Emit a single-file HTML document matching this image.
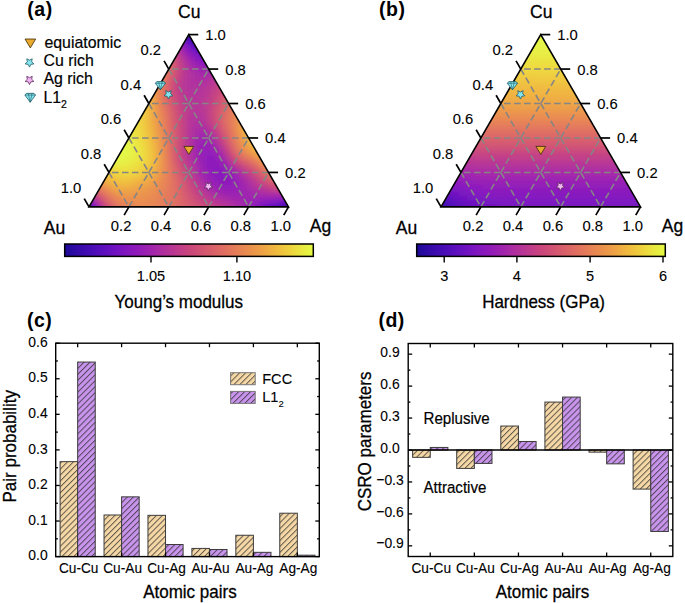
<!DOCTYPE html><html><head><meta charset="utf-8"><style>html,body{margin:0;padding:0;background:#fff;}svg{display:block;}text{font-family:"Liberation Sans", sans-serif;fill:#000;stroke:#000;}</style></head><body>
<svg width="685" height="603" viewBox="0 0 685 603">
<rect width="685" height="603" fill="#fff"/>
<defs><filter id="blur" x="-5%" y="-5%" width="110%" height="110%"><feGaussianBlur stdDeviation="1.8"/></filter>
<pattern id="hf" patternUnits="userSpaceOnUse" width="4.2" height="4.2" patternTransform="rotate(45)"><line x1="0.5" y1="0" x2="0.5" y2="4.2" stroke="#222" stroke-opacity="0.7" stroke-width="1.0"/></pattern>
<pattern id="hl" patternUnits="userSpaceOnUse" width="4.2" height="4.2" patternTransform="rotate(45)"><line x1="0.5" y1="0" x2="0.5" y2="4.2" stroke="#222" stroke-opacity="0.7" stroke-width="1.0"/></pattern>
</defs>
<text transform="translate(27.30,16.00)" font-size="19.5" text-anchor="start" font-weight="bold" stroke-width="0" letter-spacing="0.5">(a)</text>
<text transform="translate(379.00,16.00)" font-size="19.5" text-anchor="start" font-weight="bold" stroke-width="0" letter-spacing="0.5">(b)</text>
<text transform="translate(26.90,327.00)" font-size="19.5" text-anchor="start" font-weight="bold" stroke-width="0" letter-spacing="0.5">(c)</text>
<text transform="translate(378.40,327.00)" font-size="19.5" text-anchor="start" font-weight="bold" stroke-width="0" letter-spacing="0.5">(d)</text>
<clipPath id="ca"><polygon points="89,206.9 288.5,206.9 188.75,34.6"/></clipPath>
<g clip-path="url(#ca)"><g filter="url(#blur)">
<rect x="183" y="28.6" width="4.3" height="4.3" fill="#3b0bac"/>
<rect x="187" y="28.6" width="4.3" height="4.3" fill="#310aa4"/>
<rect x="191" y="28.6" width="4.3" height="4.3" fill="#350ba8"/>
<rect x="179" y="32.6" width="4.3" height="4.3" fill="#6b10c0"/>
<rect x="183" y="32.6" width="4.3" height="4.3" fill="#4a0db7"/>
<rect x="187" y="32.6" width="4.3" height="4.3" fill="#300aa4"/>
<rect x="191" y="32.6" width="4.3" height="4.3" fill="#3c0bad"/>
<rect x="195" y="32.6" width="4.3" height="4.3" fill="#440cb3"/>
<rect x="179" y="36.6" width="4.3" height="4.3" fill="#7f16c0"/>
<rect x="183" y="36.6" width="4.3" height="4.3" fill="#600fbe"/>
<rect x="187" y="36.6" width="4.3" height="4.3" fill="#450cb4"/>
<rect x="191" y="36.6" width="4.3" height="4.3" fill="#410cb1"/>
<rect x="195" y="36.6" width="4.3" height="4.3" fill="#4a0db7"/>
<rect x="175" y="40.6" width="4.3" height="4.3" fill="#a225ab"/>
<rect x="179" y="40.6" width="4.3" height="4.3" fill="#8e19ba"/>
<rect x="183" y="40.6" width="4.3" height="4.3" fill="#7512c0"/>
<rect x="187" y="40.6" width="4.3" height="4.3" fill="#5e0ebd"/>
<rect x="191" y="40.6" width="4.3" height="4.3" fill="#490db6"/>
<rect x="195" y="40.6" width="4.3" height="4.3" fill="#500dba"/>
<rect x="199" y="40.6" width="4.3" height="4.3" fill="#5b0ebc"/>
<rect x="171" y="44.6" width="4.3" height="4.3" fill="#bc3a8e"/>
<rect x="175" y="44.6" width="4.3" height="4.3" fill="#ad2e9f"/>
<rect x="179" y="44.6" width="4.3" height="4.3" fill="#9b21b1"/>
<rect x="183" y="44.6" width="4.3" height="4.3" fill="#8917bc"/>
<rect x="187" y="44.6" width="4.3" height="4.3" fill="#7513c0"/>
<rect x="191" y="44.6" width="4.3" height="4.3" fill="#610fbe"/>
<rect x="195" y="44.6" width="4.3" height="4.3" fill="#570ebc"/>
<rect x="199" y="44.6" width="4.3" height="4.3" fill="#630fbe"/>
<rect x="171" y="48.6" width="4.3" height="4.3" fill="#c44183"/>
<rect x="175" y="48.6" width="4.3" height="4.3" fill="#b83693"/>
<rect x="179" y="48.6" width="4.3" height="4.3" fill="#a92aa4"/>
<rect x="183" y="48.6" width="4.3" height="4.3" fill="#981fb4"/>
<rect x="187" y="48.6" width="4.3" height="4.3" fill="#8817bd"/>
<rect x="191" y="48.6" width="4.3" height="4.3" fill="#7713c0"/>
<rect x="195" y="48.6" width="4.3" height="4.3" fill="#660fbf"/>
<rect x="199" y="48.6" width="4.3" height="4.3" fill="#6a10bf"/>
<rect x="203" y="48.6" width="4.3" height="4.3" fill="#7312c0"/>
<rect x="167" y="52.6" width="4.3" height="4.3" fill="#d25572"/>
<rect x="171" y="52.6" width="4.3" height="4.3" fill="#cb4a7a"/>
<rect x="175" y="52.6" width="4.3" height="4.3" fill="#c13f87"/>
<rect x="179" y="52.6" width="4.3" height="4.3" fill="#b33299"/>
<rect x="183" y="52.6" width="4.3" height="4.3" fill="#a326aa"/>
<rect x="187" y="52.6" width="4.3" height="4.3" fill="#951db5"/>
<rect x="191" y="52.6" width="4.3" height="4.3" fill="#8817bd"/>
<rect x="195" y="52.6" width="4.3" height="4.3" fill="#7a14c0"/>
<rect x="199" y="52.6" width="4.3" height="4.3" fill="#7011c0"/>
<rect x="203" y="52.6" width="4.3" height="4.3" fill="#7c14c0"/>
<rect x="207" y="52.6" width="4.3" height="4.3" fill="#8516be"/>
<rect x="167" y="56.6" width="4.3" height="4.3" fill="#d75d6c"/>
<rect x="171" y="56.6" width="4.3" height="4.3" fill="#d15373"/>
<rect x="175" y="56.6" width="4.3" height="4.3" fill="#c8457e"/>
<rect x="179" y="56.6" width="4.3" height="4.3" fill="#ba3890"/>
<rect x="183" y="56.6" width="4.3" height="4.3" fill="#ac2da0"/>
<rect x="187" y="56.6" width="4.3" height="4.3" fill="#a024ad"/>
<rect x="191" y="56.6" width="4.3" height="4.3" fill="#931cb7"/>
<rect x="195" y="56.6" width="4.3" height="4.3" fill="#8917bd"/>
<rect x="199" y="56.6" width="4.3" height="4.3" fill="#8016c0"/>
<rect x="203" y="56.6" width="4.3" height="4.3" fill="#8316bf"/>
<rect x="207" y="56.6" width="4.3" height="4.3" fill="#8c18bb"/>
<rect x="163" y="60.6" width="4.3" height="4.3" fill="#de6b63"/>
<rect x="167" y="60.6" width="4.3" height="4.3" fill="#db6468"/>
<rect x="171" y="60.6" width="4.3" height="4.3" fill="#d65b6e"/>
<rect x="175" y="60.6" width="4.3" height="4.3" fill="#cb497a"/>
<rect x="179" y="60.6" width="4.3" height="4.3" fill="#bf3c8a"/>
<rect x="183" y="60.6" width="4.3" height="4.3" fill="#b33299"/>
<rect x="187" y="60.6" width="4.3" height="4.3" fill="#a82aa5"/>
<rect x="191" y="60.6" width="4.3" height="4.3" fill="#9c21b0"/>
<rect x="195" y="60.6" width="4.3" height="4.3" fill="#941db6"/>
<rect x="199" y="60.6" width="4.3" height="4.3" fill="#8e19ba"/>
<rect x="203" y="60.6" width="4.3" height="4.3" fill="#8a18bc"/>
<rect x="207" y="60.6" width="4.3" height="4.3" fill="#921bb8"/>
<rect x="211" y="60.6" width="4.3" height="4.3" fill="#991fb3"/>
<rect x="159" y="64.6" width="4.3" height="4.3" fill="#e1735e"/>
<rect x="163" y="64.6" width="4.3" height="4.3" fill="#e07060"/>
<rect x="167" y="64.6" width="4.3" height="4.3" fill="#dd6a64"/>
<rect x="171" y="64.6" width="4.3" height="4.3" fill="#d65c6d"/>
<rect x="175" y="64.6" width="4.3" height="4.3" fill="#cc4b79"/>
<rect x="179" y="64.6" width="4.3" height="4.3" fill="#c13f86"/>
<rect x="183" y="64.6" width="4.3" height="4.3" fill="#b73594"/>
<rect x="187" y="64.6" width="4.3" height="4.3" fill="#ac2da0"/>
<rect x="191" y="64.6" width="4.3" height="4.3" fill="#a427a9"/>
<rect x="195" y="64.6" width="4.3" height="4.3" fill="#9e22af"/>
<rect x="199" y="64.6" width="4.3" height="4.3" fill="#9920b3"/>
<rect x="203" y="64.6" width="4.3" height="4.3" fill="#951db5"/>
<rect x="207" y="64.6" width="4.3" height="4.3" fill="#981fb4"/>
<rect x="211" y="64.6" width="4.3" height="4.3" fill="#9f23ae"/>
<rect x="159" y="68.6" width="4.3" height="4.3" fill="#e3775b"/>
<rect x="163" y="68.6" width="4.3" height="4.3" fill="#e1735e"/>
<rect x="167" y="68.6" width="4.3" height="4.3" fill="#de6b63"/>
<rect x="171" y="68.6" width="4.3" height="4.3" fill="#d65b6e"/>
<rect x="175" y="68.6" width="4.3" height="4.3" fill="#cc4b79"/>
<rect x="179" y="68.6" width="4.3" height="4.3" fill="#c23f85"/>
<rect x="183" y="68.6" width="4.3" height="4.3" fill="#b83693"/>
<rect x="187" y="68.6" width="4.3" height="4.3" fill="#b02f9d"/>
<rect x="191" y="68.6" width="4.3" height="4.3" fill="#a92aa4"/>
<rect x="195" y="68.6" width="4.3" height="4.3" fill="#a326aa"/>
<rect x="199" y="68.6" width="4.3" height="4.3" fill="#a024ad"/>
<rect x="203" y="68.6" width="4.3" height="4.3" fill="#9f23ae"/>
<rect x="207" y="68.6" width="4.3" height="4.3" fill="#9f23ae"/>
<rect x="211" y="68.6" width="4.3" height="4.3" fill="#a427a9"/>
<rect x="215" y="68.6" width="4.3" height="4.3" fill="#ab2ca2"/>
<rect x="155" y="72.6" width="4.3" height="4.3" fill="#e57d58"/>
<rect x="159" y="72.6" width="4.3" height="4.3" fill="#e47a5a"/>
<rect x="163" y="72.6" width="4.3" height="4.3" fill="#e3775b"/>
<rect x="167" y="72.6" width="4.3" height="4.3" fill="#dc6865"/>
<rect x="171" y="72.6" width="4.3" height="4.3" fill="#d35671"/>
<rect x="175" y="72.6" width="4.3" height="4.3" fill="#ca487b"/>
<rect x="179" y="72.6" width="4.3" height="4.3" fill="#c13e88"/>
<rect x="183" y="72.6" width="4.3" height="4.3" fill="#b83693"/>
<rect x="187" y="72.6" width="4.3" height="4.3" fill="#b2319b"/>
<rect x="191" y="72.6" width="4.3" height="4.3" fill="#ac2da1"/>
<rect x="195" y="72.6" width="4.3" height="4.3" fill="#a82aa5"/>
<rect x="199" y="72.6" width="4.3" height="4.3" fill="#a628a8"/>
<rect x="203" y="72.6" width="4.3" height="4.3" fill="#a628a8"/>
<rect x="207" y="72.6" width="4.3" height="4.3" fill="#a729a6"/>
<rect x="211" y="72.6" width="4.3" height="4.3" fill="#ab2ca2"/>
<rect x="215" y="72.6" width="4.3" height="4.3" fill="#b2319b"/>
<rect x="219" y="72.6" width="4.3" height="4.3" fill="#b83693"/>
<rect x="155" y="76.6" width="4.3" height="4.3" fill="#e68056"/>
<rect x="159" y="76.6" width="4.3" height="4.3" fill="#e57d58"/>
<rect x="163" y="76.6" width="4.3" height="4.3" fill="#e1735e"/>
<rect x="167" y="76.6" width="4.3" height="4.3" fill="#d96269"/>
<rect x="171" y="76.6" width="4.3" height="4.3" fill="#d05274"/>
<rect x="175" y="76.6" width="4.3" height="4.3" fill="#c7447f"/>
<rect x="179" y="76.6" width="4.3" height="4.3" fill="#be3b8b"/>
<rect x="183" y="76.6" width="4.3" height="4.3" fill="#b73594"/>
<rect x="187" y="76.6" width="4.3" height="4.3" fill="#b2319b"/>
<rect x="191" y="76.6" width="4.3" height="4.3" fill="#af2f9e"/>
<rect x="195" y="76.6" width="4.3" height="4.3" fill="#ab2ca2"/>
<rect x="199" y="76.6" width="4.3" height="4.3" fill="#aa2ba3"/>
<rect x="203" y="76.6" width="4.3" height="4.3" fill="#ab2ca2"/>
<rect x="207" y="76.6" width="4.3" height="4.3" fill="#af2f9e"/>
<rect x="211" y="76.6" width="4.3" height="4.3" fill="#b2319a"/>
<rect x="215" y="76.6" width="4.3" height="4.3" fill="#b83693"/>
<rect x="219" y="76.6" width="4.3" height="4.3" fill="#bd3a8d"/>
<rect x="151" y="80.6" width="4.3" height="4.3" fill="#e98a50"/>
<rect x="155" y="80.6" width="4.3" height="4.3" fill="#e78553"/>
<rect x="159" y="80.6" width="4.3" height="4.3" fill="#e68056"/>
<rect x="163" y="80.6" width="4.3" height="4.3" fill="#e06f61"/>
<rect x="167" y="80.6" width="4.3" height="4.3" fill="#d75d6c"/>
<rect x="171" y="80.6" width="4.3" height="4.3" fill="#ce4d77"/>
<rect x="175" y="80.6" width="4.3" height="4.3" fill="#c44183"/>
<rect x="179" y="80.6" width="4.3" height="4.3" fill="#bc3a8e"/>
<rect x="183" y="80.6" width="4.3" height="4.3" fill="#b53497"/>
<rect x="187" y="80.6" width="4.3" height="4.3" fill="#b1309c"/>
<rect x="191" y="80.6" width="4.3" height="4.3" fill="#af2f9e"/>
<rect x="195" y="80.6" width="4.3" height="4.3" fill="#ad2e9f"/>
<rect x="199" y="80.6" width="4.3" height="4.3" fill="#ad2e9f"/>
<rect x="203" y="80.6" width="4.3" height="4.3" fill="#b02f9d"/>
<rect x="207" y="80.6" width="4.3" height="4.3" fill="#b43398"/>
<rect x="211" y="80.6" width="4.3" height="4.3" fill="#b83693"/>
<rect x="215" y="80.6" width="4.3" height="4.3" fill="#bd3a8d"/>
<rect x="219" y="80.6" width="4.3" height="4.3" fill="#c13e86"/>
<rect x="223" y="80.6" width="4.3" height="4.3" fill="#c64380"/>
<rect x="151" y="84.6" width="4.3" height="4.3" fill="#ea904d"/>
<rect x="155" y="84.6" width="4.3" height="4.3" fill="#e98a50"/>
<rect x="159" y="84.6" width="4.3" height="4.3" fill="#e57d58"/>
<rect x="163" y="84.6" width="4.3" height="4.3" fill="#de6b63"/>
<rect x="167" y="84.6" width="4.3" height="4.3" fill="#d65b6e"/>
<rect x="171" y="84.6" width="4.3" height="4.3" fill="#cc4b79"/>
<rect x="175" y="84.6" width="4.3" height="4.3" fill="#c34084"/>
<rect x="179" y="84.6" width="4.3" height="4.3" fill="#bb398f"/>
<rect x="183" y="84.6" width="4.3" height="4.3" fill="#b53497"/>
<rect x="187" y="84.6" width="4.3" height="4.3" fill="#b1309c"/>
<rect x="191" y="84.6" width="4.3" height="4.3" fill="#b0309d"/>
<rect x="195" y="84.6" width="4.3" height="4.3" fill="#b0309d"/>
<rect x="199" y="84.6" width="4.3" height="4.3" fill="#b1309c"/>
<rect x="203" y="84.6" width="4.3" height="4.3" fill="#b33299"/>
<rect x="207" y="84.6" width="4.3" height="4.3" fill="#b73594"/>
<rect x="211" y="84.6" width="4.3" height="4.3" fill="#bc398e"/>
<rect x="215" y="84.6" width="4.3" height="4.3" fill="#c13f86"/>
<rect x="219" y="84.6" width="4.3" height="4.3" fill="#c7447f"/>
<rect x="223" y="84.6" width="4.3" height="4.3" fill="#ca487b"/>
<rect x="147" y="88.6" width="4.3" height="4.3" fill="#ed9e47"/>
<rect x="151" y="88.6" width="4.3" height="4.3" fill="#ec9849"/>
<rect x="155" y="88.6" width="4.3" height="4.3" fill="#e98e4e"/>
<rect x="159" y="88.6" width="4.3" height="4.3" fill="#e57c58"/>
<rect x="163" y="88.6" width="4.3" height="4.3" fill="#de6b63"/>
<rect x="167" y="88.6" width="4.3" height="4.3" fill="#d65b6e"/>
<rect x="171" y="88.6" width="4.3" height="4.3" fill="#cc4b79"/>
<rect x="175" y="88.6" width="4.3" height="4.3" fill="#c34084"/>
<rect x="179" y="88.6" width="4.3" height="4.3" fill="#bb398f"/>
<rect x="183" y="88.6" width="4.3" height="4.3" fill="#b53497"/>
<rect x="187" y="88.6" width="4.3" height="4.3" fill="#b2319a"/>
<rect x="191" y="88.6" width="4.3" height="4.3" fill="#b1309c"/>
<rect x="195" y="88.6" width="4.3" height="4.3" fill="#b1309c"/>
<rect x="199" y="88.6" width="4.3" height="4.3" fill="#b33299"/>
<rect x="203" y="88.6" width="4.3" height="4.3" fill="#b63596"/>
<rect x="207" y="88.6" width="4.3" height="4.3" fill="#ba3890"/>
<rect x="211" y="88.6" width="4.3" height="4.3" fill="#bf3c8a"/>
<rect x="215" y="88.6" width="4.3" height="4.3" fill="#c54282"/>
<rect x="219" y="88.6" width="4.3" height="4.3" fill="#cb497a"/>
<rect x="223" y="88.6" width="4.3" height="4.3" fill="#ce4d77"/>
<rect x="227" y="88.6" width="4.3" height="4.3" fill="#d15373"/>
<rect x="143" y="92.6" width="4.3" height="4.3" fill="#efae41"/>
<rect x="147" y="92.6" width="4.3" height="4.3" fill="#eea644"/>
<rect x="151" y="92.6" width="4.3" height="4.3" fill="#eda046"/>
<rect x="155" y="92.6" width="4.3" height="4.3" fill="#e98e4e"/>
<rect x="159" y="92.6" width="4.3" height="4.3" fill="#e57c58"/>
<rect x="163" y="92.6" width="4.3" height="4.3" fill="#de6c62"/>
<rect x="167" y="92.6" width="4.3" height="4.3" fill="#d65c6d"/>
<rect x="171" y="92.6" width="4.3" height="4.3" fill="#ce4d77"/>
<rect x="175" y="92.6" width="4.3" height="4.3" fill="#c54282"/>
<rect x="179" y="92.6" width="4.3" height="4.3" fill="#bd3a8d"/>
<rect x="183" y="92.6" width="4.3" height="4.3" fill="#b73594"/>
<rect x="187" y="92.6" width="4.3" height="4.3" fill="#b43398"/>
<rect x="191" y="92.6" width="4.3" height="4.3" fill="#b33299"/>
<rect x="195" y="92.6" width="4.3" height="4.3" fill="#b2319a"/>
<rect x="199" y="92.6" width="4.3" height="4.3" fill="#b43398"/>
<rect x="203" y="92.6" width="4.3" height="4.3" fill="#b73594"/>
<rect x="207" y="92.6" width="4.3" height="4.3" fill="#bc398e"/>
<rect x="211" y="92.6" width="4.3" height="4.3" fill="#c13f86"/>
<rect x="215" y="92.6" width="4.3" height="4.3" fill="#c8447e"/>
<rect x="219" y="92.6" width="4.3" height="4.3" fill="#cd4c78"/>
<rect x="223" y="92.6" width="4.3" height="4.3" fill="#d25472"/>
<rect x="227" y="92.6" width="4.3" height="4.3" fill="#d4596f"/>
<rect x="143" y="96.6" width="4.3" height="4.3" fill="#f0b63f"/>
<rect x="147" y="96.6" width="4.3" height="4.3" fill="#f0af41"/>
<rect x="151" y="96.6" width="4.3" height="4.3" fill="#eea445"/>
<rect x="155" y="96.6" width="4.3" height="4.3" fill="#ea904d"/>
<rect x="159" y="96.6" width="4.3" height="4.3" fill="#e57d58"/>
<rect x="163" y="96.6" width="4.3" height="4.3" fill="#df6d61"/>
<rect x="167" y="96.6" width="4.3" height="4.3" fill="#d85e6b"/>
<rect x="171" y="96.6" width="4.3" height="4.3" fill="#cf4f76"/>
<rect x="175" y="96.6" width="4.3" height="4.3" fill="#c8457e"/>
<rect x="179" y="96.6" width="4.3" height="4.3" fill="#c03d89"/>
<rect x="183" y="96.6" width="4.3" height="4.3" fill="#b93792"/>
<rect x="187" y="96.6" width="4.3" height="4.3" fill="#b63596"/>
<rect x="191" y="96.6" width="4.3" height="4.3" fill="#b43398"/>
<rect x="195" y="96.6" width="4.3" height="4.3" fill="#b33299"/>
<rect x="199" y="96.6" width="4.3" height="4.3" fill="#b53497"/>
<rect x="203" y="96.6" width="4.3" height="4.3" fill="#b93792"/>
<rect x="207" y="96.6" width="4.3" height="4.3" fill="#be3b8b"/>
<rect x="211" y="96.6" width="4.3" height="4.3" fill="#c34084"/>
<rect x="215" y="96.6" width="4.3" height="4.3" fill="#ca487b"/>
<rect x="219" y="96.6" width="4.3" height="4.3" fill="#d05175"/>
<rect x="223" y="96.6" width="4.3" height="4.3" fill="#d55a6e"/>
<rect x="227" y="96.6" width="4.3" height="4.3" fill="#d85f6b"/>
<rect x="231" y="96.6" width="4.3" height="4.3" fill="#db6567"/>
<rect x="139" y="100.6" width="4.3" height="4.3" fill="#f0c13d"/>
<rect x="143" y="100.6" width="4.3" height="4.3" fill="#f0bc3e"/>
<rect x="147" y="100.6" width="4.3" height="4.3" fill="#f0b73f"/>
<rect x="151" y="100.6" width="4.3" height="4.3" fill="#eea445"/>
<rect x="155" y="100.6" width="4.3" height="4.3" fill="#ea914c"/>
<rect x="159" y="100.6" width="4.3" height="4.3" fill="#e68056"/>
<rect x="163" y="100.6" width="4.3" height="4.3" fill="#e07060"/>
<rect x="167" y="100.6" width="4.3" height="4.3" fill="#d9616a"/>
<rect x="171" y="100.6" width="4.3" height="4.3" fill="#d15373"/>
<rect x="175" y="100.6" width="4.3" height="4.3" fill="#ca487b"/>
<rect x="179" y="100.6" width="4.3" height="4.3" fill="#c23f85"/>
<rect x="183" y="100.6" width="4.3" height="4.3" fill="#bc3a8e"/>
<rect x="187" y="100.6" width="4.3" height="4.3" fill="#b73594"/>
<rect x="191" y="100.6" width="4.3" height="4.3" fill="#b53497"/>
<rect x="195" y="100.6" width="4.3" height="4.3" fill="#b43398"/>
<rect x="199" y="100.6" width="4.3" height="4.3" fill="#b63495"/>
<rect x="203" y="100.6" width="4.3" height="4.3" fill="#ba3891"/>
<rect x="207" y="100.6" width="4.3" height="4.3" fill="#bf3c8a"/>
<rect x="211" y="100.6" width="4.3" height="4.3" fill="#c54281"/>
<rect x="215" y="100.6" width="4.3" height="4.3" fill="#cb4a7a"/>
<rect x="219" y="100.6" width="4.3" height="4.3" fill="#d25472"/>
<rect x="223" y="100.6" width="4.3" height="4.3" fill="#d75d6c"/>
<rect x="227" y="100.6" width="4.3" height="4.3" fill="#dc6666"/>
<rect x="231" y="100.6" width="4.3" height="4.3" fill="#de6c62"/>
<rect x="235" y="100.6" width="4.3" height="4.3" fill="#e0715f"/>
<rect x="139" y="104.6" width="4.3" height="4.3" fill="#f0c63c"/>
<rect x="143" y="104.6" width="4.3" height="4.3" fill="#f0c33d"/>
<rect x="147" y="104.6" width="4.3" height="4.3" fill="#f0b83f"/>
<rect x="151" y="104.6" width="4.3" height="4.3" fill="#eea644"/>
<rect x="155" y="104.6" width="4.3" height="4.3" fill="#ea924b"/>
<rect x="159" y="104.6" width="4.3" height="4.3" fill="#e68155"/>
<rect x="163" y="104.6" width="4.3" height="4.3" fill="#e1725e"/>
<rect x="167" y="104.6" width="4.3" height="4.3" fill="#da6368"/>
<rect x="171" y="104.6" width="4.3" height="4.3" fill="#d25572"/>
<rect x="175" y="104.6" width="4.3" height="4.3" fill="#cc4a79"/>
<rect x="179" y="104.6" width="4.3" height="4.3" fill="#c44183"/>
<rect x="183" y="104.6" width="4.3" height="4.3" fill="#bd3a8d"/>
<rect x="187" y="104.6" width="4.3" height="4.3" fill="#b83693"/>
<rect x="191" y="104.6" width="4.3" height="4.3" fill="#b53497"/>
<rect x="195" y="104.6" width="4.3" height="4.3" fill="#b53497"/>
<rect x="199" y="104.6" width="4.3" height="4.3" fill="#b73594"/>
<rect x="203" y="104.6" width="4.3" height="4.3" fill="#ba3890"/>
<rect x="207" y="104.6" width="4.3" height="4.3" fill="#c13e88"/>
<rect x="211" y="104.6" width="4.3" height="4.3" fill="#c8457e"/>
<rect x="215" y="104.6" width="4.3" height="4.3" fill="#ce4d77"/>
<rect x="219" y="104.6" width="4.3" height="4.3" fill="#d45770"/>
<rect x="223" y="104.6" width="4.3" height="4.3" fill="#d96269"/>
<rect x="227" y="104.6" width="4.3" height="4.3" fill="#de6c62"/>
<rect x="231" y="104.6" width="4.3" height="4.3" fill="#e1735e"/>
<rect x="235" y="104.6" width="4.3" height="4.3" fill="#e3785b"/>
<rect x="135" y="108.6" width="4.3" height="4.3" fill="#efcf3c"/>
<rect x="139" y="108.6" width="4.3" height="4.3" fill="#efcb3c"/>
<rect x="143" y="108.6" width="4.3" height="4.3" fill="#f0c83c"/>
<rect x="147" y="108.6" width="4.3" height="4.3" fill="#f0b73f"/>
<rect x="151" y="108.6" width="4.3" height="4.3" fill="#eea644"/>
<rect x="155" y="108.6" width="4.3" height="4.3" fill="#eb944b"/>
<rect x="159" y="108.6" width="4.3" height="4.3" fill="#e78454"/>
<rect x="163" y="108.6" width="4.3" height="4.3" fill="#e2755d"/>
<rect x="167" y="108.6" width="4.3" height="4.3" fill="#dc6666"/>
<rect x="171" y="108.6" width="4.3" height="4.3" fill="#d4596f"/>
<rect x="175" y="108.6" width="4.3" height="4.3" fill="#cd4c78"/>
<rect x="179" y="108.6" width="4.3" height="4.3" fill="#c54281"/>
<rect x="183" y="108.6" width="4.3" height="4.3" fill="#bf3c8a"/>
<rect x="187" y="108.6" width="4.3" height="4.3" fill="#b93792"/>
<rect x="191" y="108.6" width="4.3" height="4.3" fill="#b53497"/>
<rect x="195" y="108.6" width="4.3" height="4.3" fill="#b43398"/>
<rect x="199" y="108.6" width="4.3" height="4.3" fill="#b63495"/>
<rect x="203" y="108.6" width="4.3" height="4.3" fill="#ba3891"/>
<rect x="207" y="108.6" width="4.3" height="4.3" fill="#c13e88"/>
<rect x="211" y="108.6" width="4.3" height="4.3" fill="#c9477c"/>
<rect x="215" y="108.6" width="4.3" height="4.3" fill="#d05175"/>
<rect x="219" y="108.6" width="4.3" height="4.3" fill="#d65c6d"/>
<rect x="223" y="108.6" width="4.3" height="4.3" fill="#dc6666"/>
<rect x="227" y="108.6" width="4.3" height="4.3" fill="#e1715f"/>
<rect x="231" y="108.6" width="4.3" height="4.3" fill="#e47b59"/>
<rect x="235" y="108.6" width="4.3" height="4.3" fill="#e68155"/>
<rect x="239" y="108.6" width="4.3" height="4.3" fill="#e78553"/>
<rect x="135" y="112.6" width="4.3" height="4.3" fill="#eed23c"/>
<rect x="139" y="112.6" width="4.3" height="4.3" fill="#efd13c"/>
<rect x="143" y="112.6" width="4.3" height="4.3" fill="#f0c63c"/>
<rect x="147" y="112.6" width="4.3" height="4.3" fill="#f0b73f"/>
<rect x="151" y="112.6" width="4.3" height="4.3" fill="#efa844"/>
<rect x="155" y="112.6" width="4.3" height="4.3" fill="#eb974a"/>
<rect x="159" y="112.6" width="4.3" height="4.3" fill="#e88652"/>
<rect x="163" y="112.6" width="4.3" height="4.3" fill="#e3775b"/>
<rect x="167" y="112.6" width="4.3" height="4.3" fill="#dd6964"/>
<rect x="171" y="112.6" width="4.3" height="4.3" fill="#d65b6e"/>
<rect x="175" y="112.6" width="4.3" height="4.3" fill="#ce4d77"/>
<rect x="179" y="112.6" width="4.3" height="4.3" fill="#c7447f"/>
<rect x="183" y="112.6" width="4.3" height="4.3" fill="#bf3c8a"/>
<rect x="187" y="112.6" width="4.3" height="4.3" fill="#b93792"/>
<rect x="191" y="112.6" width="4.3" height="4.3" fill="#b43398"/>
<rect x="195" y="112.6" width="4.3" height="4.3" fill="#b33299"/>
<rect x="199" y="112.6" width="4.3" height="4.3" fill="#b43398"/>
<rect x="203" y="112.6" width="4.3" height="4.3" fill="#b93792"/>
<rect x="207" y="112.6" width="4.3" height="4.3" fill="#c13e88"/>
<rect x="211" y="112.6" width="4.3" height="4.3" fill="#c9477c"/>
<rect x="215" y="112.6" width="4.3" height="4.3" fill="#d15373"/>
<rect x="219" y="112.6" width="4.3" height="4.3" fill="#d85e6b"/>
<rect x="223" y="112.6" width="4.3" height="4.3" fill="#dd6965"/>
<rect x="227" y="112.6" width="4.3" height="4.3" fill="#e1735e"/>
<rect x="231" y="112.6" width="4.3" height="4.3" fill="#e68056"/>
<rect x="235" y="112.6" width="4.3" height="4.3" fill="#e88851"/>
<rect x="239" y="112.6" width="4.3" height="4.3" fill="#e98d4e"/>
<rect x="131" y="116.6" width="4.3" height="4.3" fill="#edd93d"/>
<rect x="135" y="116.6" width="4.3" height="4.3" fill="#eed63c"/>
<rect x="139" y="116.6" width="4.3" height="4.3" fill="#eed23c"/>
<rect x="143" y="116.6" width="4.3" height="4.3" fill="#f0c53c"/>
<rect x="147" y="116.6" width="4.3" height="4.3" fill="#f0b73f"/>
<rect x="151" y="116.6" width="4.3" height="4.3" fill="#efa844"/>
<rect x="155" y="116.6" width="4.3" height="4.3" fill="#ec9849"/>
<rect x="159" y="116.6" width="4.3" height="4.3" fill="#e88951"/>
<rect x="163" y="116.6" width="4.3" height="4.3" fill="#e47a5a"/>
<rect x="167" y="116.6" width="4.3" height="4.3" fill="#dd6a64"/>
<rect x="171" y="116.6" width="4.3" height="4.3" fill="#d65c6d"/>
<rect x="175" y="116.6" width="4.3" height="4.3" fill="#cf4f76"/>
<rect x="179" y="116.6" width="4.3" height="4.3" fill="#c8457e"/>
<rect x="183" y="116.6" width="4.3" height="4.3" fill="#bf3c8a"/>
<rect x="187" y="116.6" width="4.3" height="4.3" fill="#b83693"/>
<rect x="191" y="116.6" width="4.3" height="4.3" fill="#b33299"/>
<rect x="195" y="116.6" width="4.3" height="4.3" fill="#b1309c"/>
<rect x="199" y="116.6" width="4.3" height="4.3" fill="#b2319a"/>
<rect x="203" y="116.6" width="4.3" height="4.3" fill="#b73594"/>
<rect x="207" y="116.6" width="4.3" height="4.3" fill="#c03d89"/>
<rect x="211" y="116.6" width="4.3" height="4.3" fill="#c8457d"/>
<rect x="215" y="116.6" width="4.3" height="4.3" fill="#d05274"/>
<rect x="219" y="116.6" width="4.3" height="4.3" fill="#d85e6b"/>
<rect x="223" y="116.6" width="4.3" height="4.3" fill="#dd6a64"/>
<rect x="227" y="116.6" width="4.3" height="4.3" fill="#e2765c"/>
<rect x="231" y="116.6" width="4.3" height="4.3" fill="#e68155"/>
<rect x="235" y="116.6" width="4.3" height="4.3" fill="#e98e4e"/>
<rect x="239" y="116.6" width="4.3" height="4.3" fill="#eb944b"/>
<rect x="243" y="116.6" width="4.3" height="4.3" fill="#ec9849"/>
<rect x="127" y="120.6" width="4.3" height="4.3" fill="#ecdf3e"/>
<rect x="131" y="120.6" width="4.3" height="4.3" fill="#ecdd3d"/>
<rect x="135" y="120.6" width="4.3" height="4.3" fill="#eddb3d"/>
<rect x="139" y="120.6" width="4.3" height="4.3" fill="#efd13c"/>
<rect x="143" y="120.6" width="4.3" height="4.3" fill="#f0c53c"/>
<rect x="147" y="120.6" width="4.3" height="4.3" fill="#f0b73f"/>
<rect x="151" y="120.6" width="4.3" height="4.3" fill="#efa943"/>
<rect x="155" y="120.6" width="4.3" height="4.3" fill="#ec9a49"/>
<rect x="159" y="120.6" width="4.3" height="4.3" fill="#e98a50"/>
<rect x="163" y="120.6" width="4.3" height="4.3" fill="#e47b59"/>
<rect x="167" y="120.6" width="4.3" height="4.3" fill="#df6c62"/>
<rect x="171" y="120.6" width="4.3" height="4.3" fill="#d75d6c"/>
<rect x="175" y="120.6" width="4.3" height="4.3" fill="#d05175"/>
<rect x="179" y="120.6" width="4.3" height="4.3" fill="#c8447e"/>
<rect x="183" y="120.6" width="4.3" height="4.3" fill="#bf3c8a"/>
<rect x="187" y="120.6" width="4.3" height="4.3" fill="#b73594"/>
<rect x="191" y="120.6" width="4.3" height="4.3" fill="#b2319b"/>
<rect x="195" y="120.6" width="4.3" height="4.3" fill="#af2f9e"/>
<rect x="199" y="120.6" width="4.3" height="4.3" fill="#af2e9e"/>
<rect x="203" y="120.6" width="4.3" height="4.3" fill="#b53497"/>
<rect x="207" y="120.6" width="4.3" height="4.3" fill="#bd3a8d"/>
<rect x="211" y="120.6" width="4.3" height="4.3" fill="#c64380"/>
<rect x="215" y="120.6" width="4.3" height="4.3" fill="#ce4e76"/>
<rect x="219" y="120.6" width="4.3" height="4.3" fill="#d65c6d"/>
<rect x="223" y="120.6" width="4.3" height="4.3" fill="#dd6965"/>
<rect x="227" y="120.6" width="4.3" height="4.3" fill="#e2755d"/>
<rect x="231" y="120.6" width="4.3" height="4.3" fill="#e68155"/>
<rect x="235" y="120.6" width="4.3" height="4.3" fill="#ea904d"/>
<rect x="239" y="120.6" width="4.3" height="4.3" fill="#ec9b48"/>
<rect x="243" y="120.6" width="4.3" height="4.3" fill="#ed9e47"/>
<rect x="127" y="124.6" width="4.3" height="4.3" fill="#ebe23f"/>
<rect x="131" y="124.6" width="4.3" height="4.3" fill="#ebe03e"/>
<rect x="135" y="124.6" width="4.3" height="4.3" fill="#ecdd3d"/>
<rect x="139" y="124.6" width="4.3" height="4.3" fill="#eed23c"/>
<rect x="143" y="124.6" width="4.3" height="4.3" fill="#f0c63c"/>
<rect x="147" y="124.6" width="4.3" height="4.3" fill="#f0b93f"/>
<rect x="151" y="124.6" width="4.3" height="4.3" fill="#efab43"/>
<rect x="155" y="124.6" width="4.3" height="4.3" fill="#ec9b48"/>
<rect x="159" y="124.6" width="4.3" height="4.3" fill="#e98c4f"/>
<rect x="163" y="124.6" width="4.3" height="4.3" fill="#e57c58"/>
<rect x="167" y="124.6" width="4.3" height="4.3" fill="#df6d61"/>
<rect x="171" y="124.6" width="4.3" height="4.3" fill="#d85e6b"/>
<rect x="175" y="124.6" width="4.3" height="4.3" fill="#d05274"/>
<rect x="179" y="124.6" width="4.3" height="4.3" fill="#c9457d"/>
<rect x="183" y="124.6" width="4.3" height="4.3" fill="#c03d89"/>
<rect x="187" y="124.6" width="4.3" height="4.3" fill="#b73594"/>
<rect x="191" y="124.6" width="4.3" height="4.3" fill="#b02f9d"/>
<rect x="195" y="124.6" width="4.3" height="4.3" fill="#ac2da1"/>
<rect x="199" y="124.6" width="4.3" height="4.3" fill="#ab2ca2"/>
<rect x="203" y="124.6" width="4.3" height="4.3" fill="#af2f9e"/>
<rect x="207" y="124.6" width="4.3" height="4.3" fill="#b73594"/>
<rect x="211" y="124.6" width="4.3" height="4.3" fill="#c13e88"/>
<rect x="215" y="124.6" width="4.3" height="4.3" fill="#cb497a"/>
<rect x="219" y="124.6" width="4.3" height="4.3" fill="#d45770"/>
<rect x="223" y="124.6" width="4.3" height="4.3" fill="#db6567"/>
<rect x="227" y="124.6" width="4.3" height="4.3" fill="#e1725e"/>
<rect x="231" y="124.6" width="4.3" height="4.3" fill="#e68056"/>
<rect x="235" y="124.6" width="4.3" height="4.3" fill="#e98e4e"/>
<rect x="239" y="124.6" width="4.3" height="4.3" fill="#ed9e47"/>
<rect x="243" y="124.6" width="4.3" height="4.3" fill="#eea644"/>
<rect x="247" y="124.6" width="4.3" height="4.3" fill="#efa943"/>
<rect x="123" y="128.6" width="4.3" height="4.3" fill="#e9e841"/>
<rect x="127" y="128.6" width="4.3" height="4.3" fill="#eae640"/>
<rect x="131" y="128.6" width="4.3" height="4.3" fill="#eae440"/>
<rect x="135" y="128.6" width="4.3" height="4.3" fill="#ecdd3d"/>
<rect x="139" y="128.6" width="4.3" height="4.3" fill="#eed43c"/>
<rect x="143" y="128.6" width="4.3" height="4.3" fill="#f0c83c"/>
<rect x="147" y="128.6" width="4.3" height="4.3" fill="#f0bc3e"/>
<rect x="151" y="128.6" width="4.3" height="4.3" fill="#efae42"/>
<rect x="155" y="128.6" width="4.3" height="4.3" fill="#ed9e47"/>
<rect x="159" y="128.6" width="4.3" height="4.3" fill="#e98e4d"/>
<rect x="163" y="128.6" width="4.3" height="4.3" fill="#e57d58"/>
<rect x="167" y="128.6" width="4.3" height="4.3" fill="#e06f61"/>
<rect x="171" y="128.6" width="4.3" height="4.3" fill="#d85f6b"/>
<rect x="175" y="128.6" width="4.3" height="4.3" fill="#d05274"/>
<rect x="179" y="128.6" width="4.3" height="4.3" fill="#c9457d"/>
<rect x="183" y="128.6" width="4.3" height="4.3" fill="#bf3c8a"/>
<rect x="187" y="128.6" width="4.3" height="4.3" fill="#b63495"/>
<rect x="191" y="128.6" width="4.3" height="4.3" fill="#af2f9e"/>
<rect x="195" y="128.6" width="4.3" height="4.3" fill="#a92aa4"/>
<rect x="199" y="128.6" width="4.3" height="4.3" fill="#a729a7"/>
<rect x="203" y="128.6" width="4.3" height="4.3" fill="#a829a5"/>
<rect x="207" y="128.6" width="4.3" height="4.3" fill="#b02f9d"/>
<rect x="211" y="128.6" width="4.3" height="4.3" fill="#ba3891"/>
<rect x="215" y="128.6" width="4.3" height="4.3" fill="#c44183"/>
<rect x="219" y="128.6" width="4.3" height="4.3" fill="#d05175"/>
<rect x="223" y="128.6" width="4.3" height="4.3" fill="#d85f6b"/>
<rect x="227" y="128.6" width="4.3" height="4.3" fill="#df6d62"/>
<rect x="231" y="128.6" width="4.3" height="4.3" fill="#e57d57"/>
<rect x="235" y="128.6" width="4.3" height="4.3" fill="#e98d4e"/>
<rect x="239" y="128.6" width="4.3" height="4.3" fill="#ed9d47"/>
<rect x="243" y="128.6" width="4.3" height="4.3" fill="#efab43"/>
<rect x="247" y="128.6" width="4.3" height="4.3" fill="#efae42"/>
<rect x="251" y="128.6" width="4.3" height="4.3" fill="#f0af41"/>
<rect x="123" y="132.6" width="4.3" height="4.3" fill="#e8ed42"/>
<rect x="127" y="132.6" width="4.3" height="4.3" fill="#e8eb42"/>
<rect x="131" y="132.6" width="4.3" height="4.3" fill="#eae640"/>
<rect x="135" y="132.6" width="4.3" height="4.3" fill="#ecdf3e"/>
<rect x="139" y="132.6" width="4.3" height="4.3" fill="#eed63c"/>
<rect x="143" y="132.6" width="4.3" height="4.3" fill="#efcb3c"/>
<rect x="147" y="132.6" width="4.3" height="4.3" fill="#f0be3d"/>
<rect x="151" y="132.6" width="4.3" height="4.3" fill="#f0b141"/>
<rect x="155" y="132.6" width="4.3" height="4.3" fill="#eda046"/>
<rect x="159" y="132.6" width="4.3" height="4.3" fill="#ea904d"/>
<rect x="163" y="132.6" width="4.3" height="4.3" fill="#e57f57"/>
<rect x="167" y="132.6" width="4.3" height="4.3" fill="#e07060"/>
<rect x="171" y="132.6" width="4.3" height="4.3" fill="#d9616a"/>
<rect x="175" y="132.6" width="4.3" height="4.3" fill="#d05274"/>
<rect x="179" y="132.6" width="4.3" height="4.3" fill="#c9457d"/>
<rect x="183" y="132.6" width="4.3" height="4.3" fill="#bf3c8a"/>
<rect x="187" y="132.6" width="4.3" height="4.3" fill="#b53497"/>
<rect x="191" y="132.6" width="4.3" height="4.3" fill="#ae2e9f"/>
<rect x="195" y="132.6" width="4.3" height="4.3" fill="#a729a7"/>
<rect x="199" y="132.6" width="4.3" height="4.3" fill="#a225ab"/>
<rect x="203" y="132.6" width="4.3" height="4.3" fill="#a225ab"/>
<rect x="207" y="132.6" width="4.3" height="4.3" fill="#a82aa5"/>
<rect x="211" y="132.6" width="4.3" height="4.3" fill="#b2319b"/>
<rect x="215" y="132.6" width="4.3" height="4.3" fill="#be3b8c"/>
<rect x="219" y="132.6" width="4.3" height="4.3" fill="#ca487b"/>
<rect x="223" y="132.6" width="4.3" height="4.3" fill="#d4596f"/>
<rect x="227" y="132.6" width="4.3" height="4.3" fill="#dd6965"/>
<rect x="231" y="132.6" width="4.3" height="4.3" fill="#e3785b"/>
<rect x="235" y="132.6" width="4.3" height="4.3" fill="#e88951"/>
<rect x="239" y="132.6" width="4.3" height="4.3" fill="#ec9a48"/>
<rect x="243" y="132.6" width="4.3" height="4.3" fill="#efab43"/>
<rect x="247" y="132.6" width="4.3" height="4.3" fill="#f0b340"/>
<rect x="251" y="132.6" width="4.3" height="4.3" fill="#f0b440"/>
<rect x="119" y="136.6" width="4.3" height="4.3" fill="#e6f245"/>
<rect x="123" y="136.6" width="4.3" height="4.3" fill="#e7f044"/>
<rect x="127" y="136.6" width="4.3" height="4.3" fill="#e7ef43"/>
<rect x="131" y="136.6" width="4.3" height="4.3" fill="#e9e841"/>
<rect x="135" y="136.6" width="4.3" height="4.3" fill="#ebe03e"/>
<rect x="139" y="136.6" width="4.3" height="4.3" fill="#edd93d"/>
<rect x="143" y="136.6" width="4.3" height="4.3" fill="#efcf3c"/>
<rect x="147" y="136.6" width="4.3" height="4.3" fill="#f0c13d"/>
<rect x="151" y="136.6" width="4.3" height="4.3" fill="#f0b340"/>
<rect x="155" y="136.6" width="4.3" height="4.3" fill="#eea345"/>
<rect x="159" y="136.6" width="4.3" height="4.3" fill="#ea914c"/>
<rect x="163" y="136.6" width="4.3" height="4.3" fill="#e68155"/>
<rect x="167" y="136.6" width="4.3" height="4.3" fill="#e07060"/>
<rect x="171" y="136.6" width="4.3" height="4.3" fill="#d9616a"/>
<rect x="175" y="136.6" width="4.3" height="4.3" fill="#d05274"/>
<rect x="179" y="136.6" width="4.3" height="4.3" fill="#c8447e"/>
<rect x="183" y="136.6" width="4.3" height="4.3" fill="#be3b8b"/>
<rect x="187" y="136.6" width="4.3" height="4.3" fill="#b43398"/>
<rect x="191" y="136.6" width="4.3" height="4.3" fill="#aa2ba3"/>
<rect x="195" y="136.6" width="4.3" height="4.3" fill="#a225ab"/>
<rect x="199" y="136.6" width="4.3" height="4.3" fill="#9e22af"/>
<rect x="203" y="136.6" width="4.3" height="4.3" fill="#9c22b0"/>
<rect x="207" y="136.6" width="4.3" height="4.3" fill="#a125ac"/>
<rect x="211" y="136.6" width="4.3" height="4.3" fill="#aa2ba3"/>
<rect x="215" y="136.6" width="4.3" height="4.3" fill="#b73594"/>
<rect x="219" y="136.6" width="4.3" height="4.3" fill="#c44183"/>
<rect x="223" y="136.6" width="4.3" height="4.3" fill="#d05175"/>
<rect x="227" y="136.6" width="4.3" height="4.3" fill="#d96269"/>
<rect x="231" y="136.6" width="4.3" height="4.3" fill="#e2745e"/>
<rect x="235" y="136.6" width="4.3" height="4.3" fill="#e78454"/>
<rect x="239" y="136.6" width="4.3" height="4.3" fill="#eb944b"/>
<rect x="243" y="136.6" width="4.3" height="4.3" fill="#eea445"/>
<rect x="247" y="136.6" width="4.3" height="4.3" fill="#f0b63f"/>
<rect x="251" y="136.6" width="4.3" height="4.3" fill="#f0b63f"/>
<rect x="255" y="136.6" width="4.3" height="4.3" fill="#f0b73f"/>
<rect x="115" y="140.6" width="4.3" height="4.3" fill="#e4f844"/>
<rect x="119" y="140.6" width="4.3" height="4.3" fill="#e4f745"/>
<rect x="123" y="140.6" width="4.3" height="4.3" fill="#e5f545"/>
<rect x="127" y="140.6" width="4.3" height="4.3" fill="#e7f044"/>
<rect x="131" y="140.6" width="4.3" height="4.3" fill="#e8eb42"/>
<rect x="135" y="140.6" width="4.3" height="4.3" fill="#eae440"/>
<rect x="139" y="140.6" width="4.3" height="4.3" fill="#eddb3d"/>
<rect x="143" y="140.6" width="4.3" height="4.3" fill="#eed23c"/>
<rect x="147" y="140.6" width="4.3" height="4.3" fill="#f0c53c"/>
<rect x="151" y="140.6" width="4.3" height="4.3" fill="#f0b63f"/>
<rect x="155" y="140.6" width="4.3" height="4.3" fill="#eea644"/>
<rect x="159" y="140.6" width="4.3" height="4.3" fill="#eb944b"/>
<rect x="163" y="140.6" width="4.3" height="4.3" fill="#e78354"/>
<rect x="167" y="140.6" width="4.3" height="4.3" fill="#e1715f"/>
<rect x="171" y="140.6" width="4.3" height="4.3" fill="#d9616a"/>
<rect x="175" y="140.6" width="4.3" height="4.3" fill="#d05274"/>
<rect x="179" y="140.6" width="4.3" height="4.3" fill="#c7447f"/>
<rect x="183" y="140.6" width="4.3" height="4.3" fill="#bd3a8d"/>
<rect x="187" y="140.6" width="4.3" height="4.3" fill="#b33299"/>
<rect x="191" y="140.6" width="4.3" height="4.3" fill="#a92aa4"/>
<rect x="195" y="140.6" width="4.3" height="4.3" fill="#a024ad"/>
<rect x="199" y="140.6" width="4.3" height="4.3" fill="#9a20b2"/>
<rect x="203" y="140.6" width="4.3" height="4.3" fill="#981fb4"/>
<rect x="207" y="140.6" width="4.3" height="4.3" fill="#9b21b1"/>
<rect x="211" y="140.6" width="4.3" height="4.3" fill="#a225ab"/>
<rect x="215" y="140.6" width="4.3" height="4.3" fill="#af2e9e"/>
<rect x="219" y="140.6" width="4.3" height="4.3" fill="#be3b8c"/>
<rect x="223" y="140.6" width="4.3" height="4.3" fill="#cb497a"/>
<rect x="227" y="140.6" width="4.3" height="4.3" fill="#d65b6e"/>
<rect x="231" y="140.6" width="4.3" height="4.3" fill="#df6d61"/>
<rect x="235" y="140.6" width="4.3" height="4.3" fill="#e57d58"/>
<rect x="239" y="140.6" width="4.3" height="4.3" fill="#e98e4d"/>
<rect x="243" y="140.6" width="4.3" height="4.3" fill="#ed9e47"/>
<rect x="247" y="140.6" width="4.3" height="4.3" fill="#efae42"/>
<rect x="251" y="140.6" width="4.3" height="4.3" fill="#f0b73f"/>
<rect x="255" y="140.6" width="4.3" height="4.3" fill="#f0b63f"/>
<rect x="115" y="144.6" width="4.3" height="4.3" fill="#e4fa42"/>
<rect x="119" y="144.6" width="4.3" height="4.3" fill="#e4fa42"/>
<rect x="123" y="144.6" width="4.3" height="4.3" fill="#e4f844"/>
<rect x="127" y="144.6" width="4.3" height="4.3" fill="#e5f345"/>
<rect x="131" y="144.6" width="4.3" height="4.3" fill="#e8ed43"/>
<rect x="135" y="144.6" width="4.3" height="4.3" fill="#e9e741"/>
<rect x="139" y="144.6" width="4.3" height="4.3" fill="#ecdf3e"/>
<rect x="143" y="144.6" width="4.3" height="4.3" fill="#eed43c"/>
<rect x="147" y="144.6" width="4.3" height="4.3" fill="#f0c83c"/>
<rect x="151" y="144.6" width="4.3" height="4.3" fill="#f0b93f"/>
<rect x="155" y="144.6" width="4.3" height="4.3" fill="#efa943"/>
<rect x="159" y="144.6" width="4.3" height="4.3" fill="#eb974a"/>
<rect x="163" y="144.6" width="4.3" height="4.3" fill="#e78553"/>
<rect x="167" y="144.6" width="4.3" height="4.3" fill="#e1725e"/>
<rect x="171" y="144.6" width="4.3" height="4.3" fill="#d9616a"/>
<rect x="175" y="144.6" width="4.3" height="4.3" fill="#d05175"/>
<rect x="179" y="144.6" width="4.3" height="4.3" fill="#c64380"/>
<rect x="183" y="144.6" width="4.3" height="4.3" fill="#bc3a8e"/>
<rect x="187" y="144.6" width="4.3" height="4.3" fill="#b2319a"/>
<rect x="191" y="144.6" width="4.3" height="4.3" fill="#a829a5"/>
<rect x="195" y="144.6" width="4.3" height="4.3" fill="#9f23ae"/>
<rect x="199" y="144.6" width="4.3" height="4.3" fill="#981fb4"/>
<rect x="203" y="144.6" width="4.3" height="4.3" fill="#951db5"/>
<rect x="207" y="144.6" width="4.3" height="4.3" fill="#971eb5"/>
<rect x="211" y="144.6" width="4.3" height="4.3" fill="#9b21b1"/>
<rect x="215" y="144.6" width="4.3" height="4.3" fill="#a729a7"/>
<rect x="219" y="144.6" width="4.3" height="4.3" fill="#b53497"/>
<rect x="223" y="144.6" width="4.3" height="4.3" fill="#c34084"/>
<rect x="227" y="144.6" width="4.3" height="4.3" fill="#d05274"/>
<rect x="231" y="144.6" width="4.3" height="4.3" fill="#dc6666"/>
<rect x="235" y="144.6" width="4.3" height="4.3" fill="#e3785b"/>
<rect x="239" y="144.6" width="4.3" height="4.3" fill="#e88851"/>
<rect x="243" y="144.6" width="4.3" height="4.3" fill="#eb974a"/>
<rect x="247" y="144.6" width="4.3" height="4.3" fill="#eea445"/>
<rect x="251" y="144.6" width="4.3" height="4.3" fill="#f0b340"/>
<rect x="255" y="144.6" width="4.3" height="4.3" fill="#f0b440"/>
<rect x="259" y="144.6" width="4.3" height="4.3" fill="#f0b340"/>
<rect x="111" y="148.6" width="4.3" height="4.3" fill="#e4fa42"/>
<rect x="115" y="148.6" width="4.3" height="4.3" fill="#e4fa42"/>
<rect x="119" y="148.6" width="4.3" height="4.3" fill="#e4fa42"/>
<rect x="123" y="148.6" width="4.3" height="4.3" fill="#e4f844"/>
<rect x="127" y="148.6" width="4.3" height="4.3" fill="#e5f345"/>
<rect x="131" y="148.6" width="4.3" height="4.3" fill="#e7ef43"/>
<rect x="135" y="148.6" width="4.3" height="4.3" fill="#e9e941"/>
<rect x="139" y="148.6" width="4.3" height="4.3" fill="#ebe03e"/>
<rect x="143" y="148.6" width="4.3" height="4.3" fill="#eed63c"/>
<rect x="147" y="148.6" width="4.3" height="4.3" fill="#efca3c"/>
<rect x="151" y="148.6" width="4.3" height="4.3" fill="#f0bc3e"/>
<rect x="155" y="148.6" width="4.3" height="4.3" fill="#efac42"/>
<rect x="159" y="148.6" width="4.3" height="4.3" fill="#ec9849"/>
<rect x="163" y="148.6" width="4.3" height="4.3" fill="#e88652"/>
<rect x="167" y="148.6" width="4.3" height="4.3" fill="#e1725e"/>
<rect x="171" y="148.6" width="4.3" height="4.3" fill="#d9616a"/>
<rect x="175" y="148.6" width="4.3" height="4.3" fill="#d05175"/>
<rect x="179" y="148.6" width="4.3" height="4.3" fill="#c64380"/>
<rect x="183" y="148.6" width="4.3" height="4.3" fill="#bb398f"/>
<rect x="187" y="148.6" width="4.3" height="4.3" fill="#b1309c"/>
<rect x="191" y="148.6" width="4.3" height="4.3" fill="#a82aa5"/>
<rect x="195" y="148.6" width="4.3" height="4.3" fill="#9f23ae"/>
<rect x="199" y="148.6" width="4.3" height="4.3" fill="#971eb5"/>
<rect x="203" y="148.6" width="4.3" height="4.3" fill="#931cb7"/>
<rect x="207" y="148.6" width="4.3" height="4.3" fill="#931cb7"/>
<rect x="211" y="148.6" width="4.3" height="4.3" fill="#971eb5"/>
<rect x="215" y="148.6" width="4.3" height="4.3" fill="#9f23ae"/>
<rect x="219" y="148.6" width="4.3" height="4.3" fill="#ac2da1"/>
<rect x="223" y="148.6" width="4.3" height="4.3" fill="#bb398f"/>
<rect x="227" y="148.6" width="4.3" height="4.3" fill="#cb497a"/>
<rect x="231" y="148.6" width="4.3" height="4.3" fill="#d75d6c"/>
<rect x="235" y="148.6" width="4.3" height="4.3" fill="#df6f61"/>
<rect x="239" y="148.6" width="4.3" height="4.3" fill="#e57f57"/>
<rect x="243" y="148.6" width="4.3" height="4.3" fill="#e98d4e"/>
<rect x="247" y="148.6" width="4.3" height="4.3" fill="#ec9849"/>
<rect x="251" y="148.6" width="4.3" height="4.3" fill="#eea445"/>
<rect x="255" y="148.6" width="4.3" height="4.3" fill="#f0af41"/>
<rect x="259" y="148.6" width="4.3" height="4.3" fill="#efac42"/>
<rect x="263" y="148.6" width="4.3" height="4.3" fill="#efab43"/>
<rect x="111" y="152.6" width="4.3" height="4.3" fill="#e4fa42"/>
<rect x="115" y="152.6" width="4.3" height="4.3" fill="#e4fa42"/>
<rect x="119" y="152.6" width="4.3" height="4.3" fill="#e4fa42"/>
<rect x="123" y="152.6" width="4.3" height="4.3" fill="#e4f745"/>
<rect x="127" y="152.6" width="4.3" height="4.3" fill="#e5f345"/>
<rect x="131" y="152.6" width="4.3" height="4.3" fill="#e7ef43"/>
<rect x="135" y="152.6" width="4.3" height="4.3" fill="#e9e941"/>
<rect x="139" y="152.6" width="4.3" height="4.3" fill="#ebe03e"/>
<rect x="143" y="152.6" width="4.3" height="4.3" fill="#edd83c"/>
<rect x="147" y="152.6" width="4.3" height="4.3" fill="#efcb3c"/>
<rect x="151" y="152.6" width="4.3" height="4.3" fill="#f0be3d"/>
<rect x="155" y="152.6" width="4.3" height="4.3" fill="#efac42"/>
<rect x="159" y="152.6" width="4.3" height="4.3" fill="#ec9a49"/>
<rect x="163" y="152.6" width="4.3" height="4.3" fill="#e88652"/>
<rect x="167" y="152.6" width="4.3" height="4.3" fill="#e1735e"/>
<rect x="171" y="152.6" width="4.3" height="4.3" fill="#d96269"/>
<rect x="175" y="152.6" width="4.3" height="4.3" fill="#d05175"/>
<rect x="179" y="152.6" width="4.3" height="4.3" fill="#c64380"/>
<rect x="183" y="152.6" width="4.3" height="4.3" fill="#bc3a8e"/>
<rect x="187" y="152.6" width="4.3" height="4.3" fill="#b2319b"/>
<rect x="191" y="152.6" width="4.3" height="4.3" fill="#a82aa5"/>
<rect x="195" y="152.6" width="4.3" height="4.3" fill="#9f23ae"/>
<rect x="199" y="152.6" width="4.3" height="4.3" fill="#971eb5"/>
<rect x="203" y="152.6" width="4.3" height="4.3" fill="#921bb8"/>
<rect x="207" y="152.6" width="4.3" height="4.3" fill="#8f1ab9"/>
<rect x="211" y="152.6" width="4.3" height="4.3" fill="#921bb8"/>
<rect x="215" y="152.6" width="4.3" height="4.3" fill="#981fb4"/>
<rect x="219" y="152.6" width="4.3" height="4.3" fill="#a326aa"/>
<rect x="223" y="152.6" width="4.3" height="4.3" fill="#b33299"/>
<rect x="227" y="152.6" width="4.3" height="4.3" fill="#c34084"/>
<rect x="231" y="152.6" width="4.3" height="4.3" fill="#d05274"/>
<rect x="235" y="152.6" width="4.3" height="4.3" fill="#da6368"/>
<rect x="239" y="152.6" width="4.3" height="4.3" fill="#e1725e"/>
<rect x="243" y="152.6" width="4.3" height="4.3" fill="#e57f57"/>
<rect x="247" y="152.6" width="4.3" height="4.3" fill="#e98a50"/>
<rect x="251" y="152.6" width="4.3" height="4.3" fill="#eb954a"/>
<rect x="255" y="152.6" width="4.3" height="4.3" fill="#eea345"/>
<rect x="259" y="152.6" width="4.3" height="4.3" fill="#eea445"/>
<rect x="263" y="152.6" width="4.3" height="4.3" fill="#eea146"/>
<rect x="107" y="156.6" width="4.3" height="4.3" fill="#e5f345"/>
<rect x="111" y="156.6" width="4.3" height="4.3" fill="#e5f545"/>
<rect x="115" y="156.6" width="4.3" height="4.3" fill="#e4f745"/>
<rect x="119" y="156.6" width="4.3" height="4.3" fill="#e5f545"/>
<rect x="123" y="156.6" width="4.3" height="4.3" fill="#e5f345"/>
<rect x="127" y="156.6" width="4.3" height="4.3" fill="#e6f044"/>
<rect x="131" y="156.6" width="4.3" height="4.3" fill="#e8ed42"/>
<rect x="135" y="156.6" width="4.3" height="4.3" fill="#e9e740"/>
<rect x="139" y="156.6" width="4.3" height="4.3" fill="#ecdf3e"/>
<rect x="143" y="156.6" width="4.3" height="4.3" fill="#eed63c"/>
<rect x="147" y="156.6" width="4.3" height="4.3" fill="#efca3c"/>
<rect x="151" y="156.6" width="4.3" height="4.3" fill="#f0bc3e"/>
<rect x="155" y="156.6" width="4.3" height="4.3" fill="#efac42"/>
<rect x="159" y="156.6" width="4.3" height="4.3" fill="#ec9b48"/>
<rect x="163" y="156.6" width="4.3" height="4.3" fill="#e88851"/>
<rect x="167" y="156.6" width="4.3" height="4.3" fill="#e2755d"/>
<rect x="171" y="156.6" width="4.3" height="4.3" fill="#da6368"/>
<rect x="175" y="156.6" width="4.3" height="4.3" fill="#d15373"/>
<rect x="179" y="156.6" width="4.3" height="4.3" fill="#c8447e"/>
<rect x="183" y="156.6" width="4.3" height="4.3" fill="#be3b8b"/>
<rect x="187" y="156.6" width="4.3" height="4.3" fill="#b33299"/>
<rect x="191" y="156.6" width="4.3" height="4.3" fill="#a92aa4"/>
<rect x="195" y="156.6" width="4.3" height="4.3" fill="#a024ad"/>
<rect x="199" y="156.6" width="4.3" height="4.3" fill="#981fb4"/>
<rect x="203" y="156.6" width="4.3" height="4.3" fill="#911ab8"/>
<rect x="207" y="156.6" width="4.3" height="4.3" fill="#8d18bb"/>
<rect x="211" y="156.6" width="4.3" height="4.3" fill="#8d18bb"/>
<rect x="215" y="156.6" width="4.3" height="4.3" fill="#931cb7"/>
<rect x="219" y="156.6" width="4.3" height="4.3" fill="#9b21b1"/>
<rect x="223" y="156.6" width="4.3" height="4.3" fill="#a92aa4"/>
<rect x="227" y="156.6" width="4.3" height="4.3" fill="#b93792"/>
<rect x="231" y="156.6" width="4.3" height="4.3" fill="#c8447e"/>
<rect x="235" y="156.6" width="4.3" height="4.3" fill="#d35572"/>
<rect x="239" y="156.6" width="4.3" height="4.3" fill="#da6368"/>
<rect x="243" y="156.6" width="4.3" height="4.3" fill="#e06f61"/>
<rect x="247" y="156.6" width="4.3" height="4.3" fill="#e3785b"/>
<rect x="251" y="156.6" width="4.3" height="4.3" fill="#e78354"/>
<rect x="255" y="156.6" width="4.3" height="4.3" fill="#e98e4e"/>
<rect x="259" y="156.6" width="4.3" height="4.3" fill="#ec9b48"/>
<rect x="263" y="156.6" width="4.3" height="4.3" fill="#ec9a48"/>
<rect x="267" y="156.6" width="4.3" height="4.3" fill="#eb974a"/>
<rect x="107" y="160.6" width="4.3" height="4.3" fill="#e8eb42"/>
<rect x="111" y="160.6" width="4.3" height="4.3" fill="#e7ef43"/>
<rect x="115" y="160.6" width="4.3" height="4.3" fill="#e6f044"/>
<rect x="119" y="160.6" width="4.3" height="4.3" fill="#e6f044"/>
<rect x="123" y="160.6" width="4.3" height="4.3" fill="#e7ef43"/>
<rect x="127" y="160.6" width="4.3" height="4.3" fill="#e8eb42"/>
<rect x="131" y="160.6" width="4.3" height="4.3" fill="#e9e741"/>
<rect x="135" y="160.6" width="4.3" height="4.3" fill="#ebe23f"/>
<rect x="139" y="160.6" width="4.3" height="4.3" fill="#eddb3d"/>
<rect x="143" y="160.6" width="4.3" height="4.3" fill="#eed23c"/>
<rect x="147" y="160.6" width="4.3" height="4.3" fill="#f0c83c"/>
<rect x="151" y="160.6" width="4.3" height="4.3" fill="#f0bb3e"/>
<rect x="155" y="160.6" width="4.3" height="4.3" fill="#efab43"/>
<rect x="159" y="160.6" width="4.3" height="4.3" fill="#ec9a49"/>
<rect x="163" y="160.6" width="4.3" height="4.3" fill="#e88951"/>
<rect x="167" y="160.6" width="4.3" height="4.3" fill="#e3775b"/>
<rect x="171" y="160.6" width="4.3" height="4.3" fill="#db6567"/>
<rect x="175" y="160.6" width="4.3" height="4.3" fill="#d35671"/>
<rect x="179" y="160.6" width="4.3" height="4.3" fill="#cb497a"/>
<rect x="183" y="160.6" width="4.3" height="4.3" fill="#c13e88"/>
<rect x="187" y="160.6" width="4.3" height="4.3" fill="#b73594"/>
<rect x="191" y="160.6" width="4.3" height="4.3" fill="#ae2ea0"/>
<rect x="195" y="160.6" width="4.3" height="4.3" fill="#a326aa"/>
<rect x="199" y="160.6" width="4.3" height="4.3" fill="#9a20b2"/>
<rect x="203" y="160.6" width="4.3" height="4.3" fill="#921bb8"/>
<rect x="207" y="160.6" width="4.3" height="4.3" fill="#8d19bb"/>
<rect x="211" y="160.6" width="4.3" height="4.3" fill="#8c18bb"/>
<rect x="215" y="160.6" width="4.3" height="4.3" fill="#8e19ba"/>
<rect x="219" y="160.6" width="4.3" height="4.3" fill="#941db6"/>
<rect x="223" y="160.6" width="4.3" height="4.3" fill="#9e22af"/>
<rect x="227" y="160.6" width="4.3" height="4.3" fill="#ac2da0"/>
<rect x="231" y="160.6" width="4.3" height="4.3" fill="#bc3a8e"/>
<rect x="235" y="160.6" width="4.3" height="4.3" fill="#c8457e"/>
<rect x="239" y="160.6" width="4.3" height="4.3" fill="#d05175"/>
<rect x="243" y="160.6" width="4.3" height="4.3" fill="#d65c6d"/>
<rect x="247" y="160.6" width="4.3" height="4.3" fill="#db6567"/>
<rect x="251" y="160.6" width="4.3" height="4.3" fill="#e07060"/>
<rect x="255" y="160.6" width="4.3" height="4.3" fill="#e57c58"/>
<rect x="259" y="160.6" width="4.3" height="4.3" fill="#e98c4f"/>
<rect x="263" y="160.6" width="4.3" height="4.3" fill="#ea914c"/>
<rect x="267" y="160.6" width="4.3" height="4.3" fill="#e98e4e"/>
<rect x="103" y="164.6" width="4.3" height="4.3" fill="#ecdf3e"/>
<rect x="107" y="164.6" width="4.3" height="4.3" fill="#ebe23f"/>
<rect x="111" y="164.6" width="4.3" height="4.3" fill="#eae43f"/>
<rect x="115" y="164.6" width="4.3" height="4.3" fill="#eae640"/>
<rect x="119" y="164.6" width="4.3" height="4.3" fill="#e9e741"/>
<rect x="123" y="164.6" width="4.3" height="4.3" fill="#e9e741"/>
<rect x="127" y="164.6" width="4.3" height="4.3" fill="#eae440"/>
<rect x="131" y="164.6" width="4.3" height="4.3" fill="#ebe03f"/>
<rect x="135" y="164.6" width="4.3" height="4.3" fill="#ecdd3d"/>
<rect x="139" y="164.6" width="4.3" height="4.3" fill="#eed63c"/>
<rect x="143" y="164.6" width="4.3" height="4.3" fill="#efcd3c"/>
<rect x="147" y="164.6" width="4.3" height="4.3" fill="#f0c33c"/>
<rect x="151" y="164.6" width="4.3" height="4.3" fill="#f0b63f"/>
<rect x="155" y="164.6" width="4.3" height="4.3" fill="#efa844"/>
<rect x="159" y="164.6" width="4.3" height="4.3" fill="#ec9849"/>
<rect x="163" y="164.6" width="4.3" height="4.3" fill="#e88951"/>
<rect x="167" y="164.6" width="4.3" height="4.3" fill="#e3785b"/>
<rect x="171" y="164.6" width="4.3" height="4.3" fill="#dd6965"/>
<rect x="175" y="164.6" width="4.3" height="4.3" fill="#d65b6e"/>
<rect x="179" y="164.6" width="4.3" height="4.3" fill="#ce4d77"/>
<rect x="183" y="164.6" width="4.3" height="4.3" fill="#c44183"/>
<rect x="187" y="164.6" width="4.3" height="4.3" fill="#bb398f"/>
<rect x="191" y="164.6" width="4.3" height="4.3" fill="#b1309c"/>
<rect x="195" y="164.6" width="4.3" height="4.3" fill="#a729a7"/>
<rect x="199" y="164.6" width="4.3" height="4.3" fill="#9c22b0"/>
<rect x="203" y="164.6" width="4.3" height="4.3" fill="#941db6"/>
<rect x="207" y="164.6" width="4.3" height="4.3" fill="#8e19ba"/>
<rect x="211" y="164.6" width="4.3" height="4.3" fill="#8c18bb"/>
<rect x="215" y="164.6" width="4.3" height="4.3" fill="#8c18bb"/>
<rect x="219" y="164.6" width="4.3" height="4.3" fill="#8f1ab9"/>
<rect x="223" y="164.6" width="4.3" height="4.3" fill="#951db6"/>
<rect x="227" y="164.6" width="4.3" height="4.3" fill="#a125ac"/>
<rect x="231" y="164.6" width="4.3" height="4.3" fill="#ad2e9f"/>
<rect x="235" y="164.6" width="4.3" height="4.3" fill="#b93792"/>
<rect x="239" y="164.6" width="4.3" height="4.3" fill="#c34084"/>
<rect x="243" y="164.6" width="4.3" height="4.3" fill="#cb4a7a"/>
<rect x="247" y="164.6" width="4.3" height="4.3" fill="#d25472"/>
<rect x="251" y="164.6" width="4.3" height="4.3" fill="#d85e6b"/>
<rect x="255" y="164.6" width="4.3" height="4.3" fill="#df6c62"/>
<rect x="259" y="164.6" width="4.3" height="4.3" fill="#e47a5a"/>
<rect x="263" y="164.6" width="4.3" height="4.3" fill="#e88851"/>
<rect x="267" y="164.6" width="4.3" height="4.3" fill="#e88652"/>
<rect x="271" y="164.6" width="4.3" height="4.3" fill="#e78553"/>
<rect x="99" y="168.6" width="4.3" height="4.3" fill="#efcf3c"/>
<rect x="103" y="168.6" width="4.3" height="4.3" fill="#eed23c"/>
<rect x="107" y="168.6" width="4.3" height="4.3" fill="#eed43c"/>
<rect x="111" y="168.6" width="4.3" height="4.3" fill="#edd83d"/>
<rect x="115" y="168.6" width="4.3" height="4.3" fill="#eddb3d"/>
<rect x="119" y="168.6" width="4.3" height="4.3" fill="#ecdd3e"/>
<rect x="123" y="168.6" width="4.3" height="4.3" fill="#ecdf3e"/>
<rect x="127" y="168.6" width="4.3" height="4.3" fill="#ecdd3d"/>
<rect x="131" y="168.6" width="4.3" height="4.3" fill="#edd93d"/>
<rect x="135" y="168.6" width="4.3" height="4.3" fill="#eed43c"/>
<rect x="139" y="168.6" width="4.3" height="4.3" fill="#efcd3c"/>
<rect x="143" y="168.6" width="4.3" height="4.3" fill="#f0c63c"/>
<rect x="147" y="168.6" width="4.3" height="4.3" fill="#f0bc3e"/>
<rect x="151" y="168.6" width="4.3" height="4.3" fill="#f0b141"/>
<rect x="155" y="168.6" width="4.3" height="4.3" fill="#eea445"/>
<rect x="159" y="168.6" width="4.3" height="4.3" fill="#eb954a"/>
<rect x="163" y="168.6" width="4.3" height="4.3" fill="#e88851"/>
<rect x="167" y="168.6" width="4.3" height="4.3" fill="#e47a5a"/>
<rect x="171" y="168.6" width="4.3" height="4.3" fill="#df6c62"/>
<rect x="175" y="168.6" width="4.3" height="4.3" fill="#d85e6b"/>
<rect x="179" y="168.6" width="4.3" height="4.3" fill="#d05274"/>
<rect x="183" y="168.6" width="4.3" height="4.3" fill="#c8457d"/>
<rect x="187" y="168.6" width="4.3" height="4.3" fill="#bf3c8a"/>
<rect x="191" y="168.6" width="4.3" height="4.3" fill="#b53497"/>
<rect x="195" y="168.6" width="4.3" height="4.3" fill="#aa2ba3"/>
<rect x="199" y="168.6" width="4.3" height="4.3" fill="#a024ad"/>
<rect x="203" y="168.6" width="4.3" height="4.3" fill="#981fb4"/>
<rect x="207" y="168.6" width="4.3" height="4.3" fill="#911bb9"/>
<rect x="211" y="168.6" width="4.3" height="4.3" fill="#8c18bb"/>
<rect x="215" y="168.6" width="4.3" height="4.3" fill="#8a18bc"/>
<rect x="219" y="168.6" width="4.3" height="4.3" fill="#8a17bc"/>
<rect x="223" y="168.6" width="4.3" height="4.3" fill="#8f1ab9"/>
<rect x="227" y="168.6" width="4.3" height="4.3" fill="#971eb5"/>
<rect x="231" y="168.6" width="4.3" height="4.3" fill="#a024ad"/>
<rect x="235" y="168.6" width="4.3" height="4.3" fill="#aa2ba3"/>
<rect x="239" y="168.6" width="4.3" height="4.3" fill="#b53497"/>
<rect x="243" y="168.6" width="4.3" height="4.3" fill="#bf3c8a"/>
<rect x="247" y="168.6" width="4.3" height="4.3" fill="#c8457e"/>
<rect x="251" y="168.6" width="4.3" height="4.3" fill="#cf4f76"/>
<rect x="255" y="168.6" width="4.3" height="4.3" fill="#d65c6d"/>
<rect x="259" y="168.6" width="4.3" height="4.3" fill="#dd6965"/>
<rect x="263" y="168.6" width="4.3" height="4.3" fill="#e2765c"/>
<rect x="267" y="168.6" width="4.3" height="4.3" fill="#e67f57"/>
<rect x="271" y="168.6" width="4.3" height="4.3" fill="#e57c58"/>
<rect x="99" y="172.6" width="4.3" height="4.3" fill="#f0c13d"/>
<rect x="103" y="172.6" width="4.3" height="4.3" fill="#f0c53c"/>
<rect x="107" y="172.6" width="4.3" height="4.3" fill="#f0c83c"/>
<rect x="111" y="172.6" width="4.3" height="4.3" fill="#efcd3c"/>
<rect x="115" y="172.6" width="4.3" height="4.3" fill="#efd13c"/>
<rect x="119" y="172.6" width="4.3" height="4.3" fill="#eed23c"/>
<rect x="123" y="172.6" width="4.3" height="4.3" fill="#eed43c"/>
<rect x="127" y="172.6" width="4.3" height="4.3" fill="#eed23c"/>
<rect x="131" y="172.6" width="4.3" height="4.3" fill="#efcf3c"/>
<rect x="135" y="172.6" width="4.3" height="4.3" fill="#efca3c"/>
<rect x="139" y="172.6" width="4.3" height="4.3" fill="#f0c53c"/>
<rect x="143" y="172.6" width="4.3" height="4.3" fill="#f0bc3e"/>
<rect x="147" y="172.6" width="4.3" height="4.3" fill="#f0b440"/>
<rect x="151" y="172.6" width="4.3" height="4.3" fill="#efab43"/>
<rect x="155" y="172.6" width="4.3" height="4.3" fill="#ed9e47"/>
<rect x="159" y="172.6" width="4.3" height="4.3" fill="#ea924b"/>
<rect x="163" y="172.6" width="4.3" height="4.3" fill="#e88652"/>
<rect x="167" y="172.6" width="4.3" height="4.3" fill="#e47a5a"/>
<rect x="171" y="172.6" width="4.3" height="4.3" fill="#df6d61"/>
<rect x="175" y="172.6" width="4.3" height="4.3" fill="#d9616a"/>
<rect x="179" y="172.6" width="4.3" height="4.3" fill="#d25572"/>
<rect x="183" y="172.6" width="4.3" height="4.3" fill="#cc4a79"/>
<rect x="187" y="172.6" width="4.3" height="4.3" fill="#c23f85"/>
<rect x="191" y="172.6" width="4.3" height="4.3" fill="#b93792"/>
<rect x="195" y="172.6" width="4.3" height="4.3" fill="#af2f9e"/>
<rect x="199" y="172.6" width="4.3" height="4.3" fill="#a427a9"/>
<rect x="203" y="172.6" width="4.3" height="4.3" fill="#9b21b1"/>
<rect x="207" y="172.6" width="4.3" height="4.3" fill="#941db6"/>
<rect x="211" y="172.6" width="4.3" height="4.3" fill="#8e19ba"/>
<rect x="215" y="172.6" width="4.3" height="4.3" fill="#8917bc"/>
<rect x="219" y="172.6" width="4.3" height="4.3" fill="#8917bd"/>
<rect x="223" y="172.6" width="4.3" height="4.3" fill="#8a17bc"/>
<rect x="227" y="172.6" width="4.3" height="4.3" fill="#8f1ab9"/>
<rect x="231" y="172.6" width="4.3" height="4.3" fill="#981fb4"/>
<rect x="235" y="172.6" width="4.3" height="4.3" fill="#a024ad"/>
<rect x="239" y="172.6" width="4.3" height="4.3" fill="#aa2ba3"/>
<rect x="243" y="172.6" width="4.3" height="4.3" fill="#b43398"/>
<rect x="247" y="172.6" width="4.3" height="4.3" fill="#bd3a8d"/>
<rect x="251" y="172.6" width="4.3" height="4.3" fill="#c64380"/>
<rect x="255" y="172.6" width="4.3" height="4.3" fill="#ce4d77"/>
<rect x="259" y="172.6" width="4.3" height="4.3" fill="#d55a6f"/>
<rect x="263" y="172.6" width="4.3" height="4.3" fill="#dc6666"/>
<rect x="267" y="172.6" width="4.3" height="4.3" fill="#e1725e"/>
<rect x="271" y="172.6" width="4.3" height="4.3" fill="#e1735e"/>
<rect x="275" y="172.6" width="4.3" height="4.3" fill="#e1725e"/>
<rect x="95" y="176.6" width="4.3" height="4.3" fill="#f0af41"/>
<rect x="99" y="176.6" width="4.3" height="4.3" fill="#f0b340"/>
<rect x="103" y="176.6" width="4.3" height="4.3" fill="#f0b440"/>
<rect x="107" y="176.6" width="4.3" height="4.3" fill="#f0bb3e"/>
<rect x="111" y="176.6" width="4.3" height="4.3" fill="#f0c03d"/>
<rect x="115" y="176.6" width="4.3" height="4.3" fill="#f0c53c"/>
<rect x="119" y="176.6" width="4.3" height="4.3" fill="#f0c83c"/>
<rect x="123" y="176.6" width="4.3" height="4.3" fill="#f0c83c"/>
<rect x="127" y="176.6" width="4.3" height="4.3" fill="#f0c63c"/>
<rect x="131" y="176.6" width="4.3" height="4.3" fill="#f0c13d"/>
<rect x="135" y="176.6" width="4.3" height="4.3" fill="#f0be3d"/>
<rect x="139" y="176.6" width="4.3" height="4.3" fill="#f0b93e"/>
<rect x="143" y="176.6" width="4.3" height="4.3" fill="#f0b340"/>
<rect x="147" y="176.6" width="4.3" height="4.3" fill="#efab43"/>
<rect x="151" y="176.6" width="4.3" height="4.3" fill="#eea345"/>
<rect x="155" y="176.6" width="4.3" height="4.3" fill="#ec9a48"/>
<rect x="159" y="176.6" width="4.3" height="4.3" fill="#e98e4e"/>
<rect x="163" y="176.6" width="4.3" height="4.3" fill="#e78454"/>
<rect x="167" y="176.6" width="4.3" height="4.3" fill="#e47a5a"/>
<rect x="171" y="176.6" width="4.3" height="4.3" fill="#df6f61"/>
<rect x="175" y="176.6" width="4.3" height="4.3" fill="#db6468"/>
<rect x="179" y="176.6" width="4.3" height="4.3" fill="#d4596f"/>
<rect x="183" y="176.6" width="4.3" height="4.3" fill="#ce4d77"/>
<rect x="187" y="176.6" width="4.3" height="4.3" fill="#c64380"/>
<rect x="191" y="176.6" width="4.3" height="4.3" fill="#bd3a8d"/>
<rect x="195" y="176.6" width="4.3" height="4.3" fill="#b33299"/>
<rect x="199" y="176.6" width="4.3" height="4.3" fill="#a92aa4"/>
<rect x="203" y="176.6" width="4.3" height="4.3" fill="#a024ad"/>
<rect x="207" y="176.6" width="4.3" height="4.3" fill="#981fb4"/>
<rect x="211" y="176.6" width="4.3" height="4.3" fill="#921bb8"/>
<rect x="215" y="176.6" width="4.3" height="4.3" fill="#8d19bb"/>
<rect x="219" y="176.6" width="4.3" height="4.3" fill="#8917bc"/>
<rect x="223" y="176.6" width="4.3" height="4.3" fill="#8a18bc"/>
<rect x="227" y="176.6" width="4.3" height="4.3" fill="#8d19bb"/>
<rect x="231" y="176.6" width="4.3" height="4.3" fill="#931cb7"/>
<rect x="235" y="176.6" width="4.3" height="4.3" fill="#9a20b2"/>
<rect x="239" y="176.6" width="4.3" height="4.3" fill="#a225ab"/>
<rect x="243" y="176.6" width="4.3" height="4.3" fill="#aa2ba3"/>
<rect x="247" y="176.6" width="4.3" height="4.3" fill="#b43398"/>
<rect x="251" y="176.6" width="4.3" height="4.3" fill="#bd3a8d"/>
<rect x="255" y="176.6" width="4.3" height="4.3" fill="#c54281"/>
<rect x="259" y="176.6" width="4.3" height="4.3" fill="#ce4d77"/>
<rect x="263" y="176.6" width="4.3" height="4.3" fill="#d45770"/>
<rect x="267" y="176.6" width="4.3" height="4.3" fill="#d96269"/>
<rect x="271" y="176.6" width="4.3" height="4.3" fill="#dd6a64"/>
<rect x="275" y="176.6" width="4.3" height="4.3" fill="#dc6865"/>
<rect x="279" y="176.6" width="4.3" height="4.3" fill="#dc6666"/>
<rect x="95" y="180.6" width="4.3" height="4.3" fill="#ed9d47"/>
<rect x="99" y="180.6" width="4.3" height="4.3" fill="#ed9e47"/>
<rect x="103" y="180.6" width="4.3" height="4.3" fill="#eea445"/>
<rect x="107" y="180.6" width="4.3" height="4.3" fill="#efae42"/>
<rect x="111" y="180.6" width="4.3" height="4.3" fill="#f0b440"/>
<rect x="115" y="180.6" width="4.3" height="4.3" fill="#f0b93e"/>
<rect x="119" y="180.6" width="4.3" height="4.3" fill="#f0bc3e"/>
<rect x="123" y="180.6" width="4.3" height="4.3" fill="#f0be3d"/>
<rect x="127" y="180.6" width="4.3" height="4.3" fill="#f0bb3e"/>
<rect x="131" y="180.6" width="4.3" height="4.3" fill="#f0b63f"/>
<rect x="135" y="180.6" width="4.3" height="4.3" fill="#f0b141"/>
<rect x="139" y="180.6" width="4.3" height="4.3" fill="#efac42"/>
<rect x="143" y="180.6" width="4.3" height="4.3" fill="#efa844"/>
<rect x="147" y="180.6" width="4.3" height="4.3" fill="#eea146"/>
<rect x="151" y="180.6" width="4.3" height="4.3" fill="#ec9b48"/>
<rect x="155" y="180.6" width="4.3" height="4.3" fill="#ea924b"/>
<rect x="159" y="180.6" width="4.3" height="4.3" fill="#e98a50"/>
<rect x="163" y="180.6" width="4.3" height="4.3" fill="#e78354"/>
<rect x="167" y="180.6" width="4.3" height="4.3" fill="#e47a5a"/>
<rect x="171" y="180.6" width="4.3" height="4.3" fill="#e07060"/>
<rect x="175" y="180.6" width="4.3" height="4.3" fill="#dc6666"/>
<rect x="179" y="180.6" width="4.3" height="4.3" fill="#d65c6d"/>
<rect x="183" y="180.6" width="4.3" height="4.3" fill="#d05274"/>
<rect x="187" y="180.6" width="4.3" height="4.3" fill="#c9477c"/>
<rect x="191" y="180.6" width="4.3" height="4.3" fill="#c13e88"/>
<rect x="195" y="180.6" width="4.3" height="4.3" fill="#b83693"/>
<rect x="199" y="180.6" width="4.3" height="4.3" fill="#af2f9e"/>
<rect x="203" y="180.6" width="4.3" height="4.3" fill="#a628a8"/>
<rect x="207" y="180.6" width="4.3" height="4.3" fill="#9e22af"/>
<rect x="211" y="180.6" width="4.3" height="4.3" fill="#971eb5"/>
<rect x="215" y="180.6" width="4.3" height="4.3" fill="#921bb8"/>
<rect x="219" y="180.6" width="4.3" height="4.3" fill="#8e19ba"/>
<rect x="223" y="180.6" width="4.3" height="4.3" fill="#8d19bb"/>
<rect x="227" y="180.6" width="4.3" height="4.3" fill="#8e19ba"/>
<rect x="231" y="180.6" width="4.3" height="4.3" fill="#921bb8"/>
<rect x="235" y="180.6" width="4.3" height="4.3" fill="#971eb5"/>
<rect x="239" y="180.6" width="4.3" height="4.3" fill="#9e22af"/>
<rect x="243" y="180.6" width="4.3" height="4.3" fill="#a527a9"/>
<rect x="247" y="180.6" width="4.3" height="4.3" fill="#ac2da1"/>
<rect x="251" y="180.6" width="4.3" height="4.3" fill="#b53497"/>
<rect x="255" y="180.6" width="4.3" height="4.3" fill="#bd3a8d"/>
<rect x="259" y="180.6" width="4.3" height="4.3" fill="#c54282"/>
<rect x="263" y="180.6" width="4.3" height="4.3" fill="#cb497a"/>
<rect x="267" y="180.6" width="4.3" height="4.3" fill="#d05274"/>
<rect x="271" y="180.6" width="4.3" height="4.3" fill="#d65b6e"/>
<rect x="275" y="180.6" width="4.3" height="4.3" fill="#d65c6d"/>
<rect x="279" y="180.6" width="4.3" height="4.3" fill="#d65b6e"/>
<rect x="91" y="184.6" width="4.3" height="4.3" fill="#e78454"/>
<rect x="95" y="184.6" width="4.3" height="4.3" fill="#e88652"/>
<rect x="99" y="184.6" width="4.3" height="4.3" fill="#e88951"/>
<rect x="103" y="184.6" width="4.3" height="4.3" fill="#eb944b"/>
<rect x="107" y="184.6" width="4.3" height="4.3" fill="#ed9e47"/>
<rect x="111" y="184.6" width="4.3" height="4.3" fill="#efa843"/>
<rect x="115" y="184.6" width="4.3" height="4.3" fill="#efac42"/>
<rect x="119" y="184.6" width="4.3" height="4.3" fill="#f0b141"/>
<rect x="123" y="184.6" width="4.3" height="4.3" fill="#f0b141"/>
<rect x="127" y="184.6" width="4.3" height="4.3" fill="#f0af41"/>
<rect x="131" y="184.6" width="4.3" height="4.3" fill="#efab43"/>
<rect x="135" y="184.6" width="4.3" height="4.3" fill="#eea644"/>
<rect x="139" y="184.6" width="4.3" height="4.3" fill="#eea345"/>
<rect x="143" y="184.6" width="4.3" height="4.3" fill="#ed9e47"/>
<rect x="147" y="184.6" width="4.3" height="4.3" fill="#ec9849"/>
<rect x="151" y="184.6" width="4.3" height="4.3" fill="#eb944b"/>
<rect x="155" y="184.6" width="4.3" height="4.3" fill="#e98d4e"/>
<rect x="159" y="184.6" width="4.3" height="4.3" fill="#e88652"/>
<rect x="163" y="184.6" width="4.3" height="4.3" fill="#e68056"/>
<rect x="167" y="184.6" width="4.3" height="4.3" fill="#e3785b"/>
<rect x="171" y="184.6" width="4.3" height="4.3" fill="#e07060"/>
<rect x="175" y="184.6" width="4.3" height="4.3" fill="#dc6865"/>
<rect x="179" y="184.6" width="4.3" height="4.3" fill="#d85e6b"/>
<rect x="183" y="184.6" width="4.3" height="4.3" fill="#d25472"/>
<rect x="187" y="184.6" width="4.3" height="4.3" fill="#cc4b79"/>
<rect x="191" y="184.6" width="4.3" height="4.3" fill="#c44183"/>
<rect x="195" y="184.6" width="4.3" height="4.3" fill="#bd3b8d"/>
<rect x="199" y="184.6" width="4.3" height="4.3" fill="#b43398"/>
<rect x="203" y="184.6" width="4.3" height="4.3" fill="#ac2da1"/>
<rect x="207" y="184.6" width="4.3" height="4.3" fill="#a427a9"/>
<rect x="211" y="184.6" width="4.3" height="4.3" fill="#9e22af"/>
<rect x="215" y="184.6" width="4.3" height="4.3" fill="#981fb4"/>
<rect x="219" y="184.6" width="4.3" height="4.3" fill="#931cb7"/>
<rect x="223" y="184.6" width="4.3" height="4.3" fill="#921bb8"/>
<rect x="227" y="184.6" width="4.3" height="4.3" fill="#921bb8"/>
<rect x="231" y="184.6" width="4.3" height="4.3" fill="#931cb7"/>
<rect x="235" y="184.6" width="4.3" height="4.3" fill="#971eb5"/>
<rect x="239" y="184.6" width="4.3" height="4.3" fill="#9a20b2"/>
<rect x="243" y="184.6" width="4.3" height="4.3" fill="#a024ad"/>
<rect x="247" y="184.6" width="4.3" height="4.3" fill="#a729a7"/>
<rect x="251" y="184.6" width="4.3" height="4.3" fill="#ae2e9f"/>
<rect x="255" y="184.6" width="4.3" height="4.3" fill="#b43398"/>
<rect x="259" y="184.6" width="4.3" height="4.3" fill="#bb398f"/>
<rect x="263" y="184.6" width="4.3" height="4.3" fill="#c13e88"/>
<rect x="267" y="184.6" width="4.3" height="4.3" fill="#c64380"/>
<rect x="271" y="184.6" width="4.3" height="4.3" fill="#cb497a"/>
<rect x="275" y="184.6" width="4.3" height="4.3" fill="#ce4d77"/>
<rect x="279" y="184.6" width="4.3" height="4.3" fill="#cd4c78"/>
<rect x="283" y="184.6" width="4.3" height="4.3" fill="#cb4a7a"/>
<rect x="91" y="188.6" width="4.3" height="4.3" fill="#dd6a64"/>
<rect x="95" y="188.6" width="4.3" height="4.3" fill="#de6c62"/>
<rect x="99" y="188.6" width="4.3" height="4.3" fill="#e2765c"/>
<rect x="103" y="188.6" width="4.3" height="4.3" fill="#e78354"/>
<rect x="107" y="188.6" width="4.3" height="4.3" fill="#e98e4d"/>
<rect x="111" y="188.6" width="4.3" height="4.3" fill="#ec9849"/>
<rect x="115" y="188.6" width="4.3" height="4.3" fill="#eda046"/>
<rect x="119" y="188.6" width="4.3" height="4.3" fill="#eea445"/>
<rect x="123" y="188.6" width="4.3" height="4.3" fill="#eea445"/>
<rect x="127" y="188.6" width="4.3" height="4.3" fill="#eea345"/>
<rect x="131" y="188.6" width="4.3" height="4.3" fill="#eda046"/>
<rect x="135" y="188.6" width="4.3" height="4.3" fill="#ed9d47"/>
<rect x="139" y="188.6" width="4.3" height="4.3" fill="#ec9a48"/>
<rect x="143" y="188.6" width="4.3" height="4.3" fill="#eb954a"/>
<rect x="147" y="188.6" width="4.3" height="4.3" fill="#ea924b"/>
<rect x="151" y="188.6" width="4.3" height="4.3" fill="#e98e4d"/>
<rect x="155" y="188.6" width="4.3" height="4.3" fill="#e88951"/>
<rect x="159" y="188.6" width="4.3" height="4.3" fill="#e78454"/>
<rect x="163" y="188.6" width="4.3" height="4.3" fill="#e57d58"/>
<rect x="167" y="188.6" width="4.3" height="4.3" fill="#e3775b"/>
<rect x="171" y="188.6" width="4.3" height="4.3" fill="#e07060"/>
<rect x="175" y="188.6" width="4.3" height="4.3" fill="#dd6965"/>
<rect x="179" y="188.6" width="4.3" height="4.3" fill="#d9616a"/>
<rect x="183" y="188.6" width="4.3" height="4.3" fill="#d45770"/>
<rect x="187" y="188.6" width="4.3" height="4.3" fill="#ce4e76"/>
<rect x="191" y="188.6" width="4.3" height="4.3" fill="#c8447e"/>
<rect x="195" y="188.6" width="4.3" height="4.3" fill="#c13e88"/>
<rect x="199" y="188.6" width="4.3" height="4.3" fill="#ba3891"/>
<rect x="203" y="188.6" width="4.3" height="4.3" fill="#b2319a"/>
<rect x="207" y="188.6" width="4.3" height="4.3" fill="#ab2ca2"/>
<rect x="211" y="188.6" width="4.3" height="4.3" fill="#a427a9"/>
<rect x="215" y="188.6" width="4.3" height="4.3" fill="#9f23ae"/>
<rect x="219" y="188.6" width="4.3" height="4.3" fill="#9a20b2"/>
<rect x="223" y="188.6" width="4.3" height="4.3" fill="#981fb4"/>
<rect x="227" y="188.6" width="4.3" height="4.3" fill="#971eb5"/>
<rect x="231" y="188.6" width="4.3" height="4.3" fill="#971eb5"/>
<rect x="235" y="188.6" width="4.3" height="4.3" fill="#981fb4"/>
<rect x="239" y="188.6" width="4.3" height="4.3" fill="#9a20b2"/>
<rect x="243" y="188.6" width="4.3" height="4.3" fill="#9e22af"/>
<rect x="247" y="188.6" width="4.3" height="4.3" fill="#a225ab"/>
<rect x="251" y="188.6" width="4.3" height="4.3" fill="#a729a7"/>
<rect x="255" y="188.6" width="4.3" height="4.3" fill="#ab2ca2"/>
<rect x="259" y="188.6" width="4.3" height="4.3" fill="#b02f9d"/>
<rect x="263" y="188.6" width="4.3" height="4.3" fill="#b43398"/>
<rect x="267" y="188.6" width="4.3" height="4.3" fill="#b83693"/>
<rect x="271" y="188.6" width="4.3" height="4.3" fill="#bc3a8e"/>
<rect x="275" y="188.6" width="4.3" height="4.3" fill="#bf3c8a"/>
<rect x="279" y="188.6" width="4.3" height="4.3" fill="#bf3c8a"/>
<rect x="283" y="188.6" width="4.3" height="4.3" fill="#be3b8c"/>
<rect x="87" y="192.6" width="4.3" height="4.3" fill="#cb4a7a"/>
<rect x="91" y="192.6" width="4.3" height="4.3" fill="#cd4c78"/>
<rect x="95" y="192.6" width="4.3" height="4.3" fill="#d05274"/>
<rect x="99" y="192.6" width="4.3" height="4.3" fill="#da6368"/>
<rect x="103" y="192.6" width="4.3" height="4.3" fill="#e0715f"/>
<rect x="107" y="192.6" width="4.3" height="4.3" fill="#e57d58"/>
<rect x="111" y="192.6" width="4.3" height="4.3" fill="#e88951"/>
<rect x="115" y="192.6" width="4.3" height="4.3" fill="#ea924b"/>
<rect x="119" y="192.6" width="4.3" height="4.3" fill="#eb974a"/>
<rect x="123" y="192.6" width="4.3" height="4.3" fill="#ec9a48"/>
<rect x="127" y="192.6" width="4.3" height="4.3" fill="#ec9a48"/>
<rect x="131" y="192.6" width="4.3" height="4.3" fill="#eb974a"/>
<rect x="135" y="192.6" width="4.3" height="4.3" fill="#eb954a"/>
<rect x="139" y="192.6" width="4.3" height="4.3" fill="#ea924b"/>
<rect x="143" y="192.6" width="4.3" height="4.3" fill="#ea914c"/>
<rect x="147" y="192.6" width="4.3" height="4.3" fill="#e98e4d"/>
<rect x="151" y="192.6" width="4.3" height="4.3" fill="#e98a50"/>
<rect x="155" y="192.6" width="4.3" height="4.3" fill="#e88652"/>
<rect x="159" y="192.6" width="4.3" height="4.3" fill="#e68155"/>
<rect x="163" y="192.6" width="4.3" height="4.3" fill="#e57c58"/>
<rect x="167" y="192.6" width="4.3" height="4.3" fill="#e2765c"/>
<rect x="171" y="192.6" width="4.3" height="4.3" fill="#e07060"/>
<rect x="175" y="192.6" width="4.3" height="4.3" fill="#dd6a64"/>
<rect x="179" y="192.6" width="4.3" height="4.3" fill="#d96269"/>
<rect x="183" y="192.6" width="4.3" height="4.3" fill="#d55a6f"/>
<rect x="187" y="192.6" width="4.3" height="4.3" fill="#d05274"/>
<rect x="191" y="192.6" width="4.3" height="4.3" fill="#cb497a"/>
<rect x="195" y="192.6" width="4.3" height="4.3" fill="#c54281"/>
<rect x="199" y="192.6" width="4.3" height="4.3" fill="#bf3c8a"/>
<rect x="203" y="192.6" width="4.3" height="4.3" fill="#b93792"/>
<rect x="207" y="192.6" width="4.3" height="4.3" fill="#b2319a"/>
<rect x="211" y="192.6" width="4.3" height="4.3" fill="#ac2da1"/>
<rect x="215" y="192.6" width="4.3" height="4.3" fill="#a729a6"/>
<rect x="219" y="192.6" width="4.3" height="4.3" fill="#a225ab"/>
<rect x="223" y="192.6" width="4.3" height="4.3" fill="#9f23ae"/>
<rect x="227" y="192.6" width="4.3" height="4.3" fill="#9c22b0"/>
<rect x="231" y="192.6" width="4.3" height="4.3" fill="#9b21b1"/>
<rect x="235" y="192.6" width="4.3" height="4.3" fill="#9b21b1"/>
<rect x="239" y="192.6" width="4.3" height="4.3" fill="#9b21b1"/>
<rect x="243" y="192.6" width="4.3" height="4.3" fill="#9c22b0"/>
<rect x="247" y="192.6" width="4.3" height="4.3" fill="#9f23ae"/>
<rect x="251" y="192.6" width="4.3" height="4.3" fill="#a125ac"/>
<rect x="255" y="192.6" width="4.3" height="4.3" fill="#a225ab"/>
<rect x="259" y="192.6" width="4.3" height="4.3" fill="#a527a9"/>
<rect x="263" y="192.6" width="4.3" height="4.3" fill="#a628a8"/>
<rect x="267" y="192.6" width="4.3" height="4.3" fill="#a82aa5"/>
<rect x="271" y="192.6" width="4.3" height="4.3" fill="#a92aa4"/>
<rect x="275" y="192.6" width="4.3" height="4.3" fill="#aa2ba3"/>
<rect x="279" y="192.6" width="4.3" height="4.3" fill="#aa2ba3"/>
<rect x="283" y="192.6" width="4.3" height="4.3" fill="#a92aa4"/>
<rect x="287" y="192.6" width="4.3" height="4.3" fill="#a729a6"/>
<rect x="83" y="196.6" width="4.3" height="4.3" fill="#ac2da0"/>
<rect x="87" y="196.6" width="4.3" height="4.3" fill="#af2f9e"/>
<rect x="91" y="196.6" width="4.3" height="4.3" fill="#b02f9d"/>
<rect x="95" y="196.6" width="4.3" height="4.3" fill="#c13e88"/>
<rect x="99" y="196.6" width="4.3" height="4.3" fill="#d05175"/>
<rect x="103" y="196.6" width="4.3" height="4.3" fill="#d9616a"/>
<rect x="107" y="196.6" width="4.3" height="4.3" fill="#df6f61"/>
<rect x="111" y="196.6" width="4.3" height="4.3" fill="#e47b59"/>
<rect x="115" y="196.6" width="4.3" height="4.3" fill="#e78553"/>
<rect x="119" y="196.6" width="4.3" height="4.3" fill="#e98c4f"/>
<rect x="123" y="196.6" width="4.3" height="4.3" fill="#ea904d"/>
<rect x="127" y="196.6" width="4.3" height="4.3" fill="#ea904d"/>
<rect x="131" y="196.6" width="4.3" height="4.3" fill="#ea904d"/>
<rect x="135" y="196.6" width="4.3" height="4.3" fill="#ea904d"/>
<rect x="139" y="196.6" width="4.3" height="4.3" fill="#e98e4e"/>
<rect x="143" y="196.6" width="4.3" height="4.3" fill="#e98d4e"/>
<rect x="147" y="196.6" width="4.3" height="4.3" fill="#e88a50"/>
<rect x="151" y="196.6" width="4.3" height="4.3" fill="#e88851"/>
<rect x="155" y="196.6" width="4.3" height="4.3" fill="#e78454"/>
<rect x="159" y="196.6" width="4.3" height="4.3" fill="#e57f57"/>
<rect x="163" y="196.6" width="4.3" height="4.3" fill="#e47b59"/>
<rect x="167" y="196.6" width="4.3" height="4.3" fill="#e2765c"/>
<rect x="171" y="196.6" width="4.3" height="4.3" fill="#e07060"/>
<rect x="175" y="196.6" width="4.3" height="4.3" fill="#dd6a64"/>
<rect x="179" y="196.6" width="4.3" height="4.3" fill="#da6368"/>
<rect x="183" y="196.6" width="4.3" height="4.3" fill="#d65c6d"/>
<rect x="187" y="196.6" width="4.3" height="4.3" fill="#d25572"/>
<rect x="191" y="196.6" width="4.3" height="4.3" fill="#ce4d77"/>
<rect x="195" y="196.6" width="4.3" height="4.3" fill="#c9477c"/>
<rect x="199" y="196.6" width="4.3" height="4.3" fill="#c44183"/>
<rect x="203" y="196.6" width="4.3" height="4.3" fill="#bf3c8a"/>
<rect x="207" y="196.6" width="4.3" height="4.3" fill="#b93792"/>
<rect x="211" y="196.6" width="4.3" height="4.3" fill="#b43398"/>
<rect x="215" y="196.6" width="4.3" height="4.3" fill="#b02f9d"/>
<rect x="219" y="196.6" width="4.3" height="4.3" fill="#ab2ca2"/>
<rect x="223" y="196.6" width="4.3" height="4.3" fill="#a82aa5"/>
<rect x="227" y="196.6" width="4.3" height="4.3" fill="#a527a9"/>
<rect x="231" y="196.6" width="4.3" height="4.3" fill="#a124ac"/>
<rect x="235" y="196.6" width="4.3" height="4.3" fill="#a024ad"/>
<rect x="239" y="196.6" width="4.3" height="4.3" fill="#9e22af"/>
<rect x="243" y="196.6" width="4.3" height="4.3" fill="#9c22b0"/>
<rect x="247" y="196.6" width="4.3" height="4.3" fill="#9b21b1"/>
<rect x="251" y="196.6" width="4.3" height="4.3" fill="#9b21b1"/>
<rect x="255" y="196.6" width="4.3" height="4.3" fill="#9a20b2"/>
<rect x="259" y="196.6" width="4.3" height="4.3" fill="#981fb4"/>
<rect x="263" y="196.6" width="4.3" height="4.3" fill="#971eb5"/>
<rect x="267" y="196.6" width="4.3" height="4.3" fill="#951db5"/>
<rect x="271" y="196.6" width="4.3" height="4.3" fill="#941db6"/>
<rect x="275" y="196.6" width="4.3" height="4.3" fill="#921bb8"/>
<rect x="279" y="196.6" width="4.3" height="4.3" fill="#8f1ab9"/>
<rect x="283" y="196.6" width="4.3" height="4.3" fill="#8d19bb"/>
<rect x="287" y="196.6" width="4.3" height="4.3" fill="#8c18bb"/>
<rect x="83" y="200.6" width="4.3" height="4.3" fill="#8416bf"/>
<rect x="87" y="200.6" width="4.3" height="4.3" fill="#8516be"/>
<rect x="91" y="200.6" width="4.3" height="4.3" fill="#911ab9"/>
<rect x="95" y="200.6" width="4.3" height="4.3" fill="#ac2da1"/>
<rect x="99" y="200.6" width="4.3" height="4.3" fill="#c13e86"/>
<rect x="103" y="200.6" width="4.3" height="4.3" fill="#d05274"/>
<rect x="107" y="200.6" width="4.3" height="4.3" fill="#d96269"/>
<rect x="111" y="200.6" width="4.3" height="4.3" fill="#df6f61"/>
<rect x="115" y="200.6" width="4.3" height="4.3" fill="#e47a5a"/>
<rect x="119" y="200.6" width="4.3" height="4.3" fill="#e68155"/>
<rect x="123" y="200.6" width="4.3" height="4.3" fill="#e88652"/>
<rect x="127" y="200.6" width="4.3" height="4.3" fill="#e88951"/>
<rect x="131" y="200.6" width="4.3" height="4.3" fill="#e88951"/>
<rect x="135" y="200.6" width="4.3" height="4.3" fill="#e98a50"/>
<rect x="139" y="200.6" width="4.3" height="4.3" fill="#e98c4f"/>
<rect x="143" y="200.6" width="4.3" height="4.3" fill="#e98a50"/>
<rect x="147" y="200.6" width="4.3" height="4.3" fill="#e88951"/>
<rect x="151" y="200.6" width="4.3" height="4.3" fill="#e88652"/>
<rect x="155" y="200.6" width="4.3" height="4.3" fill="#e78354"/>
<rect x="159" y="200.6" width="4.3" height="4.3" fill="#e67f57"/>
<rect x="163" y="200.6" width="4.3" height="4.3" fill="#e47a5a"/>
<rect x="167" y="200.6" width="4.3" height="4.3" fill="#e2755d"/>
<rect x="171" y="200.6" width="4.3" height="4.3" fill="#e07060"/>
<rect x="175" y="200.6" width="4.3" height="4.3" fill="#dd6a64"/>
<rect x="179" y="200.6" width="4.3" height="4.3" fill="#db6468"/>
<rect x="183" y="200.6" width="4.3" height="4.3" fill="#d85e6b"/>
<rect x="187" y="200.6" width="4.3" height="4.3" fill="#d4596f"/>
<rect x="191" y="200.6" width="4.3" height="4.3" fill="#d05274"/>
<rect x="195" y="200.6" width="4.3" height="4.3" fill="#cd4c78"/>
<rect x="199" y="200.6" width="4.3" height="4.3" fill="#c9477c"/>
<rect x="203" y="200.6" width="4.3" height="4.3" fill="#c54281"/>
<rect x="207" y="200.6" width="4.3" height="4.3" fill="#c13e88"/>
<rect x="211" y="200.6" width="4.3" height="4.3" fill="#bc398e"/>
<rect x="215" y="200.6" width="4.3" height="4.3" fill="#b83693"/>
<rect x="219" y="200.6" width="4.3" height="4.3" fill="#b43398"/>
<rect x="223" y="200.6" width="4.3" height="4.3" fill="#b02f9d"/>
<rect x="227" y="200.6" width="4.3" height="4.3" fill="#ac2da1"/>
<rect x="231" y="200.6" width="4.3" height="4.3" fill="#a92aa4"/>
<rect x="235" y="200.6" width="4.3" height="4.3" fill="#a427a9"/>
<rect x="239" y="200.6" width="4.3" height="4.3" fill="#a125ac"/>
<rect x="243" y="200.6" width="4.3" height="4.3" fill="#9c21b0"/>
<rect x="247" y="200.6" width="4.3" height="4.3" fill="#9a20b2"/>
<rect x="251" y="200.6" width="4.3" height="4.3" fill="#951db5"/>
<rect x="255" y="200.6" width="4.3" height="4.3" fill="#911bb9"/>
<rect x="259" y="200.6" width="4.3" height="4.3" fill="#8a17bc"/>
<rect x="263" y="200.6" width="4.3" height="4.3" fill="#8516be"/>
<rect x="267" y="200.6" width="4.3" height="4.3" fill="#8116bf"/>
<rect x="271" y="200.6" width="4.3" height="4.3" fill="#7c15c0"/>
<rect x="275" y="200.6" width="4.3" height="4.3" fill="#7513c0"/>
<rect x="279" y="200.6" width="4.3" height="4.3" fill="#6f11c0"/>
<rect x="283" y="200.6" width="4.3" height="4.3" fill="#6610bf"/>
<rect x="287" y="200.6" width="4.3" height="4.3" fill="#650fbf"/>
<rect x="291" y="200.6" width="4.3" height="4.3" fill="#630fbe"/>
<rect x="83" y="204.6" width="4.3" height="4.3" fill="#490cb6"/>
<rect x="87" y="204.6" width="4.3" height="4.3" fill="#490db6"/>
<rect x="91" y="204.6" width="4.3" height="4.3" fill="#7312c0"/>
<rect x="95" y="204.6" width="4.3" height="4.3" fill="#971eb5"/>
<rect x="99" y="204.6" width="4.3" height="4.3" fill="#b2319b"/>
<rect x="103" y="204.6" width="4.3" height="4.3" fill="#c54281"/>
<rect x="107" y="204.6" width="4.3" height="4.3" fill="#d25472"/>
<rect x="111" y="204.6" width="4.3" height="4.3" fill="#da6368"/>
<rect x="115" y="204.6" width="4.3" height="4.3" fill="#df6f61"/>
<rect x="119" y="204.6" width="4.3" height="4.3" fill="#e3775b"/>
<rect x="123" y="204.6" width="4.3" height="4.3" fill="#e57d58"/>
<rect x="127" y="204.6" width="4.3" height="4.3" fill="#e68155"/>
<rect x="131" y="204.6" width="4.3" height="4.3" fill="#e78454"/>
<rect x="135" y="204.6" width="4.3" height="4.3" fill="#e88652"/>
<rect x="139" y="204.6" width="4.3" height="4.3" fill="#e88851"/>
<rect x="143" y="204.6" width="4.3" height="4.3" fill="#e88951"/>
<rect x="147" y="204.6" width="4.3" height="4.3" fill="#e88851"/>
<rect x="151" y="204.6" width="4.3" height="4.3" fill="#e78553"/>
<rect x="155" y="204.6" width="4.3" height="4.3" fill="#e68155"/>
<rect x="159" y="204.6" width="4.3" height="4.3" fill="#e57d58"/>
<rect x="163" y="204.6" width="4.3" height="4.3" fill="#e3785b"/>
<rect x="167" y="204.6" width="4.3" height="4.3" fill="#e1735e"/>
<rect x="171" y="204.6" width="4.3" height="4.3" fill="#df6f61"/>
<rect x="175" y="204.6" width="4.3" height="4.3" fill="#dd6a64"/>
<rect x="179" y="204.6" width="4.3" height="4.3" fill="#db6567"/>
<rect x="183" y="204.6" width="4.3" height="4.3" fill="#d9616a"/>
<rect x="187" y="204.6" width="4.3" height="4.3" fill="#d65b6e"/>
<rect x="191" y="204.6" width="4.3" height="4.3" fill="#d35671"/>
<rect x="195" y="204.6" width="4.3" height="4.3" fill="#d05274"/>
<rect x="199" y="204.6" width="4.3" height="4.3" fill="#ce4d77"/>
<rect x="203" y="204.6" width="4.3" height="4.3" fill="#cb497a"/>
<rect x="207" y="204.6" width="4.3" height="4.3" fill="#c8457e"/>
<rect x="211" y="204.6" width="4.3" height="4.3" fill="#c34084"/>
<rect x="215" y="204.6" width="4.3" height="4.3" fill="#c03d89"/>
<rect x="219" y="204.6" width="4.3" height="4.3" fill="#bc398e"/>
<rect x="223" y="204.6" width="4.3" height="4.3" fill="#b83693"/>
<rect x="227" y="204.6" width="4.3" height="4.3" fill="#b43398"/>
<rect x="231" y="204.6" width="4.3" height="4.3" fill="#b02f9d"/>
<rect x="235" y="204.6" width="4.3" height="4.3" fill="#aa2ba3"/>
<rect x="239" y="204.6" width="4.3" height="4.3" fill="#a427a9"/>
<rect x="243" y="204.6" width="4.3" height="4.3" fill="#9e22af"/>
<rect x="247" y="204.6" width="4.3" height="4.3" fill="#981fb4"/>
<rect x="251" y="204.6" width="4.3" height="4.3" fill="#911bb9"/>
<rect x="255" y="204.6" width="4.3" height="4.3" fill="#8616bd"/>
<rect x="259" y="204.6" width="4.3" height="4.3" fill="#7d15c0"/>
<rect x="263" y="204.6" width="4.3" height="4.3" fill="#7011c0"/>
<rect x="267" y="204.6" width="4.3" height="4.3" fill="#6610bf"/>
<rect x="271" y="204.6" width="4.3" height="4.3" fill="#5c0ebd"/>
<rect x="275" y="204.6" width="4.3" height="4.3" fill="#520dba"/>
<rect x="279" y="204.6" width="4.3" height="4.3" fill="#490db6"/>
<rect x="283" y="204.6" width="4.3" height="4.3" fill="#410cb1"/>
<rect x="287" y="204.6" width="4.3" height="4.3" fill="#3b0bac"/>
<rect x="291" y="204.6" width="4.3" height="4.3" fill="#3b0bac"/>
<rect x="83" y="208.6" width="4.3" height="4.3" fill="#450cb4"/>
<rect x="87" y="208.6" width="4.3" height="4.3" fill="#5b0ebc"/>
<rect x="91" y="208.6" width="4.3" height="4.3" fill="#8516be"/>
<rect x="95" y="208.6" width="4.3" height="4.3" fill="#a225ab"/>
<rect x="99" y="208.6" width="4.3" height="4.3" fill="#bb398f"/>
<rect x="103" y="208.6" width="4.3" height="4.3" fill="#cc4a79"/>
<rect x="107" y="208.6" width="4.3" height="4.3" fill="#d55a6f"/>
<rect x="111" y="208.6" width="4.3" height="4.3" fill="#dc6865"/>
<rect x="115" y="208.6" width="4.3" height="4.3" fill="#e0715f"/>
<rect x="119" y="208.6" width="4.3" height="4.3" fill="#e47a5a"/>
<rect x="123" y="208.6" width="4.3" height="4.3" fill="#e57f57"/>
<rect x="127" y="208.6" width="4.3" height="4.3" fill="#e78354"/>
<rect x="131" y="208.6" width="4.3" height="4.3" fill="#e78553"/>
<rect x="135" y="208.6" width="4.3" height="4.3" fill="#e88652"/>
<rect x="139" y="208.6" width="4.3" height="4.3" fill="#e88851"/>
<rect x="143" y="208.6" width="4.3" height="4.3" fill="#e88851"/>
<rect x="147" y="208.6" width="4.3" height="4.3" fill="#e88652"/>
<rect x="151" y="208.6" width="4.3" height="4.3" fill="#e78454"/>
<rect x="155" y="208.6" width="4.3" height="4.3" fill="#e68155"/>
<rect x="159" y="208.6" width="4.3" height="4.3" fill="#e57c58"/>
<rect x="163" y="208.6" width="4.3" height="4.3" fill="#e3785b"/>
<rect x="167" y="208.6" width="4.3" height="4.3" fill="#e2735e"/>
<rect x="171" y="208.6" width="4.3" height="4.3" fill="#df6f61"/>
<rect x="175" y="208.6" width="4.3" height="4.3" fill="#dd6a64"/>
<rect x="179" y="208.6" width="4.3" height="4.3" fill="#db6567"/>
<rect x="183" y="208.6" width="4.3" height="4.3" fill="#d9616a"/>
<rect x="187" y="208.6" width="4.3" height="4.3" fill="#d65c6d"/>
<rect x="191" y="208.6" width="4.3" height="4.3" fill="#d35671"/>
<rect x="195" y="208.6" width="4.3" height="4.3" fill="#d05274"/>
<rect x="199" y="208.6" width="4.3" height="4.3" fill="#ce4e76"/>
<rect x="203" y="208.6" width="4.3" height="4.3" fill="#cb4a7a"/>
<rect x="207" y="208.6" width="4.3" height="4.3" fill="#c9457d"/>
<rect x="211" y="208.6" width="4.3" height="4.3" fill="#c44183"/>
<rect x="215" y="208.6" width="4.3" height="4.3" fill="#c03e88"/>
<rect x="219" y="208.6" width="4.3" height="4.3" fill="#bd3a8d"/>
<rect x="223" y="208.6" width="4.3" height="4.3" fill="#ba3891"/>
<rect x="227" y="208.6" width="4.3" height="4.3" fill="#b63596"/>
<rect x="231" y="208.6" width="4.3" height="4.3" fill="#b1309c"/>
<rect x="235" y="208.6" width="4.3" height="4.3" fill="#ab2ca2"/>
<rect x="239" y="208.6" width="4.3" height="4.3" fill="#a628a8"/>
<rect x="243" y="208.6" width="4.3" height="4.3" fill="#a024ad"/>
<rect x="247" y="208.6" width="4.3" height="4.3" fill="#9a20b2"/>
<rect x="251" y="208.6" width="4.3" height="4.3" fill="#931cb7"/>
<rect x="255" y="208.6" width="4.3" height="4.3" fill="#8a18bc"/>
<rect x="259" y="208.6" width="4.3" height="4.3" fill="#8016c0"/>
<rect x="263" y="208.6" width="4.3" height="4.3" fill="#7312c0"/>
<rect x="267" y="208.6" width="4.3" height="4.3" fill="#6810bf"/>
<rect x="271" y="208.6" width="4.3" height="4.3" fill="#600fbe"/>
<rect x="275" y="208.6" width="4.3" height="4.3" fill="#550ebb"/>
<rect x="279" y="208.6" width="4.3" height="4.3" fill="#4b0db8"/>
<rect x="283" y="208.6" width="4.3" height="4.3" fill="#440cb3"/>
<rect x="287" y="208.6" width="4.3" height="4.3" fill="#3b0bac"/>
<rect x="291" y="208.6" width="4.3" height="4.3" fill="#380baa"/>
<rect x="83" y="212.6" width="4.3" height="4.3" fill="#490db6"/>
<rect x="87" y="212.6" width="4.3" height="4.3" fill="#7312c0"/>
<rect x="91" y="212.6" width="4.3" height="4.3" fill="#951db5"/>
<rect x="95" y="212.6" width="4.3" height="4.3" fill="#b02f9d"/>
<rect x="99" y="212.6" width="4.3" height="4.3" fill="#c34084"/>
<rect x="103" y="212.6" width="4.3" height="4.3" fill="#d05274"/>
<rect x="107" y="212.6" width="4.3" height="4.3" fill="#d9616a"/>
<rect x="111" y="212.6" width="4.3" height="4.3" fill="#df6c62"/>
<rect x="115" y="212.6" width="4.3" height="4.3" fill="#e2755d"/>
<rect x="119" y="212.6" width="4.3" height="4.3" fill="#e47b59"/>
<rect x="123" y="212.6" width="4.3" height="4.3" fill="#e68056"/>
<rect x="127" y="212.6" width="4.3" height="4.3" fill="#e78354"/>
<rect x="131" y="212.6" width="4.3" height="4.3" fill="#e78553"/>
<rect x="135" y="212.6" width="4.3" height="4.3" fill="#e88851"/>
<rect x="139" y="212.6" width="4.3" height="4.3" fill="#e88851"/>
<rect x="143" y="212.6" width="4.3" height="4.3" fill="#e88851"/>
<rect x="147" y="212.6" width="4.3" height="4.3" fill="#e88652"/>
<rect x="151" y="212.6" width="4.3" height="4.3" fill="#e78454"/>
<rect x="155" y="212.6" width="4.3" height="4.3" fill="#e68056"/>
<rect x="159" y="212.6" width="4.3" height="4.3" fill="#e57c58"/>
<rect x="163" y="212.6" width="4.3" height="4.3" fill="#e3775b"/>
<rect x="167" y="212.6" width="4.3" height="4.3" fill="#e1725e"/>
<rect x="171" y="212.6" width="4.3" height="4.3" fill="#e06f61"/>
<rect x="175" y="212.6" width="4.3" height="4.3" fill="#dd6a64"/>
<rect x="179" y="212.6" width="4.3" height="4.3" fill="#db6567"/>
<rect x="183" y="212.6" width="4.3" height="4.3" fill="#d9616a"/>
<rect x="187" y="212.6" width="4.3" height="4.3" fill="#d65c6d"/>
<rect x="191" y="212.6" width="4.3" height="4.3" fill="#d35671"/>
<rect x="195" y="212.6" width="4.3" height="4.3" fill="#d15373"/>
<rect x="199" y="212.6" width="4.3" height="4.3" fill="#ce4e76"/>
<rect x="203" y="212.6" width="4.3" height="4.3" fill="#cb4a7a"/>
<rect x="207" y="212.6" width="4.3" height="4.3" fill="#c8457d"/>
<rect x="211" y="212.6" width="4.3" height="4.3" fill="#c54281"/>
<rect x="215" y="212.6" width="4.3" height="4.3" fill="#c13f86"/>
<rect x="219" y="212.6" width="4.3" height="4.3" fill="#be3b8b"/>
<rect x="223" y="212.6" width="4.3" height="4.3" fill="#ba3890"/>
<rect x="227" y="212.6" width="4.3" height="4.3" fill="#b63495"/>
<rect x="231" y="212.6" width="4.3" height="4.3" fill="#b2319a"/>
<rect x="235" y="212.6" width="4.3" height="4.3" fill="#ae2e9f"/>
<rect x="239" y="212.6" width="4.3" height="4.3" fill="#a82aa5"/>
<rect x="243" y="212.6" width="4.3" height="4.3" fill="#a225ab"/>
<rect x="247" y="212.6" width="4.3" height="4.3" fill="#9b21b1"/>
<rect x="251" y="212.6" width="4.3" height="4.3" fill="#951db5"/>
<rect x="255" y="212.6" width="4.3" height="4.3" fill="#8d18bb"/>
<rect x="259" y="212.6" width="4.3" height="4.3" fill="#8416bf"/>
<rect x="263" y="212.6" width="4.3" height="4.3" fill="#7814c0"/>
<rect x="267" y="212.6" width="4.3" height="4.3" fill="#6d11c0"/>
<rect x="271" y="212.6" width="4.3" height="4.3" fill="#630fbe"/>
<rect x="275" y="212.6" width="4.3" height="4.3" fill="#5b0ebc"/>
<rect x="279" y="212.6" width="4.3" height="4.3" fill="#500dba"/>
<rect x="283" y="212.6" width="4.3" height="4.3" fill="#480cb5"/>
<rect x="287" y="212.6" width="4.3" height="4.3" fill="#400cb0"/>
<rect x="291" y="212.6" width="4.3" height="4.3" fill="#380baa"/>
</g></g>
<line x1="268.55" y1="172.44" x2="108.95" y2="172.44" stroke="#858585" stroke-width="1.6" stroke-dasharray="6.6 3.4"/>
<line x1="128.9" y1="206.9" x2="208.7" y2="69.06" stroke="#858585" stroke-width="1.6" stroke-dasharray="6.6 3.4"/>
<line x1="168.8" y1="69.06" x2="248.6" y2="206.9" stroke="#858585" stroke-width="1.6" stroke-dasharray="6.6 3.4"/>
<line x1="248.6" y1="137.98" x2="128.9" y2="137.98" stroke="#858585" stroke-width="1.6" stroke-dasharray="6.6 3.4"/>
<line x1="168.8" y1="206.9" x2="228.65" y2="103.52" stroke="#858585" stroke-width="1.6" stroke-dasharray="6.6 3.4"/>
<line x1="148.85" y1="103.52" x2="208.7" y2="206.9" stroke="#858585" stroke-width="1.6" stroke-dasharray="6.6 3.4"/>
<line x1="228.65" y1="103.52" x2="148.85" y2="103.52" stroke="#858585" stroke-width="1.6" stroke-dasharray="6.6 3.4"/>
<line x1="208.7" y1="206.9" x2="248.6" y2="137.98" stroke="#858585" stroke-width="1.6" stroke-dasharray="6.6 3.4"/>
<line x1="128.9" y1="137.98" x2="168.8" y2="206.9" stroke="#858585" stroke-width="1.6" stroke-dasharray="6.6 3.4"/>
<line x1="208.7" y1="69.06" x2="168.8" y2="69.06" stroke="#858585" stroke-width="1.6" stroke-dasharray="6.6 3.4"/>
<line x1="248.6" y1="206.9" x2="268.55" y2="172.44" stroke="#858585" stroke-width="1.6" stroke-dasharray="6.6 3.4"/>
<line x1="108.95" y1="172.44" x2="128.9" y2="206.9" stroke="#858585" stroke-width="1.6" stroke-dasharray="6.6 3.4"/>
<polygon points="89,206.9 288.5,206.9 188.75,34.6" fill="none" stroke="#000" stroke-width="1.6" stroke-linejoin="miter"/>
<line x1="268.55" y1="172.44" x2="278.05" y2="172.44" stroke="#000" stroke-width="1.7"/>
<text transform="translate(285.05,177.94) scale(1,1.05)" font-size="14.8" text-anchor="start" font-weight="normal" stroke-width="0.1">0.2</text>
<line x1="168.8" y1="69.06" x2="164.05" y2="60.83" stroke="#000" stroke-width="1.7"/>
<text transform="translate(150.80,55.36) scale(1,1.05)" font-size="14.8" text-anchor="middle" font-weight="normal" stroke-width="0.1">0.2</text>
<line x1="128.9" y1="206.9" x2="124.15" y2="215.13" stroke="#000" stroke-width="1.7"/>
<text transform="translate(121.10,231.20) scale(1,1.05)" font-size="14.8" text-anchor="middle" font-weight="normal" stroke-width="0.1">0.2</text>
<line x1="248.6" y1="137.98" x2="258.1" y2="137.98" stroke="#000" stroke-width="1.7"/>
<text transform="translate(265.10,143.48) scale(1,1.05)" font-size="14.8" text-anchor="start" font-weight="normal" stroke-width="0.1">0.4</text>
<line x1="148.85" y1="103.52" x2="144.1" y2="95.29" stroke="#000" stroke-width="1.7"/>
<text transform="translate(130.85,89.82) scale(1,1.05)" font-size="14.8" text-anchor="middle" font-weight="normal" stroke-width="0.1">0.4</text>
<line x1="168.8" y1="206.9" x2="164.05" y2="215.13" stroke="#000" stroke-width="1.7"/>
<text transform="translate(161.00,231.20) scale(1,1.05)" font-size="14.8" text-anchor="middle" font-weight="normal" stroke-width="0.1">0.4</text>
<line x1="228.65" y1="103.52" x2="238.15" y2="103.52" stroke="#000" stroke-width="1.7"/>
<text transform="translate(245.15,109.02) scale(1,1.05)" font-size="14.8" text-anchor="start" font-weight="normal" stroke-width="0.1">0.6</text>
<line x1="128.9" y1="137.98" x2="124.15" y2="129.75" stroke="#000" stroke-width="1.7"/>
<text transform="translate(110.90,124.28) scale(1,1.05)" font-size="14.8" text-anchor="middle" font-weight="normal" stroke-width="0.1">0.6</text>
<line x1="208.7" y1="206.9" x2="203.95" y2="215.13" stroke="#000" stroke-width="1.7"/>
<text transform="translate(200.90,231.20) scale(1,1.05)" font-size="14.8" text-anchor="middle" font-weight="normal" stroke-width="0.1">0.6</text>
<line x1="208.7" y1="69.06" x2="218.2" y2="69.06" stroke="#000" stroke-width="1.7"/>
<text transform="translate(225.20,74.56) scale(1,1.05)" font-size="14.8" text-anchor="start" font-weight="normal" stroke-width="0.1">0.8</text>
<line x1="108.95" y1="172.44" x2="104.2" y2="164.21" stroke="#000" stroke-width="1.7"/>
<text transform="translate(90.95,158.74) scale(1,1.05)" font-size="14.8" text-anchor="middle" font-weight="normal" stroke-width="0.1">0.8</text>
<line x1="248.6" y1="206.9" x2="243.85" y2="215.13" stroke="#000" stroke-width="1.7"/>
<text transform="translate(240.80,231.20) scale(1,1.05)" font-size="14.8" text-anchor="middle" font-weight="normal" stroke-width="0.1">0.8</text>
<line x1="188.75" y1="34.6" x2="198.25" y2="34.6" stroke="#000" stroke-width="1.7"/>
<text transform="translate(205.25,40.10) scale(1,1.05)" font-size="14.8" text-anchor="start" font-weight="normal" stroke-width="0.1">1.0</text>
<line x1="89" y1="206.9" x2="84.25" y2="198.67" stroke="#000" stroke-width="1.7"/>
<text transform="translate(71.00,193.20) scale(1,1.05)" font-size="14.8" text-anchor="middle" font-weight="normal" stroke-width="0.1">1.0</text>
<line x1="288.5" y1="206.9" x2="283.75" y2="215.13" stroke="#000" stroke-width="1.7"/>
<text transform="translate(280.70,231.20) scale(1,1.05)" font-size="14.8" text-anchor="middle" font-weight="normal" stroke-width="0.1">1.0</text>
<text transform="translate(189.30,18.40)" font-size="17.5" text-anchor="middle" font-weight="normal" stroke-width="0.28">Cu</text>
<text transform="translate(54.50,233.60)" font-size="17.5" text-anchor="middle" font-weight="normal" stroke-width="0.28">Au</text>
<text transform="translate(320.50,232.00)" font-size="17.5" text-anchor="middle" font-weight="normal" stroke-width="0.28">Ag</text>
<polygon points="156.78,81.60 164.12,81.60 165.55,83.30 160.45,89.80 155.35,83.30" fill="#86e6f0" stroke="#1f5a66" stroke-width="0.8" stroke-linejoin="round"/><polyline points="158.92,81.60 158.92,83.30 160.45,89.80 161.98,83.30 161.98,81.60" fill="none" stroke="#1f5a66" stroke-width="0.6"/><line x1="155.35" y1="83.30" x2="165.55" y2="83.30" stroke="#1f5a66" stroke-width="0.6"/>
<polygon points="168.45,99.00 167.10,96.26 164.08,95.82 166.26,93.69 165.75,90.68 168.45,92.10 171.15,90.68 170.64,93.69 172.82,95.82 169.80,96.26" fill="#86e6f0" stroke="#1f5a66" stroke-width="0.8" stroke-linejoin="round"/>
<polygon points="183.90,146.40 193.70,146.40 188.80,154.40" fill="#eaaa2e" stroke="#3a2a08" stroke-width="0.8"/>
<polygon points="208.40,190.80 207.05,188.06 204.03,187.62 206.21,185.49 205.70,182.48 208.40,183.90 211.10,182.48 210.59,185.49 212.77,187.62 209.75,188.06" fill="#f3b4f3" stroke="#5a2a5a" stroke-width="0.8" stroke-linejoin="round"/>
<clipPath id="cb"><polygon points="441,206.9 640.5,206.9 540.75,34.6"/></clipPath>
<g clip-path="url(#cb)"><g filter="url(#blur)">
<rect x="535" y="28.6" width="4.3" height="4.3" fill="#e4fa42"/>
<rect x="539" y="28.6" width="4.3" height="4.3" fill="#e4fa42"/>
<rect x="543" y="28.6" width="4.3" height="4.3" fill="#e4fa42"/>
<rect x="531" y="32.6" width="4.3" height="4.3" fill="#e4f745"/>
<rect x="535" y="32.6" width="4.3" height="4.3" fill="#e4f844"/>
<rect x="539" y="32.6" width="4.3" height="4.3" fill="#e4fa42"/>
<rect x="543" y="32.6" width="4.3" height="4.3" fill="#e4f844"/>
<rect x="547" y="32.6" width="4.3" height="4.3" fill="#e4f745"/>
<rect x="531" y="36.6" width="4.3" height="4.3" fill="#e5f545"/>
<rect x="535" y="36.6" width="4.3" height="4.3" fill="#e4f844"/>
<rect x="539" y="36.6" width="4.3" height="4.3" fill="#e4f844"/>
<rect x="543" y="36.6" width="4.3" height="4.3" fill="#e4f745"/>
<rect x="547" y="36.6" width="4.3" height="4.3" fill="#e5f545"/>
<rect x="527" y="40.6" width="4.3" height="4.3" fill="#e6f244"/>
<rect x="531" y="40.6" width="4.3" height="4.3" fill="#e5f345"/>
<rect x="535" y="40.6" width="4.3" height="4.3" fill="#e5f545"/>
<rect x="539" y="40.6" width="4.3" height="4.3" fill="#e5f545"/>
<rect x="543" y="40.6" width="4.3" height="4.3" fill="#e5f545"/>
<rect x="547" y="40.6" width="4.3" height="4.3" fill="#e5f345"/>
<rect x="551" y="40.6" width="4.3" height="4.3" fill="#e6f244"/>
<rect x="523" y="44.6" width="4.3" height="4.3" fill="#e8ed42"/>
<rect x="527" y="44.6" width="4.3" height="4.3" fill="#e6f044"/>
<rect x="531" y="44.6" width="4.3" height="4.3" fill="#e6f245"/>
<rect x="535" y="44.6" width="4.3" height="4.3" fill="#e6f245"/>
<rect x="539" y="44.6" width="4.3" height="4.3" fill="#e6f245"/>
<rect x="543" y="44.6" width="4.3" height="4.3" fill="#e6f245"/>
<rect x="547" y="44.6" width="4.3" height="4.3" fill="#e6f244"/>
<rect x="551" y="44.6" width="4.3" height="4.3" fill="#e7ef43"/>
<rect x="523" y="48.6" width="4.3" height="4.3" fill="#e9e941"/>
<rect x="527" y="48.6" width="4.3" height="4.3" fill="#e8ed43"/>
<rect x="531" y="48.6" width="4.3" height="4.3" fill="#e7ef43"/>
<rect x="535" y="48.6" width="4.3" height="4.3" fill="#e7ef43"/>
<rect x="539" y="48.6" width="4.3" height="4.3" fill="#e7ef43"/>
<rect x="543" y="48.6" width="4.3" height="4.3" fill="#e7ef43"/>
<rect x="547" y="48.6" width="4.3" height="4.3" fill="#e7ef43"/>
<rect x="551" y="48.6" width="4.3" height="4.3" fill="#e8ed42"/>
<rect x="555" y="48.6" width="4.3" height="4.3" fill="#e9e941"/>
<rect x="519" y="52.6" width="4.3" height="4.3" fill="#eae43f"/>
<rect x="523" y="52.6" width="4.3" height="4.3" fill="#e9e741"/>
<rect x="527" y="52.6" width="4.3" height="4.3" fill="#e8eb42"/>
<rect x="531" y="52.6" width="4.3" height="4.3" fill="#e8eb42"/>
<rect x="535" y="52.6" width="4.3" height="4.3" fill="#e8eb42"/>
<rect x="539" y="52.6" width="4.3" height="4.3" fill="#e8eb42"/>
<rect x="543" y="52.6" width="4.3" height="4.3" fill="#e8eb42"/>
<rect x="547" y="52.6" width="4.3" height="4.3" fill="#e8eb42"/>
<rect x="551" y="52.6" width="4.3" height="4.3" fill="#e8eb42"/>
<rect x="555" y="52.6" width="4.3" height="4.3" fill="#e9e741"/>
<rect x="559" y="52.6" width="4.3" height="4.3" fill="#eae43f"/>
<rect x="519" y="56.6" width="4.3" height="4.3" fill="#ebe03e"/>
<rect x="523" y="56.6" width="4.3" height="4.3" fill="#eae440"/>
<rect x="527" y="56.6" width="4.3" height="4.3" fill="#eae640"/>
<rect x="531" y="56.6" width="4.3" height="4.3" fill="#eae640"/>
<rect x="535" y="56.6" width="4.3" height="4.3" fill="#eae640"/>
<rect x="539" y="56.6" width="4.3" height="4.3" fill="#eae640"/>
<rect x="543" y="56.6" width="4.3" height="4.3" fill="#eae640"/>
<rect x="547" y="56.6" width="4.3" height="4.3" fill="#eae640"/>
<rect x="551" y="56.6" width="4.3" height="4.3" fill="#eae640"/>
<rect x="555" y="56.6" width="4.3" height="4.3" fill="#eae43f"/>
<rect x="559" y="56.6" width="4.3" height="4.3" fill="#ebe03e"/>
<rect x="515" y="60.6" width="4.3" height="4.3" fill="#edd93d"/>
<rect x="519" y="60.6" width="4.3" height="4.3" fill="#ecdd3e"/>
<rect x="523" y="60.6" width="4.3" height="4.3" fill="#ebe03e"/>
<rect x="527" y="60.6" width="4.3" height="4.3" fill="#ebe03e"/>
<rect x="531" y="60.6" width="4.3" height="4.3" fill="#ebe03e"/>
<rect x="535" y="60.6" width="4.3" height="4.3" fill="#ebe03e"/>
<rect x="539" y="60.6" width="4.3" height="4.3" fill="#ebe03e"/>
<rect x="543" y="60.6" width="4.3" height="4.3" fill="#ebe03e"/>
<rect x="547" y="60.6" width="4.3" height="4.3" fill="#ebe03e"/>
<rect x="551" y="60.6" width="4.3" height="4.3" fill="#ebe03e"/>
<rect x="555" y="60.6" width="4.3" height="4.3" fill="#ebe03e"/>
<rect x="559" y="60.6" width="4.3" height="4.3" fill="#ecdd3d"/>
<rect x="563" y="60.6" width="4.3" height="4.3" fill="#edd93d"/>
<rect x="511" y="64.6" width="4.3" height="4.3" fill="#eed23c"/>
<rect x="515" y="64.6" width="4.3" height="4.3" fill="#eed63c"/>
<rect x="519" y="64.6" width="4.3" height="4.3" fill="#edd93d"/>
<rect x="523" y="64.6" width="4.3" height="4.3" fill="#eddb3d"/>
<rect x="527" y="64.6" width="4.3" height="4.3" fill="#eddb3d"/>
<rect x="531" y="64.6" width="4.3" height="4.3" fill="#eddb3d"/>
<rect x="535" y="64.6" width="4.3" height="4.3" fill="#eddb3d"/>
<rect x="539" y="64.6" width="4.3" height="4.3" fill="#eddb3d"/>
<rect x="543" y="64.6" width="4.3" height="4.3" fill="#eddb3d"/>
<rect x="547" y="64.6" width="4.3" height="4.3" fill="#eddb3d"/>
<rect x="551" y="64.6" width="4.3" height="4.3" fill="#eddb3d"/>
<rect x="555" y="64.6" width="4.3" height="4.3" fill="#eddb3d"/>
<rect x="559" y="64.6" width="4.3" height="4.3" fill="#edd93d"/>
<rect x="563" y="64.6" width="4.3" height="4.3" fill="#eed63c"/>
<rect x="511" y="68.6" width="4.3" height="4.3" fill="#efcf3c"/>
<rect x="515" y="68.6" width="4.3" height="4.3" fill="#eed23c"/>
<rect x="519" y="68.6" width="4.3" height="4.3" fill="#eed63c"/>
<rect x="523" y="68.6" width="4.3" height="4.3" fill="#eed63c"/>
<rect x="527" y="68.6" width="4.3" height="4.3" fill="#eed63c"/>
<rect x="531" y="68.6" width="4.3" height="4.3" fill="#eed63c"/>
<rect x="535" y="68.6" width="4.3" height="4.3" fill="#eed63c"/>
<rect x="539" y="68.6" width="4.3" height="4.3" fill="#eed63c"/>
<rect x="543" y="68.6" width="4.3" height="4.3" fill="#eed63c"/>
<rect x="547" y="68.6" width="4.3" height="4.3" fill="#eed63c"/>
<rect x="551" y="68.6" width="4.3" height="4.3" fill="#eed63c"/>
<rect x="555" y="68.6" width="4.3" height="4.3" fill="#eed63c"/>
<rect x="559" y="68.6" width="4.3" height="4.3" fill="#eed63c"/>
<rect x="563" y="68.6" width="4.3" height="4.3" fill="#eed23c"/>
<rect x="567" y="68.6" width="4.3" height="4.3" fill="#efcd3c"/>
<rect x="507" y="72.6" width="4.3" height="4.3" fill="#f0c63c"/>
<rect x="511" y="72.6" width="4.3" height="4.3" fill="#efca3c"/>
<rect x="515" y="72.6" width="4.3" height="4.3" fill="#efcf3c"/>
<rect x="519" y="72.6" width="4.3" height="4.3" fill="#efcf3c"/>
<rect x="523" y="72.6" width="4.3" height="4.3" fill="#efcf3c"/>
<rect x="527" y="72.6" width="4.3" height="4.3" fill="#efcf3c"/>
<rect x="531" y="72.6" width="4.3" height="4.3" fill="#efcf3c"/>
<rect x="535" y="72.6" width="4.3" height="4.3" fill="#efcf3c"/>
<rect x="539" y="72.6" width="4.3" height="4.3" fill="#efcf3c"/>
<rect x="543" y="72.6" width="4.3" height="4.3" fill="#efcf3c"/>
<rect x="547" y="72.6" width="4.3" height="4.3" fill="#efcf3c"/>
<rect x="551" y="72.6" width="4.3" height="4.3" fill="#efcf3c"/>
<rect x="555" y="72.6" width="4.3" height="4.3" fill="#efcf3c"/>
<rect x="559" y="72.6" width="4.3" height="4.3" fill="#efcf3c"/>
<rect x="563" y="72.6" width="4.3" height="4.3" fill="#efcd3c"/>
<rect x="567" y="72.6" width="4.3" height="4.3" fill="#efca3c"/>
<rect x="571" y="72.6" width="4.3" height="4.3" fill="#f0c63c"/>
<rect x="507" y="76.6" width="4.3" height="4.3" fill="#f0c33c"/>
<rect x="511" y="76.6" width="4.3" height="4.3" fill="#f0c63c"/>
<rect x="515" y="76.6" width="4.3" height="4.3" fill="#f0c83c"/>
<rect x="519" y="76.6" width="4.3" height="4.3" fill="#f0c83c"/>
<rect x="523" y="76.6" width="4.3" height="4.3" fill="#f0c83c"/>
<rect x="527" y="76.6" width="4.3" height="4.3" fill="#f0c83c"/>
<rect x="531" y="76.6" width="4.3" height="4.3" fill="#f0c83c"/>
<rect x="535" y="76.6" width="4.3" height="4.3" fill="#efca3c"/>
<rect x="539" y="76.6" width="4.3" height="4.3" fill="#efca3c"/>
<rect x="543" y="76.6" width="4.3" height="4.3" fill="#efca3c"/>
<rect x="547" y="76.6" width="4.3" height="4.3" fill="#f0c83c"/>
<rect x="551" y="76.6" width="4.3" height="4.3" fill="#f0c83c"/>
<rect x="555" y="76.6" width="4.3" height="4.3" fill="#f0c83c"/>
<rect x="559" y="76.6" width="4.3" height="4.3" fill="#f0c83c"/>
<rect x="563" y="76.6" width="4.3" height="4.3" fill="#f0c83c"/>
<rect x="567" y="76.6" width="4.3" height="4.3" fill="#f0c63c"/>
<rect x="571" y="76.6" width="4.3" height="4.3" fill="#f0c33c"/>
<rect x="503" y="80.6" width="4.3" height="4.3" fill="#f0bc3e"/>
<rect x="507" y="80.6" width="4.3" height="4.3" fill="#f0c03d"/>
<rect x="511" y="80.6" width="4.3" height="4.3" fill="#f0c33c"/>
<rect x="515" y="80.6" width="4.3" height="4.3" fill="#f0c33c"/>
<rect x="519" y="80.6" width="4.3" height="4.3" fill="#f0c33c"/>
<rect x="523" y="80.6" width="4.3" height="4.3" fill="#f0c33c"/>
<rect x="527" y="80.6" width="4.3" height="4.3" fill="#f0c33c"/>
<rect x="531" y="80.6" width="4.3" height="4.3" fill="#f0c33c"/>
<rect x="535" y="80.6" width="4.3" height="4.3" fill="#f0c33c"/>
<rect x="539" y="80.6" width="4.3" height="4.3" fill="#f0c33c"/>
<rect x="543" y="80.6" width="4.3" height="4.3" fill="#f0c33c"/>
<rect x="547" y="80.6" width="4.3" height="4.3" fill="#f0c33c"/>
<rect x="551" y="80.6" width="4.3" height="4.3" fill="#f0c33c"/>
<rect x="555" y="80.6" width="4.3" height="4.3" fill="#f0c33c"/>
<rect x="559" y="80.6" width="4.3" height="4.3" fill="#f0c33c"/>
<rect x="563" y="80.6" width="4.3" height="4.3" fill="#f0c33c"/>
<rect x="567" y="80.6" width="4.3" height="4.3" fill="#f0c33c"/>
<rect x="571" y="80.6" width="4.3" height="4.3" fill="#f0be3e"/>
<rect x="575" y="80.6" width="4.3" height="4.3" fill="#f0bc3e"/>
<rect x="503" y="84.6" width="4.3" height="4.3" fill="#f0b93e"/>
<rect x="507" y="84.6" width="4.3" height="4.3" fill="#f0bc3e"/>
<rect x="511" y="84.6" width="4.3" height="4.3" fill="#f0bc3e"/>
<rect x="515" y="84.6" width="4.3" height="4.3" fill="#f0bc3e"/>
<rect x="519" y="84.6" width="4.3" height="4.3" fill="#f0bc3e"/>
<rect x="523" y="84.6" width="4.3" height="4.3" fill="#f0bc3e"/>
<rect x="527" y="84.6" width="4.3" height="4.3" fill="#f0bc3e"/>
<rect x="531" y="84.6" width="4.3" height="4.3" fill="#f0bc3e"/>
<rect x="535" y="84.6" width="4.3" height="4.3" fill="#f0bc3e"/>
<rect x="539" y="84.6" width="4.3" height="4.3" fill="#f0bc3e"/>
<rect x="543" y="84.6" width="4.3" height="4.3" fill="#f0bc3e"/>
<rect x="547" y="84.6" width="4.3" height="4.3" fill="#f0bc3e"/>
<rect x="551" y="84.6" width="4.3" height="4.3" fill="#f0bc3e"/>
<rect x="555" y="84.6" width="4.3" height="4.3" fill="#f0bc3e"/>
<rect x="559" y="84.6" width="4.3" height="4.3" fill="#f0bc3e"/>
<rect x="563" y="84.6" width="4.3" height="4.3" fill="#f0bc3e"/>
<rect x="567" y="84.6" width="4.3" height="4.3" fill="#f0bc3e"/>
<rect x="571" y="84.6" width="4.3" height="4.3" fill="#f0bb3e"/>
<rect x="575" y="84.6" width="4.3" height="4.3" fill="#f0b83f"/>
<rect x="499" y="88.6" width="4.3" height="4.3" fill="#f0b340"/>
<rect x="503" y="88.6" width="4.3" height="4.3" fill="#f0b63f"/>
<rect x="507" y="88.6" width="4.3" height="4.3" fill="#f0b73f"/>
<rect x="511" y="88.6" width="4.3" height="4.3" fill="#f0b73f"/>
<rect x="515" y="88.6" width="4.3" height="4.3" fill="#f0b73f"/>
<rect x="519" y="88.6" width="4.3" height="4.3" fill="#f0b73f"/>
<rect x="523" y="88.6" width="4.3" height="4.3" fill="#f0b73f"/>
<rect x="527" y="88.6" width="4.3" height="4.3" fill="#f0b73f"/>
<rect x="531" y="88.6" width="4.3" height="4.3" fill="#f0b73f"/>
<rect x="535" y="88.6" width="4.3" height="4.3" fill="#f0b73f"/>
<rect x="539" y="88.6" width="4.3" height="4.3" fill="#f0b73f"/>
<rect x="543" y="88.6" width="4.3" height="4.3" fill="#f0b73f"/>
<rect x="547" y="88.6" width="4.3" height="4.3" fill="#f0b73f"/>
<rect x="551" y="88.6" width="4.3" height="4.3" fill="#f0b73f"/>
<rect x="555" y="88.6" width="4.3" height="4.3" fill="#f0b73f"/>
<rect x="559" y="88.6" width="4.3" height="4.3" fill="#f0b73f"/>
<rect x="563" y="88.6" width="4.3" height="4.3" fill="#f0b73f"/>
<rect x="567" y="88.6" width="4.3" height="4.3" fill="#f0b73f"/>
<rect x="571" y="88.6" width="4.3" height="4.3" fill="#f0b73f"/>
<rect x="575" y="88.6" width="4.3" height="4.3" fill="#f0b440"/>
<rect x="579" y="88.6" width="4.3" height="4.3" fill="#f0b340"/>
<rect x="495" y="92.6" width="4.3" height="4.3" fill="#efac42"/>
<rect x="499" y="92.6" width="4.3" height="4.3" fill="#efae42"/>
<rect x="503" y="92.6" width="4.3" height="4.3" fill="#f0b141"/>
<rect x="507" y="92.6" width="4.3" height="4.3" fill="#f0b340"/>
<rect x="511" y="92.6" width="4.3" height="4.3" fill="#f0b340"/>
<rect x="515" y="92.6" width="4.3" height="4.3" fill="#f0b340"/>
<rect x="519" y="92.6" width="4.3" height="4.3" fill="#f0b340"/>
<rect x="523" y="92.6" width="4.3" height="4.3" fill="#f0b340"/>
<rect x="527" y="92.6" width="4.3" height="4.3" fill="#f0b340"/>
<rect x="531" y="92.6" width="4.3" height="4.3" fill="#f0b340"/>
<rect x="535" y="92.6" width="4.3" height="4.3" fill="#f0b340"/>
<rect x="539" y="92.6" width="4.3" height="4.3" fill="#f0b340"/>
<rect x="543" y="92.6" width="4.3" height="4.3" fill="#f0b340"/>
<rect x="547" y="92.6" width="4.3" height="4.3" fill="#f0b340"/>
<rect x="551" y="92.6" width="4.3" height="4.3" fill="#f0b340"/>
<rect x="555" y="92.6" width="4.3" height="4.3" fill="#f0b340"/>
<rect x="559" y="92.6" width="4.3" height="4.3" fill="#f0b340"/>
<rect x="563" y="92.6" width="4.3" height="4.3" fill="#f0b340"/>
<rect x="567" y="92.6" width="4.3" height="4.3" fill="#f0b340"/>
<rect x="571" y="92.6" width="4.3" height="4.3" fill="#f0b340"/>
<rect x="575" y="92.6" width="4.3" height="4.3" fill="#f0b141"/>
<rect x="579" y="92.6" width="4.3" height="4.3" fill="#efae42"/>
<rect x="495" y="96.6" width="4.3" height="4.3" fill="#efa844"/>
<rect x="499" y="96.6" width="4.3" height="4.3" fill="#efab43"/>
<rect x="503" y="96.6" width="4.3" height="4.3" fill="#efac42"/>
<rect x="507" y="96.6" width="4.3" height="4.3" fill="#efac42"/>
<rect x="511" y="96.6" width="4.3" height="4.3" fill="#efac42"/>
<rect x="515" y="96.6" width="4.3" height="4.3" fill="#efac42"/>
<rect x="519" y="96.6" width="4.3" height="4.3" fill="#efac42"/>
<rect x="523" y="96.6" width="4.3" height="4.3" fill="#efac42"/>
<rect x="527" y="96.6" width="4.3" height="4.3" fill="#efac42"/>
<rect x="531" y="96.6" width="4.3" height="4.3" fill="#efac42"/>
<rect x="535" y="96.6" width="4.3" height="4.3" fill="#efac42"/>
<rect x="539" y="96.6" width="4.3" height="4.3" fill="#efac42"/>
<rect x="543" y="96.6" width="4.3" height="4.3" fill="#efac42"/>
<rect x="547" y="96.6" width="4.3" height="4.3" fill="#efac42"/>
<rect x="551" y="96.6" width="4.3" height="4.3" fill="#efac42"/>
<rect x="555" y="96.6" width="4.3" height="4.3" fill="#efac42"/>
<rect x="559" y="96.6" width="4.3" height="4.3" fill="#efac42"/>
<rect x="563" y="96.6" width="4.3" height="4.3" fill="#efac42"/>
<rect x="567" y="96.6" width="4.3" height="4.3" fill="#efac42"/>
<rect x="571" y="96.6" width="4.3" height="4.3" fill="#efac42"/>
<rect x="575" y="96.6" width="4.3" height="4.3" fill="#efac42"/>
<rect x="579" y="96.6" width="4.3" height="4.3" fill="#efab42"/>
<rect x="583" y="96.6" width="4.3" height="4.3" fill="#efa843"/>
<rect x="491" y="100.6" width="4.3" height="4.3" fill="#ed9e47"/>
<rect x="495" y="100.6" width="4.3" height="4.3" fill="#eea345"/>
<rect x="499" y="100.6" width="4.3" height="4.3" fill="#eea644"/>
<rect x="503" y="100.6" width="4.3" height="4.3" fill="#eea644"/>
<rect x="507" y="100.6" width="4.3" height="4.3" fill="#eea644"/>
<rect x="511" y="100.6" width="4.3" height="4.3" fill="#eea644"/>
<rect x="515" y="100.6" width="4.3" height="4.3" fill="#eea644"/>
<rect x="519" y="100.6" width="4.3" height="4.3" fill="#eea644"/>
<rect x="523" y="100.6" width="4.3" height="4.3" fill="#eea644"/>
<rect x="527" y="100.6" width="4.3" height="4.3" fill="#eea644"/>
<rect x="531" y="100.6" width="4.3" height="4.3" fill="#eea644"/>
<rect x="535" y="100.6" width="4.3" height="4.3" fill="#eea644"/>
<rect x="539" y="100.6" width="4.3" height="4.3" fill="#eea644"/>
<rect x="543" y="100.6" width="4.3" height="4.3" fill="#eea644"/>
<rect x="547" y="100.6" width="4.3" height="4.3" fill="#eea644"/>
<rect x="551" y="100.6" width="4.3" height="4.3" fill="#eea644"/>
<rect x="555" y="100.6" width="4.3" height="4.3" fill="#eea644"/>
<rect x="559" y="100.6" width="4.3" height="4.3" fill="#eea644"/>
<rect x="563" y="100.6" width="4.3" height="4.3" fill="#eea644"/>
<rect x="567" y="100.6" width="4.3" height="4.3" fill="#eea644"/>
<rect x="571" y="100.6" width="4.3" height="4.3" fill="#eea644"/>
<rect x="575" y="100.6" width="4.3" height="4.3" fill="#eea644"/>
<rect x="579" y="100.6" width="4.3" height="4.3" fill="#eea644"/>
<rect x="583" y="100.6" width="4.3" height="4.3" fill="#eea345"/>
<rect x="587" y="100.6" width="4.3" height="4.3" fill="#ed9e47"/>
<rect x="491" y="104.6" width="4.3" height="4.3" fill="#ec9a49"/>
<rect x="495" y="104.6" width="4.3" height="4.3" fill="#ed9d48"/>
<rect x="499" y="104.6" width="4.3" height="4.3" fill="#eda046"/>
<rect x="503" y="104.6" width="4.3" height="4.3" fill="#ed9e47"/>
<rect x="507" y="104.6" width="4.3" height="4.3" fill="#eda046"/>
<rect x="511" y="104.6" width="4.3" height="4.3" fill="#eda046"/>
<rect x="515" y="104.6" width="4.3" height="4.3" fill="#eda046"/>
<rect x="519" y="104.6" width="4.3" height="4.3" fill="#eda046"/>
<rect x="523" y="104.6" width="4.3" height="4.3" fill="#eda046"/>
<rect x="527" y="104.6" width="4.3" height="4.3" fill="#eda046"/>
<rect x="531" y="104.6" width="4.3" height="4.3" fill="#eda046"/>
<rect x="535" y="104.6" width="4.3" height="4.3" fill="#eda046"/>
<rect x="539" y="104.6" width="4.3" height="4.3" fill="#eda046"/>
<rect x="543" y="104.6" width="4.3" height="4.3" fill="#eda046"/>
<rect x="547" y="104.6" width="4.3" height="4.3" fill="#eda046"/>
<rect x="551" y="104.6" width="4.3" height="4.3" fill="#eda046"/>
<rect x="555" y="104.6" width="4.3" height="4.3" fill="#eda046"/>
<rect x="559" y="104.6" width="4.3" height="4.3" fill="#eda046"/>
<rect x="563" y="104.6" width="4.3" height="4.3" fill="#eda046"/>
<rect x="567" y="104.6" width="4.3" height="4.3" fill="#eda046"/>
<rect x="571" y="104.6" width="4.3" height="4.3" fill="#ed9e47"/>
<rect x="575" y="104.6" width="4.3" height="4.3" fill="#eda046"/>
<rect x="579" y="104.6" width="4.3" height="4.3" fill="#eda046"/>
<rect x="583" y="104.6" width="4.3" height="4.3" fill="#ed9d47"/>
<rect x="587" y="104.6" width="4.3" height="4.3" fill="#ec9a48"/>
<rect x="487" y="108.6" width="4.3" height="4.3" fill="#ea914c"/>
<rect x="491" y="108.6" width="4.3" height="4.3" fill="#eb944b"/>
<rect x="495" y="108.6" width="4.3" height="4.3" fill="#ec9849"/>
<rect x="499" y="108.6" width="4.3" height="4.3" fill="#ec9849"/>
<rect x="503" y="108.6" width="4.3" height="4.3" fill="#eb974a"/>
<rect x="507" y="108.6" width="4.3" height="4.3" fill="#eb974a"/>
<rect x="511" y="108.6" width="4.3" height="4.3" fill="#ec9849"/>
<rect x="515" y="108.6" width="4.3" height="4.3" fill="#ec9849"/>
<rect x="519" y="108.6" width="4.3" height="4.3" fill="#ec9849"/>
<rect x="523" y="108.6" width="4.3" height="4.3" fill="#ec9849"/>
<rect x="527" y="108.6" width="4.3" height="4.3" fill="#ec9849"/>
<rect x="531" y="108.6" width="4.3" height="4.3" fill="#ec9849"/>
<rect x="535" y="108.6" width="4.3" height="4.3" fill="#ec9849"/>
<rect x="539" y="108.6" width="4.3" height="4.3" fill="#ec9849"/>
<rect x="543" y="108.6" width="4.3" height="4.3" fill="#ec9849"/>
<rect x="547" y="108.6" width="4.3" height="4.3" fill="#ec9849"/>
<rect x="551" y="108.6" width="4.3" height="4.3" fill="#ec9849"/>
<rect x="555" y="108.6" width="4.3" height="4.3" fill="#ec9849"/>
<rect x="559" y="108.6" width="4.3" height="4.3" fill="#ec9849"/>
<rect x="563" y="108.6" width="4.3" height="4.3" fill="#ec9849"/>
<rect x="567" y="108.6" width="4.3" height="4.3" fill="#ec9849"/>
<rect x="571" y="108.6" width="4.3" height="4.3" fill="#eb974a"/>
<rect x="575" y="108.6" width="4.3" height="4.3" fill="#eb974a"/>
<rect x="579" y="108.6" width="4.3" height="4.3" fill="#ec9849"/>
<rect x="583" y="108.6" width="4.3" height="4.3" fill="#ec9849"/>
<rect x="587" y="108.6" width="4.3" height="4.3" fill="#eb944b"/>
<rect x="591" y="108.6" width="4.3" height="4.3" fill="#ea914c"/>
<rect x="487" y="112.6" width="4.3" height="4.3" fill="#e98c4f"/>
<rect x="491" y="112.6" width="4.3" height="4.3" fill="#e98e4e"/>
<rect x="495" y="112.6" width="4.3" height="4.3" fill="#ea904d"/>
<rect x="499" y="112.6" width="4.3" height="4.3" fill="#ea904d"/>
<rect x="503" y="112.6" width="4.3" height="4.3" fill="#ea904d"/>
<rect x="507" y="112.6" width="4.3" height="4.3" fill="#ea904d"/>
<rect x="511" y="112.6" width="4.3" height="4.3" fill="#ea904d"/>
<rect x="515" y="112.6" width="4.3" height="4.3" fill="#ea904d"/>
<rect x="519" y="112.6" width="4.3" height="4.3" fill="#ea904d"/>
<rect x="523" y="112.6" width="4.3" height="4.3" fill="#ea904d"/>
<rect x="527" y="112.6" width="4.3" height="4.3" fill="#ea904d"/>
<rect x="531" y="112.6" width="4.3" height="4.3" fill="#ea904d"/>
<rect x="535" y="112.6" width="4.3" height="4.3" fill="#ea904d"/>
<rect x="539" y="112.6" width="4.3" height="4.3" fill="#ea904d"/>
<rect x="543" y="112.6" width="4.3" height="4.3" fill="#ea904d"/>
<rect x="547" y="112.6" width="4.3" height="4.3" fill="#ea904d"/>
<rect x="551" y="112.6" width="4.3" height="4.3" fill="#ea904d"/>
<rect x="555" y="112.6" width="4.3" height="4.3" fill="#ea904d"/>
<rect x="559" y="112.6" width="4.3" height="4.3" fill="#ea904d"/>
<rect x="563" y="112.6" width="4.3" height="4.3" fill="#ea904d"/>
<rect x="567" y="112.6" width="4.3" height="4.3" fill="#ea904d"/>
<rect x="571" y="112.6" width="4.3" height="4.3" fill="#ea904d"/>
<rect x="575" y="112.6" width="4.3" height="4.3" fill="#ea904d"/>
<rect x="579" y="112.6" width="4.3" height="4.3" fill="#ea904d"/>
<rect x="583" y="112.6" width="4.3" height="4.3" fill="#ea904d"/>
<rect x="587" y="112.6" width="4.3" height="4.3" fill="#e98e4e"/>
<rect x="591" y="112.6" width="4.3" height="4.3" fill="#e88a50"/>
<rect x="483" y="116.6" width="4.3" height="4.3" fill="#e78354"/>
<rect x="487" y="116.6" width="4.3" height="4.3" fill="#e78553"/>
<rect x="491" y="116.6" width="4.3" height="4.3" fill="#e88851"/>
<rect x="495" y="116.6" width="4.3" height="4.3" fill="#e88851"/>
<rect x="499" y="116.6" width="4.3" height="4.3" fill="#e88851"/>
<rect x="503" y="116.6" width="4.3" height="4.3" fill="#e88851"/>
<rect x="507" y="116.6" width="4.3" height="4.3" fill="#e88851"/>
<rect x="511" y="116.6" width="4.3" height="4.3" fill="#e88951"/>
<rect x="515" y="116.6" width="4.3" height="4.3" fill="#e88951"/>
<rect x="519" y="116.6" width="4.3" height="4.3" fill="#e88951"/>
<rect x="523" y="116.6" width="4.3" height="4.3" fill="#e88951"/>
<rect x="527" y="116.6" width="4.3" height="4.3" fill="#e88951"/>
<rect x="531" y="116.6" width="4.3" height="4.3" fill="#e88951"/>
<rect x="535" y="116.6" width="4.3" height="4.3" fill="#e88951"/>
<rect x="539" y="116.6" width="4.3" height="4.3" fill="#e88951"/>
<rect x="543" y="116.6" width="4.3" height="4.3" fill="#e88951"/>
<rect x="547" y="116.6" width="4.3" height="4.3" fill="#e88951"/>
<rect x="551" y="116.6" width="4.3" height="4.3" fill="#e88951"/>
<rect x="555" y="116.6" width="4.3" height="4.3" fill="#e88951"/>
<rect x="559" y="116.6" width="4.3" height="4.3" fill="#e88951"/>
<rect x="563" y="116.6" width="4.3" height="4.3" fill="#e88951"/>
<rect x="567" y="116.6" width="4.3" height="4.3" fill="#e88851"/>
<rect x="571" y="116.6" width="4.3" height="4.3" fill="#e88851"/>
<rect x="575" y="116.6" width="4.3" height="4.3" fill="#e88851"/>
<rect x="579" y="116.6" width="4.3" height="4.3" fill="#e88851"/>
<rect x="583" y="116.6" width="4.3" height="4.3" fill="#e88851"/>
<rect x="587" y="116.6" width="4.3" height="4.3" fill="#e88851"/>
<rect x="591" y="116.6" width="4.3" height="4.3" fill="#e78553"/>
<rect x="595" y="116.6" width="4.3" height="4.3" fill="#e78354"/>
<rect x="479" y="120.6" width="4.3" height="4.3" fill="#e47a5a"/>
<rect x="483" y="120.6" width="4.3" height="4.3" fill="#e57c58"/>
<rect x="487" y="120.6" width="4.3" height="4.3" fill="#e68056"/>
<rect x="491" y="120.6" width="4.3" height="4.3" fill="#e68056"/>
<rect x="495" y="120.6" width="4.3" height="4.3" fill="#e68056"/>
<rect x="499" y="120.6" width="4.3" height="4.3" fill="#e68056"/>
<rect x="503" y="120.6" width="4.3" height="4.3" fill="#e68056"/>
<rect x="507" y="120.6" width="4.3" height="4.3" fill="#e68056"/>
<rect x="511" y="120.6" width="4.3" height="4.3" fill="#e68056"/>
<rect x="515" y="120.6" width="4.3" height="4.3" fill="#e68056"/>
<rect x="519" y="120.6" width="4.3" height="4.3" fill="#e68056"/>
<rect x="523" y="120.6" width="4.3" height="4.3" fill="#e68056"/>
<rect x="527" y="120.6" width="4.3" height="4.3" fill="#e68056"/>
<rect x="531" y="120.6" width="4.3" height="4.3" fill="#e68056"/>
<rect x="535" y="120.6" width="4.3" height="4.3" fill="#e68056"/>
<rect x="539" y="120.6" width="4.3" height="4.3" fill="#e68056"/>
<rect x="543" y="120.6" width="4.3" height="4.3" fill="#e68056"/>
<rect x="547" y="120.6" width="4.3" height="4.3" fill="#e68056"/>
<rect x="551" y="120.6" width="4.3" height="4.3" fill="#e68056"/>
<rect x="555" y="120.6" width="4.3" height="4.3" fill="#e68056"/>
<rect x="559" y="120.6" width="4.3" height="4.3" fill="#e68056"/>
<rect x="563" y="120.6" width="4.3" height="4.3" fill="#e68056"/>
<rect x="567" y="120.6" width="4.3" height="4.3" fill="#e68056"/>
<rect x="571" y="120.6" width="4.3" height="4.3" fill="#e68056"/>
<rect x="575" y="120.6" width="4.3" height="4.3" fill="#e68056"/>
<rect x="579" y="120.6" width="4.3" height="4.3" fill="#e68056"/>
<rect x="583" y="120.6" width="4.3" height="4.3" fill="#e68056"/>
<rect x="587" y="120.6" width="4.3" height="4.3" fill="#e68056"/>
<rect x="591" y="120.6" width="4.3" height="4.3" fill="#e68056"/>
<rect x="595" y="120.6" width="4.3" height="4.3" fill="#e57c58"/>
<rect x="479" y="124.6" width="4.3" height="4.3" fill="#e1735e"/>
<rect x="483" y="124.6" width="4.3" height="4.3" fill="#e3775b"/>
<rect x="487" y="124.6" width="4.3" height="4.3" fill="#e3785b"/>
<rect x="491" y="124.6" width="4.3" height="4.3" fill="#e3785b"/>
<rect x="495" y="124.6" width="4.3" height="4.3" fill="#e3785b"/>
<rect x="499" y="124.6" width="4.3" height="4.3" fill="#e3785b"/>
<rect x="503" y="124.6" width="4.3" height="4.3" fill="#e3785b"/>
<rect x="507" y="124.6" width="4.3" height="4.3" fill="#e3785b"/>
<rect x="511" y="124.6" width="4.3" height="4.3" fill="#e3785b"/>
<rect x="515" y="124.6" width="4.3" height="4.3" fill="#e3785b"/>
<rect x="519" y="124.6" width="4.3" height="4.3" fill="#e3785b"/>
<rect x="523" y="124.6" width="4.3" height="4.3" fill="#e3785b"/>
<rect x="527" y="124.6" width="4.3" height="4.3" fill="#e3785b"/>
<rect x="531" y="124.6" width="4.3" height="4.3" fill="#e3785b"/>
<rect x="535" y="124.6" width="4.3" height="4.3" fill="#e3785b"/>
<rect x="539" y="124.6" width="4.3" height="4.3" fill="#e3785b"/>
<rect x="543" y="124.6" width="4.3" height="4.3" fill="#e3785b"/>
<rect x="547" y="124.6" width="4.3" height="4.3" fill="#e3785b"/>
<rect x="551" y="124.6" width="4.3" height="4.3" fill="#e3785b"/>
<rect x="555" y="124.6" width="4.3" height="4.3" fill="#e3785b"/>
<rect x="559" y="124.6" width="4.3" height="4.3" fill="#e3785b"/>
<rect x="563" y="124.6" width="4.3" height="4.3" fill="#e3785b"/>
<rect x="567" y="124.6" width="4.3" height="4.3" fill="#e3785b"/>
<rect x="571" y="124.6" width="4.3" height="4.3" fill="#e3785b"/>
<rect x="575" y="124.6" width="4.3" height="4.3" fill="#e3785b"/>
<rect x="579" y="124.6" width="4.3" height="4.3" fill="#e3785b"/>
<rect x="583" y="124.6" width="4.3" height="4.3" fill="#e3785b"/>
<rect x="587" y="124.6" width="4.3" height="4.3" fill="#e3785b"/>
<rect x="591" y="124.6" width="4.3" height="4.3" fill="#e3785b"/>
<rect x="595" y="124.6" width="4.3" height="4.3" fill="#e2765c"/>
<rect x="599" y="124.6" width="4.3" height="4.3" fill="#e2735e"/>
<rect x="475" y="128.6" width="4.3" height="4.3" fill="#de6b63"/>
<rect x="479" y="128.6" width="4.3" height="4.3" fill="#df6d61"/>
<rect x="483" y="128.6" width="4.3" height="4.3" fill="#e07060"/>
<rect x="487" y="128.6" width="4.3" height="4.3" fill="#e1715f"/>
<rect x="491" y="128.6" width="4.3" height="4.3" fill="#e1715f"/>
<rect x="495" y="128.6" width="4.3" height="4.3" fill="#e1715f"/>
<rect x="499" y="128.6" width="4.3" height="4.3" fill="#e1715f"/>
<rect x="503" y="128.6" width="4.3" height="4.3" fill="#e1715f"/>
<rect x="507" y="128.6" width="4.3" height="4.3" fill="#e1715f"/>
<rect x="511" y="128.6" width="4.3" height="4.3" fill="#e1715f"/>
<rect x="515" y="128.6" width="4.3" height="4.3" fill="#e1715f"/>
<rect x="519" y="128.6" width="4.3" height="4.3" fill="#e1715f"/>
<rect x="523" y="128.6" width="4.3" height="4.3" fill="#e1715f"/>
<rect x="527" y="128.6" width="4.3" height="4.3" fill="#e1715f"/>
<rect x="531" y="128.6" width="4.3" height="4.3" fill="#e1715f"/>
<rect x="535" y="128.6" width="4.3" height="4.3" fill="#e1715f"/>
<rect x="539" y="128.6" width="4.3" height="4.3" fill="#e1715f"/>
<rect x="543" y="128.6" width="4.3" height="4.3" fill="#e1715f"/>
<rect x="547" y="128.6" width="4.3" height="4.3" fill="#e1715f"/>
<rect x="551" y="128.6" width="4.3" height="4.3" fill="#e1715f"/>
<rect x="555" y="128.6" width="4.3" height="4.3" fill="#e1715f"/>
<rect x="559" y="128.6" width="4.3" height="4.3" fill="#e1715f"/>
<rect x="563" y="128.6" width="4.3" height="4.3" fill="#e1715f"/>
<rect x="567" y="128.6" width="4.3" height="4.3" fill="#e1715f"/>
<rect x="571" y="128.6" width="4.3" height="4.3" fill="#e1715f"/>
<rect x="575" y="128.6" width="4.3" height="4.3" fill="#e1715f"/>
<rect x="579" y="128.6" width="4.3" height="4.3" fill="#e1715f"/>
<rect x="583" y="128.6" width="4.3" height="4.3" fill="#e1715f"/>
<rect x="587" y="128.6" width="4.3" height="4.3" fill="#e1715f"/>
<rect x="591" y="128.6" width="4.3" height="4.3" fill="#e1715f"/>
<rect x="595" y="128.6" width="4.3" height="4.3" fill="#e07060"/>
<rect x="599" y="128.6" width="4.3" height="4.3" fill="#df6d61"/>
<rect x="603" y="128.6" width="4.3" height="4.3" fill="#dd6a64"/>
<rect x="475" y="132.6" width="4.3" height="4.3" fill="#da6468"/>
<rect x="479" y="132.6" width="4.3" height="4.3" fill="#dc6865"/>
<rect x="483" y="132.6" width="4.3" height="4.3" fill="#dd6965"/>
<rect x="487" y="132.6" width="4.3" height="4.3" fill="#dd6965"/>
<rect x="491" y="132.6" width="4.3" height="4.3" fill="#dd6965"/>
<rect x="495" y="132.6" width="4.3" height="4.3" fill="#dd6965"/>
<rect x="499" y="132.6" width="4.3" height="4.3" fill="#dd6965"/>
<rect x="503" y="132.6" width="4.3" height="4.3" fill="#dd6965"/>
<rect x="507" y="132.6" width="4.3" height="4.3" fill="#dd6965"/>
<rect x="511" y="132.6" width="4.3" height="4.3" fill="#dd6965"/>
<rect x="515" y="132.6" width="4.3" height="4.3" fill="#dd6965"/>
<rect x="519" y="132.6" width="4.3" height="4.3" fill="#dd6965"/>
<rect x="523" y="132.6" width="4.3" height="4.3" fill="#dd6965"/>
<rect x="527" y="132.6" width="4.3" height="4.3" fill="#dd6965"/>
<rect x="531" y="132.6" width="4.3" height="4.3" fill="#dd6965"/>
<rect x="535" y="132.6" width="4.3" height="4.3" fill="#dd6965"/>
<rect x="539" y="132.6" width="4.3" height="4.3" fill="#dd6965"/>
<rect x="543" y="132.6" width="4.3" height="4.3" fill="#dd6965"/>
<rect x="547" y="132.6" width="4.3" height="4.3" fill="#dd6965"/>
<rect x="551" y="132.6" width="4.3" height="4.3" fill="#dd6965"/>
<rect x="555" y="132.6" width="4.3" height="4.3" fill="#dd6965"/>
<rect x="559" y="132.6" width="4.3" height="4.3" fill="#dd6965"/>
<rect x="563" y="132.6" width="4.3" height="4.3" fill="#dd6965"/>
<rect x="567" y="132.6" width="4.3" height="4.3" fill="#dd6965"/>
<rect x="571" y="132.6" width="4.3" height="4.3" fill="#dd6965"/>
<rect x="575" y="132.6" width="4.3" height="4.3" fill="#dd6965"/>
<rect x="579" y="132.6" width="4.3" height="4.3" fill="#dd6965"/>
<rect x="583" y="132.6" width="4.3" height="4.3" fill="#dd6965"/>
<rect x="587" y="132.6" width="4.3" height="4.3" fill="#dd6965"/>
<rect x="591" y="132.6" width="4.3" height="4.3" fill="#dd6965"/>
<rect x="595" y="132.6" width="4.3" height="4.3" fill="#dd6965"/>
<rect x="599" y="132.6" width="4.3" height="4.3" fill="#dc6865"/>
<rect x="603" y="132.6" width="4.3" height="4.3" fill="#db6468"/>
<rect x="471" y="136.6" width="4.3" height="4.3" fill="#d65c6d"/>
<rect x="475" y="136.6" width="4.3" height="4.3" fill="#d85e6b"/>
<rect x="479" y="136.6" width="4.3" height="4.3" fill="#d9616a"/>
<rect x="483" y="136.6" width="4.3" height="4.3" fill="#d9616a"/>
<rect x="487" y="136.6" width="4.3" height="4.3" fill="#d9616a"/>
<rect x="491" y="136.6" width="4.3" height="4.3" fill="#d9616a"/>
<rect x="495" y="136.6" width="4.3" height="4.3" fill="#d9616a"/>
<rect x="499" y="136.6" width="4.3" height="4.3" fill="#d9616a"/>
<rect x="503" y="136.6" width="4.3" height="4.3" fill="#d9616a"/>
<rect x="507" y="136.6" width="4.3" height="4.3" fill="#d9616a"/>
<rect x="511" y="136.6" width="4.3" height="4.3" fill="#d9616a"/>
<rect x="515" y="136.6" width="4.3" height="4.3" fill="#d9616a"/>
<rect x="519" y="136.6" width="4.3" height="4.3" fill="#d9616a"/>
<rect x="523" y="136.6" width="4.3" height="4.3" fill="#d9616a"/>
<rect x="527" y="136.6" width="4.3" height="4.3" fill="#d9616a"/>
<rect x="531" y="136.6" width="4.3" height="4.3" fill="#d9616a"/>
<rect x="535" y="136.6" width="4.3" height="4.3" fill="#d9616a"/>
<rect x="539" y="136.6" width="4.3" height="4.3" fill="#d9616a"/>
<rect x="543" y="136.6" width="4.3" height="4.3" fill="#d9616a"/>
<rect x="547" y="136.6" width="4.3" height="4.3" fill="#d9616a"/>
<rect x="551" y="136.6" width="4.3" height="4.3" fill="#d9616a"/>
<rect x="555" y="136.6" width="4.3" height="4.3" fill="#d9616a"/>
<rect x="559" y="136.6" width="4.3" height="4.3" fill="#d9616a"/>
<rect x="563" y="136.6" width="4.3" height="4.3" fill="#d9616a"/>
<rect x="567" y="136.6" width="4.3" height="4.3" fill="#d9616a"/>
<rect x="571" y="136.6" width="4.3" height="4.3" fill="#d9616a"/>
<rect x="575" y="136.6" width="4.3" height="4.3" fill="#d9616a"/>
<rect x="579" y="136.6" width="4.3" height="4.3" fill="#d9616a"/>
<rect x="583" y="136.6" width="4.3" height="4.3" fill="#d9616a"/>
<rect x="587" y="136.6" width="4.3" height="4.3" fill="#d9616a"/>
<rect x="591" y="136.6" width="4.3" height="4.3" fill="#d9616a"/>
<rect x="595" y="136.6" width="4.3" height="4.3" fill="#d9616a"/>
<rect x="599" y="136.6" width="4.3" height="4.3" fill="#d9616a"/>
<rect x="603" y="136.6" width="4.3" height="4.3" fill="#d85e6b"/>
<rect x="607" y="136.6" width="4.3" height="4.3" fill="#d65b6e"/>
<rect x="467" y="140.6" width="4.3" height="4.3" fill="#d15373"/>
<rect x="471" y="140.6" width="4.3" height="4.3" fill="#d25572"/>
<rect x="475" y="140.6" width="4.3" height="4.3" fill="#d45770"/>
<rect x="479" y="140.6" width="4.3" height="4.3" fill="#d4596f"/>
<rect x="483" y="140.6" width="4.3" height="4.3" fill="#d4596f"/>
<rect x="487" y="140.6" width="4.3" height="4.3" fill="#d4596f"/>
<rect x="491" y="140.6" width="4.3" height="4.3" fill="#d4596f"/>
<rect x="495" y="140.6" width="4.3" height="4.3" fill="#d4596f"/>
<rect x="499" y="140.6" width="4.3" height="4.3" fill="#d4596f"/>
<rect x="503" y="140.6" width="4.3" height="4.3" fill="#d4596f"/>
<rect x="507" y="140.6" width="4.3" height="4.3" fill="#d4596f"/>
<rect x="511" y="140.6" width="4.3" height="4.3" fill="#d4596f"/>
<rect x="515" y="140.6" width="4.3" height="4.3" fill="#d4596f"/>
<rect x="519" y="140.6" width="4.3" height="4.3" fill="#d4596f"/>
<rect x="523" y="140.6" width="4.3" height="4.3" fill="#d4596f"/>
<rect x="527" y="140.6" width="4.3" height="4.3" fill="#d4596f"/>
<rect x="531" y="140.6" width="4.3" height="4.3" fill="#d4596f"/>
<rect x="535" y="140.6" width="4.3" height="4.3" fill="#d4596f"/>
<rect x="539" y="140.6" width="4.3" height="4.3" fill="#d4596f"/>
<rect x="543" y="140.6" width="4.3" height="4.3" fill="#d4596f"/>
<rect x="547" y="140.6" width="4.3" height="4.3" fill="#d4596f"/>
<rect x="551" y="140.6" width="4.3" height="4.3" fill="#d4596f"/>
<rect x="555" y="140.6" width="4.3" height="4.3" fill="#d4596f"/>
<rect x="559" y="140.6" width="4.3" height="4.3" fill="#d4596f"/>
<rect x="563" y="140.6" width="4.3" height="4.3" fill="#d4596f"/>
<rect x="567" y="140.6" width="4.3" height="4.3" fill="#d4596f"/>
<rect x="571" y="140.6" width="4.3" height="4.3" fill="#d4596f"/>
<rect x="575" y="140.6" width="4.3" height="4.3" fill="#d4596f"/>
<rect x="579" y="140.6" width="4.3" height="4.3" fill="#d4596f"/>
<rect x="583" y="140.6" width="4.3" height="4.3" fill="#d4596f"/>
<rect x="587" y="140.6" width="4.3" height="4.3" fill="#d4596f"/>
<rect x="591" y="140.6" width="4.3" height="4.3" fill="#d4596f"/>
<rect x="595" y="140.6" width="4.3" height="4.3" fill="#d4596f"/>
<rect x="599" y="140.6" width="4.3" height="4.3" fill="#d4596f"/>
<rect x="603" y="140.6" width="4.3" height="4.3" fill="#d45770"/>
<rect x="607" y="140.6" width="4.3" height="4.3" fill="#d25572"/>
<rect x="467" y="144.6" width="4.3" height="4.3" fill="#cd4c78"/>
<rect x="471" y="144.6" width="4.3" height="4.3" fill="#ce4e76"/>
<rect x="475" y="144.6" width="4.3" height="4.3" fill="#d05175"/>
<rect x="479" y="144.6" width="4.3" height="4.3" fill="#d05175"/>
<rect x="483" y="144.6" width="4.3" height="4.3" fill="#d05175"/>
<rect x="487" y="144.6" width="4.3" height="4.3" fill="#d05175"/>
<rect x="491" y="144.6" width="4.3" height="4.3" fill="#d05175"/>
<rect x="495" y="144.6" width="4.3" height="4.3" fill="#d05175"/>
<rect x="499" y="144.6" width="4.3" height="4.3" fill="#d05175"/>
<rect x="503" y="144.6" width="4.3" height="4.3" fill="#d05175"/>
<rect x="507" y="144.6" width="4.3" height="4.3" fill="#d05175"/>
<rect x="511" y="144.6" width="4.3" height="4.3" fill="#d05175"/>
<rect x="515" y="144.6" width="4.3" height="4.3" fill="#d05175"/>
<rect x="519" y="144.6" width="4.3" height="4.3" fill="#d05175"/>
<rect x="523" y="144.6" width="4.3" height="4.3" fill="#d05175"/>
<rect x="527" y="144.6" width="4.3" height="4.3" fill="#d05175"/>
<rect x="531" y="144.6" width="4.3" height="4.3" fill="#d05175"/>
<rect x="535" y="144.6" width="4.3" height="4.3" fill="#d05175"/>
<rect x="539" y="144.6" width="4.3" height="4.3" fill="#d05175"/>
<rect x="543" y="144.6" width="4.3" height="4.3" fill="#d05175"/>
<rect x="547" y="144.6" width="4.3" height="4.3" fill="#d05175"/>
<rect x="551" y="144.6" width="4.3" height="4.3" fill="#d05175"/>
<rect x="555" y="144.6" width="4.3" height="4.3" fill="#d05175"/>
<rect x="559" y="144.6" width="4.3" height="4.3" fill="#d05175"/>
<rect x="563" y="144.6" width="4.3" height="4.3" fill="#d05175"/>
<rect x="567" y="144.6" width="4.3" height="4.3" fill="#d05175"/>
<rect x="571" y="144.6" width="4.3" height="4.3" fill="#d05175"/>
<rect x="575" y="144.6" width="4.3" height="4.3" fill="#d05175"/>
<rect x="579" y="144.6" width="4.3" height="4.3" fill="#d05175"/>
<rect x="583" y="144.6" width="4.3" height="4.3" fill="#d05175"/>
<rect x="587" y="144.6" width="4.3" height="4.3" fill="#d05175"/>
<rect x="591" y="144.6" width="4.3" height="4.3" fill="#d05175"/>
<rect x="595" y="144.6" width="4.3" height="4.3" fill="#d05175"/>
<rect x="599" y="144.6" width="4.3" height="4.3" fill="#d05175"/>
<rect x="603" y="144.6" width="4.3" height="4.3" fill="#d05175"/>
<rect x="607" y="144.6" width="4.3" height="4.3" fill="#ce4e76"/>
<rect x="611" y="144.6" width="4.3" height="4.3" fill="#cd4c78"/>
<rect x="463" y="148.6" width="4.3" height="4.3" fill="#c8457e"/>
<rect x="467" y="148.6" width="4.3" height="4.3" fill="#c8457d"/>
<rect x="471" y="148.6" width="4.3" height="4.3" fill="#ca487b"/>
<rect x="475" y="148.6" width="4.3" height="4.3" fill="#cb497a"/>
<rect x="479" y="148.6" width="4.3" height="4.3" fill="#cb497a"/>
<rect x="483" y="148.6" width="4.3" height="4.3" fill="#cb497a"/>
<rect x="487" y="148.6" width="4.3" height="4.3" fill="#ca487b"/>
<rect x="491" y="148.6" width="4.3" height="4.3" fill="#ca487b"/>
<rect x="495" y="148.6" width="4.3" height="4.3" fill="#cb497a"/>
<rect x="499" y="148.6" width="4.3" height="4.3" fill="#cb497a"/>
<rect x="503" y="148.6" width="4.3" height="4.3" fill="#cb497a"/>
<rect x="507" y="148.6" width="4.3" height="4.3" fill="#cb497a"/>
<rect x="511" y="148.6" width="4.3" height="4.3" fill="#cb497a"/>
<rect x="515" y="148.6" width="4.3" height="4.3" fill="#cb497a"/>
<rect x="519" y="148.6" width="4.3" height="4.3" fill="#cb497a"/>
<rect x="523" y="148.6" width="4.3" height="4.3" fill="#cb497a"/>
<rect x="527" y="148.6" width="4.3" height="4.3" fill="#cb497a"/>
<rect x="531" y="148.6" width="4.3" height="4.3" fill="#cb497a"/>
<rect x="535" y="148.6" width="4.3" height="4.3" fill="#cb497a"/>
<rect x="539" y="148.6" width="4.3" height="4.3" fill="#cb497a"/>
<rect x="543" y="148.6" width="4.3" height="4.3" fill="#cb497a"/>
<rect x="547" y="148.6" width="4.3" height="4.3" fill="#cb497a"/>
<rect x="551" y="148.6" width="4.3" height="4.3" fill="#cb497a"/>
<rect x="555" y="148.6" width="4.3" height="4.3" fill="#cb497a"/>
<rect x="559" y="148.6" width="4.3" height="4.3" fill="#cb497a"/>
<rect x="563" y="148.6" width="4.3" height="4.3" fill="#cb497a"/>
<rect x="567" y="148.6" width="4.3" height="4.3" fill="#cb497a"/>
<rect x="571" y="148.6" width="4.3" height="4.3" fill="#cb497a"/>
<rect x="575" y="148.6" width="4.3" height="4.3" fill="#cb497a"/>
<rect x="579" y="148.6" width="4.3" height="4.3" fill="#cb497a"/>
<rect x="583" y="148.6" width="4.3" height="4.3" fill="#cb497a"/>
<rect x="587" y="148.6" width="4.3" height="4.3" fill="#cb497a"/>
<rect x="591" y="148.6" width="4.3" height="4.3" fill="#ca487b"/>
<rect x="595" y="148.6" width="4.3" height="4.3" fill="#cb497a"/>
<rect x="599" y="148.6" width="4.3" height="4.3" fill="#cb497a"/>
<rect x="603" y="148.6" width="4.3" height="4.3" fill="#cb497a"/>
<rect x="607" y="148.6" width="4.3" height="4.3" fill="#ca487b"/>
<rect x="611" y="148.6" width="4.3" height="4.3" fill="#c8457d"/>
<rect x="615" y="148.6" width="4.3" height="4.3" fill="#c7447f"/>
<rect x="463" y="152.6" width="4.3" height="4.3" fill="#c24085"/>
<rect x="467" y="152.6" width="4.3" height="4.3" fill="#c34084"/>
<rect x="471" y="152.6" width="4.3" height="4.3" fill="#c54282"/>
<rect x="475" y="152.6" width="4.3" height="4.3" fill="#c54282"/>
<rect x="479" y="152.6" width="4.3" height="4.3" fill="#c54282"/>
<rect x="483" y="152.6" width="4.3" height="4.3" fill="#c54282"/>
<rect x="487" y="152.6" width="4.3" height="4.3" fill="#c44183"/>
<rect x="491" y="152.6" width="4.3" height="4.3" fill="#c44183"/>
<rect x="495" y="152.6" width="4.3" height="4.3" fill="#c44183"/>
<rect x="499" y="152.6" width="4.3" height="4.3" fill="#c44183"/>
<rect x="503" y="152.6" width="4.3" height="4.3" fill="#c44183"/>
<rect x="507" y="152.6" width="4.3" height="4.3" fill="#c44183"/>
<rect x="511" y="152.6" width="4.3" height="4.3" fill="#c44183"/>
<rect x="515" y="152.6" width="4.3" height="4.3" fill="#c44183"/>
<rect x="519" y="152.6" width="4.3" height="4.3" fill="#c44183"/>
<rect x="523" y="152.6" width="4.3" height="4.3" fill="#c44183"/>
<rect x="527" y="152.6" width="4.3" height="4.3" fill="#c44183"/>
<rect x="531" y="152.6" width="4.3" height="4.3" fill="#c44183"/>
<rect x="535" y="152.6" width="4.3" height="4.3" fill="#c44183"/>
<rect x="539" y="152.6" width="4.3" height="4.3" fill="#c44183"/>
<rect x="543" y="152.6" width="4.3" height="4.3" fill="#c44183"/>
<rect x="547" y="152.6" width="4.3" height="4.3" fill="#c44183"/>
<rect x="551" y="152.6" width="4.3" height="4.3" fill="#c44183"/>
<rect x="555" y="152.6" width="4.3" height="4.3" fill="#c44183"/>
<rect x="559" y="152.6" width="4.3" height="4.3" fill="#c44183"/>
<rect x="563" y="152.6" width="4.3" height="4.3" fill="#c44183"/>
<rect x="567" y="152.6" width="4.3" height="4.3" fill="#c44183"/>
<rect x="571" y="152.6" width="4.3" height="4.3" fill="#c44183"/>
<rect x="575" y="152.6" width="4.3" height="4.3" fill="#c44183"/>
<rect x="579" y="152.6" width="4.3" height="4.3" fill="#c44183"/>
<rect x="583" y="152.6" width="4.3" height="4.3" fill="#c44183"/>
<rect x="587" y="152.6" width="4.3" height="4.3" fill="#c44183"/>
<rect x="591" y="152.6" width="4.3" height="4.3" fill="#c44183"/>
<rect x="595" y="152.6" width="4.3" height="4.3" fill="#c44183"/>
<rect x="599" y="152.6" width="4.3" height="4.3" fill="#c44183"/>
<rect x="603" y="152.6" width="4.3" height="4.3" fill="#c54282"/>
<rect x="607" y="152.6" width="4.3" height="4.3" fill="#c44183"/>
<rect x="611" y="152.6" width="4.3" height="4.3" fill="#c34084"/>
<rect x="615" y="152.6" width="4.3" height="4.3" fill="#c13e86"/>
<rect x="459" y="156.6" width="4.3" height="4.3" fill="#ba3890"/>
<rect x="463" y="156.6" width="4.3" height="4.3" fill="#bc398e"/>
<rect x="467" y="156.6" width="4.3" height="4.3" fill="#be3b8b"/>
<rect x="471" y="156.6" width="4.3" height="4.3" fill="#be3b8b"/>
<rect x="475" y="156.6" width="4.3" height="4.3" fill="#bf3c8a"/>
<rect x="479" y="156.6" width="4.3" height="4.3" fill="#bf3c8a"/>
<rect x="483" y="156.6" width="4.3" height="4.3" fill="#bf3c8a"/>
<rect x="487" y="156.6" width="4.3" height="4.3" fill="#bf3c8a"/>
<rect x="491" y="156.6" width="4.3" height="4.3" fill="#bf3c8a"/>
<rect x="495" y="156.6" width="4.3" height="4.3" fill="#be3b8b"/>
<rect x="499" y="156.6" width="4.3" height="4.3" fill="#be3b8b"/>
<rect x="503" y="156.6" width="4.3" height="4.3" fill="#be3b8b"/>
<rect x="507" y="156.6" width="4.3" height="4.3" fill="#be3b8b"/>
<rect x="511" y="156.6" width="4.3" height="4.3" fill="#bf3c8a"/>
<rect x="515" y="156.6" width="4.3" height="4.3" fill="#bf3c8a"/>
<rect x="519" y="156.6" width="4.3" height="4.3" fill="#bf3c8a"/>
<rect x="523" y="156.6" width="4.3" height="4.3" fill="#bf3c8a"/>
<rect x="527" y="156.6" width="4.3" height="4.3" fill="#bf3c8a"/>
<rect x="531" y="156.6" width="4.3" height="4.3" fill="#bf3c8a"/>
<rect x="535" y="156.6" width="4.3" height="4.3" fill="#bf3c8a"/>
<rect x="539" y="156.6" width="4.3" height="4.3" fill="#bf3c8a"/>
<rect x="543" y="156.6" width="4.3" height="4.3" fill="#bf3c8a"/>
<rect x="547" y="156.6" width="4.3" height="4.3" fill="#bf3c8a"/>
<rect x="551" y="156.6" width="4.3" height="4.3" fill="#bf3c8a"/>
<rect x="555" y="156.6" width="4.3" height="4.3" fill="#bf3c8a"/>
<rect x="559" y="156.6" width="4.3" height="4.3" fill="#bf3c8a"/>
<rect x="563" y="156.6" width="4.3" height="4.3" fill="#bf3c8a"/>
<rect x="567" y="156.6" width="4.3" height="4.3" fill="#bf3c8a"/>
<rect x="571" y="156.6" width="4.3" height="4.3" fill="#bf3c8a"/>
<rect x="575" y="156.6" width="4.3" height="4.3" fill="#bf3c8a"/>
<rect x="579" y="156.6" width="4.3" height="4.3" fill="#bf3c8a"/>
<rect x="583" y="156.6" width="4.3" height="4.3" fill="#bf3c8a"/>
<rect x="587" y="156.6" width="4.3" height="4.3" fill="#bf3c8a"/>
<rect x="591" y="156.6" width="4.3" height="4.3" fill="#bf3c8a"/>
<rect x="595" y="156.6" width="4.3" height="4.3" fill="#bf3c8a"/>
<rect x="599" y="156.6" width="4.3" height="4.3" fill="#bf3c8a"/>
<rect x="603" y="156.6" width="4.3" height="4.3" fill="#bf3c8a"/>
<rect x="607" y="156.6" width="4.3" height="4.3" fill="#bf3c8a"/>
<rect x="611" y="156.6" width="4.3" height="4.3" fill="#be3b8b"/>
<rect x="615" y="156.6" width="4.3" height="4.3" fill="#bd3a8d"/>
<rect x="619" y="156.6" width="4.3" height="4.3" fill="#bb398f"/>
<rect x="459" y="160.6" width="4.3" height="4.3" fill="#b43398"/>
<rect x="463" y="160.6" width="4.3" height="4.3" fill="#b63596"/>
<rect x="467" y="160.6" width="4.3" height="4.3" fill="#b73594"/>
<rect x="471" y="160.6" width="4.3" height="4.3" fill="#b73594"/>
<rect x="475" y="160.6" width="4.3" height="4.3" fill="#b83693"/>
<rect x="479" y="160.6" width="4.3" height="4.3" fill="#b83693"/>
<rect x="483" y="160.6" width="4.3" height="4.3" fill="#b83693"/>
<rect x="487" y="160.6" width="4.3" height="4.3" fill="#b83693"/>
<rect x="491" y="160.6" width="4.3" height="4.3" fill="#b83693"/>
<rect x="495" y="160.6" width="4.3" height="4.3" fill="#b83693"/>
<rect x="499" y="160.6" width="4.3" height="4.3" fill="#b83693"/>
<rect x="503" y="160.6" width="4.3" height="4.3" fill="#b83693"/>
<rect x="507" y="160.6" width="4.3" height="4.3" fill="#b83693"/>
<rect x="511" y="160.6" width="4.3" height="4.3" fill="#b83693"/>
<rect x="515" y="160.6" width="4.3" height="4.3" fill="#b83693"/>
<rect x="519" y="160.6" width="4.3" height="4.3" fill="#b83693"/>
<rect x="523" y="160.6" width="4.3" height="4.3" fill="#b83693"/>
<rect x="527" y="160.6" width="4.3" height="4.3" fill="#b83693"/>
<rect x="531" y="160.6" width="4.3" height="4.3" fill="#b83693"/>
<rect x="535" y="160.6" width="4.3" height="4.3" fill="#b83693"/>
<rect x="539" y="160.6" width="4.3" height="4.3" fill="#b83693"/>
<rect x="543" y="160.6" width="4.3" height="4.3" fill="#b83693"/>
<rect x="547" y="160.6" width="4.3" height="4.3" fill="#b83693"/>
<rect x="551" y="160.6" width="4.3" height="4.3" fill="#b83693"/>
<rect x="555" y="160.6" width="4.3" height="4.3" fill="#b83693"/>
<rect x="559" y="160.6" width="4.3" height="4.3" fill="#b83693"/>
<rect x="563" y="160.6" width="4.3" height="4.3" fill="#b83693"/>
<rect x="567" y="160.6" width="4.3" height="4.3" fill="#b83693"/>
<rect x="571" y="160.6" width="4.3" height="4.3" fill="#b83693"/>
<rect x="575" y="160.6" width="4.3" height="4.3" fill="#b83693"/>
<rect x="579" y="160.6" width="4.3" height="4.3" fill="#b83693"/>
<rect x="583" y="160.6" width="4.3" height="4.3" fill="#b83693"/>
<rect x="587" y="160.6" width="4.3" height="4.3" fill="#b83693"/>
<rect x="591" y="160.6" width="4.3" height="4.3" fill="#b83693"/>
<rect x="595" y="160.6" width="4.3" height="4.3" fill="#b83693"/>
<rect x="599" y="160.6" width="4.3" height="4.3" fill="#b83693"/>
<rect x="603" y="160.6" width="4.3" height="4.3" fill="#b83693"/>
<rect x="607" y="160.6" width="4.3" height="4.3" fill="#b83693"/>
<rect x="611" y="160.6" width="4.3" height="4.3" fill="#b83693"/>
<rect x="615" y="160.6" width="4.3" height="4.3" fill="#b73594"/>
<rect x="619" y="160.6" width="4.3" height="4.3" fill="#b63596"/>
<rect x="455" y="164.6" width="4.3" height="4.3" fill="#ab2ca2"/>
<rect x="459" y="164.6" width="4.3" height="4.3" fill="#ac2da1"/>
<rect x="463" y="164.6" width="4.3" height="4.3" fill="#af2f9e"/>
<rect x="467" y="164.6" width="4.3" height="4.3" fill="#b02f9d"/>
<rect x="471" y="164.6" width="4.3" height="4.3" fill="#b1309c"/>
<rect x="475" y="164.6" width="4.3" height="4.3" fill="#b1309c"/>
<rect x="479" y="164.6" width="4.3" height="4.3" fill="#b1309c"/>
<rect x="483" y="164.6" width="4.3" height="4.3" fill="#b2319b"/>
<rect x="487" y="164.6" width="4.3" height="4.3" fill="#b2319b"/>
<rect x="491" y="164.6" width="4.3" height="4.3" fill="#b1309c"/>
<rect x="495" y="164.6" width="4.3" height="4.3" fill="#b1309c"/>
<rect x="499" y="164.6" width="4.3" height="4.3" fill="#b1309c"/>
<rect x="503" y="164.6" width="4.3" height="4.3" fill="#b1309c"/>
<rect x="507" y="164.6" width="4.3" height="4.3" fill="#b1309c"/>
<rect x="511" y="164.6" width="4.3" height="4.3" fill="#b1309c"/>
<rect x="515" y="164.6" width="4.3" height="4.3" fill="#b1309c"/>
<rect x="519" y="164.6" width="4.3" height="4.3" fill="#b1309c"/>
<rect x="523" y="164.6" width="4.3" height="4.3" fill="#b1309c"/>
<rect x="527" y="164.6" width="4.3" height="4.3" fill="#b1309c"/>
<rect x="531" y="164.6" width="4.3" height="4.3" fill="#b1309c"/>
<rect x="535" y="164.6" width="4.3" height="4.3" fill="#b1309c"/>
<rect x="539" y="164.6" width="4.3" height="4.3" fill="#b1309c"/>
<rect x="543" y="164.6" width="4.3" height="4.3" fill="#b1309c"/>
<rect x="547" y="164.6" width="4.3" height="4.3" fill="#b1309c"/>
<rect x="551" y="164.6" width="4.3" height="4.3" fill="#b1309c"/>
<rect x="555" y="164.6" width="4.3" height="4.3" fill="#b1309c"/>
<rect x="559" y="164.6" width="4.3" height="4.3" fill="#b1309c"/>
<rect x="563" y="164.6" width="4.3" height="4.3" fill="#b1309c"/>
<rect x="567" y="164.6" width="4.3" height="4.3" fill="#b1309c"/>
<rect x="571" y="164.6" width="4.3" height="4.3" fill="#b1309c"/>
<rect x="575" y="164.6" width="4.3" height="4.3" fill="#b1309c"/>
<rect x="579" y="164.6" width="4.3" height="4.3" fill="#b1309c"/>
<rect x="583" y="164.6" width="4.3" height="4.3" fill="#b1309c"/>
<rect x="587" y="164.6" width="4.3" height="4.3" fill="#b1309c"/>
<rect x="591" y="164.6" width="4.3" height="4.3" fill="#b1309c"/>
<rect x="595" y="164.6" width="4.3" height="4.3" fill="#b1309c"/>
<rect x="599" y="164.6" width="4.3" height="4.3" fill="#b1309c"/>
<rect x="603" y="164.6" width="4.3" height="4.3" fill="#b1309c"/>
<rect x="607" y="164.6" width="4.3" height="4.3" fill="#b1309c"/>
<rect x="611" y="164.6" width="4.3" height="4.3" fill="#b1309c"/>
<rect x="615" y="164.6" width="4.3" height="4.3" fill="#b1309c"/>
<rect x="619" y="164.6" width="4.3" height="4.3" fill="#b02f9d"/>
<rect x="623" y="164.6" width="4.3" height="4.3" fill="#af2f9e"/>
<rect x="451" y="168.6" width="4.3" height="4.3" fill="#a225ab"/>
<rect x="455" y="168.6" width="4.3" height="4.3" fill="#a326aa"/>
<rect x="459" y="168.6" width="4.3" height="4.3" fill="#a427a9"/>
<rect x="463" y="168.6" width="4.3" height="4.3" fill="#a729a7"/>
<rect x="467" y="168.6" width="4.3" height="4.3" fill="#a82aa5"/>
<rect x="471" y="168.6" width="4.3" height="4.3" fill="#a92aa4"/>
<rect x="475" y="168.6" width="4.3" height="4.3" fill="#aa2ba3"/>
<rect x="479" y="168.6" width="4.3" height="4.3" fill="#aa2ba3"/>
<rect x="483" y="168.6" width="4.3" height="4.3" fill="#aa2ba3"/>
<rect x="487" y="168.6" width="4.3" height="4.3" fill="#aa2ba3"/>
<rect x="491" y="168.6" width="4.3" height="4.3" fill="#aa2ba3"/>
<rect x="495" y="168.6" width="4.3" height="4.3" fill="#aa2ba3"/>
<rect x="499" y="168.6" width="4.3" height="4.3" fill="#aa2ba3"/>
<rect x="503" y="168.6" width="4.3" height="4.3" fill="#aa2ba3"/>
<rect x="507" y="168.6" width="4.3" height="4.3" fill="#aa2ba3"/>
<rect x="511" y="168.6" width="4.3" height="4.3" fill="#aa2ba3"/>
<rect x="515" y="168.6" width="4.3" height="4.3" fill="#aa2ba3"/>
<rect x="519" y="168.6" width="4.3" height="4.3" fill="#aa2ba3"/>
<rect x="523" y="168.6" width="4.3" height="4.3" fill="#aa2ba3"/>
<rect x="527" y="168.6" width="4.3" height="4.3" fill="#aa2ba3"/>
<rect x="531" y="168.6" width="4.3" height="4.3" fill="#aa2ba3"/>
<rect x="535" y="168.6" width="4.3" height="4.3" fill="#aa2ba3"/>
<rect x="539" y="168.6" width="4.3" height="4.3" fill="#aa2ba3"/>
<rect x="543" y="168.6" width="4.3" height="4.3" fill="#aa2ba3"/>
<rect x="547" y="168.6" width="4.3" height="4.3" fill="#aa2ba3"/>
<rect x="551" y="168.6" width="4.3" height="4.3" fill="#aa2ba3"/>
<rect x="555" y="168.6" width="4.3" height="4.3" fill="#aa2ba3"/>
<rect x="559" y="168.6" width="4.3" height="4.3" fill="#aa2ba3"/>
<rect x="563" y="168.6" width="4.3" height="4.3" fill="#aa2ba3"/>
<rect x="567" y="168.6" width="4.3" height="4.3" fill="#aa2ba3"/>
<rect x="571" y="168.6" width="4.3" height="4.3" fill="#aa2ba3"/>
<rect x="575" y="168.6" width="4.3" height="4.3" fill="#aa2ba3"/>
<rect x="579" y="168.6" width="4.3" height="4.3" fill="#aa2ba3"/>
<rect x="583" y="168.6" width="4.3" height="4.3" fill="#aa2ba3"/>
<rect x="587" y="168.6" width="4.3" height="4.3" fill="#aa2ba3"/>
<rect x="591" y="168.6" width="4.3" height="4.3" fill="#aa2ba3"/>
<rect x="595" y="168.6" width="4.3" height="4.3" fill="#aa2ba3"/>
<rect x="599" y="168.6" width="4.3" height="4.3" fill="#aa2ba3"/>
<rect x="603" y="168.6" width="4.3" height="4.3" fill="#aa2ba3"/>
<rect x="607" y="168.6" width="4.3" height="4.3" fill="#aa2ba3"/>
<rect x="611" y="168.6" width="4.3" height="4.3" fill="#aa2ba3"/>
<rect x="615" y="168.6" width="4.3" height="4.3" fill="#aa2ba3"/>
<rect x="619" y="168.6" width="4.3" height="4.3" fill="#aa2ba3"/>
<rect x="623" y="168.6" width="4.3" height="4.3" fill="#a92aa4"/>
<rect x="451" y="172.6" width="4.3" height="4.3" fill="#9a20b2"/>
<rect x="455" y="172.6" width="4.3" height="4.3" fill="#9b21b1"/>
<rect x="459" y="172.6" width="4.3" height="4.3" fill="#9c21b0"/>
<rect x="463" y="172.6" width="4.3" height="4.3" fill="#9f23ae"/>
<rect x="467" y="172.6" width="4.3" height="4.3" fill="#a024ad"/>
<rect x="471" y="172.6" width="4.3" height="4.3" fill="#a124ac"/>
<rect x="475" y="172.6" width="4.3" height="4.3" fill="#a225ab"/>
<rect x="479" y="172.6" width="4.3" height="4.3" fill="#a326aa"/>
<rect x="483" y="172.6" width="4.3" height="4.3" fill="#a326aa"/>
<rect x="487" y="172.6" width="4.3" height="4.3" fill="#a326aa"/>
<rect x="491" y="172.6" width="4.3" height="4.3" fill="#a326aa"/>
<rect x="495" y="172.6" width="4.3" height="4.3" fill="#a326aa"/>
<rect x="499" y="172.6" width="4.3" height="4.3" fill="#a326aa"/>
<rect x="503" y="172.6" width="4.3" height="4.3" fill="#a326aa"/>
<rect x="507" y="172.6" width="4.3" height="4.3" fill="#a326aa"/>
<rect x="511" y="172.6" width="4.3" height="4.3" fill="#a326aa"/>
<rect x="515" y="172.6" width="4.3" height="4.3" fill="#a326aa"/>
<rect x="519" y="172.6" width="4.3" height="4.3" fill="#a326aa"/>
<rect x="523" y="172.6" width="4.3" height="4.3" fill="#a326aa"/>
<rect x="527" y="172.6" width="4.3" height="4.3" fill="#a326aa"/>
<rect x="531" y="172.6" width="4.3" height="4.3" fill="#a326aa"/>
<rect x="535" y="172.6" width="4.3" height="4.3" fill="#a326aa"/>
<rect x="539" y="172.6" width="4.3" height="4.3" fill="#a326aa"/>
<rect x="543" y="172.6" width="4.3" height="4.3" fill="#a326aa"/>
<rect x="547" y="172.6" width="4.3" height="4.3" fill="#a326aa"/>
<rect x="551" y="172.6" width="4.3" height="4.3" fill="#a326aa"/>
<rect x="555" y="172.6" width="4.3" height="4.3" fill="#a326aa"/>
<rect x="559" y="172.6" width="4.3" height="4.3" fill="#a326aa"/>
<rect x="563" y="172.6" width="4.3" height="4.3" fill="#a326aa"/>
<rect x="567" y="172.6" width="4.3" height="4.3" fill="#a326aa"/>
<rect x="571" y="172.6" width="4.3" height="4.3" fill="#a326aa"/>
<rect x="575" y="172.6" width="4.3" height="4.3" fill="#a326aa"/>
<rect x="579" y="172.6" width="4.3" height="4.3" fill="#a326aa"/>
<rect x="583" y="172.6" width="4.3" height="4.3" fill="#a326aa"/>
<rect x="587" y="172.6" width="4.3" height="4.3" fill="#a326aa"/>
<rect x="591" y="172.6" width="4.3" height="4.3" fill="#a326aa"/>
<rect x="595" y="172.6" width="4.3" height="4.3" fill="#a326aa"/>
<rect x="599" y="172.6" width="4.3" height="4.3" fill="#a326aa"/>
<rect x="603" y="172.6" width="4.3" height="4.3" fill="#a326aa"/>
<rect x="607" y="172.6" width="4.3" height="4.3" fill="#a326aa"/>
<rect x="611" y="172.6" width="4.3" height="4.3" fill="#a326aa"/>
<rect x="615" y="172.6" width="4.3" height="4.3" fill="#a326aa"/>
<rect x="619" y="172.6" width="4.3" height="4.3" fill="#a326aa"/>
<rect x="623" y="172.6" width="4.3" height="4.3" fill="#a225ab"/>
<rect x="627" y="172.6" width="4.3" height="4.3" fill="#a124ac"/>
<rect x="447" y="176.6" width="4.3" height="4.3" fill="#911bb9"/>
<rect x="451" y="176.6" width="4.3" height="4.3" fill="#921bb8"/>
<rect x="455" y="176.6" width="4.3" height="4.3" fill="#931cb7"/>
<rect x="459" y="176.6" width="4.3" height="4.3" fill="#951db5"/>
<rect x="463" y="176.6" width="4.3" height="4.3" fill="#971eb5"/>
<rect x="467" y="176.6" width="4.3" height="4.3" fill="#9920b3"/>
<rect x="471" y="176.6" width="4.3" height="4.3" fill="#9a20b2"/>
<rect x="475" y="176.6" width="4.3" height="4.3" fill="#9b21b1"/>
<rect x="479" y="176.6" width="4.3" height="4.3" fill="#9c22b0"/>
<rect x="483" y="176.6" width="4.3" height="4.3" fill="#9c21b0"/>
<rect x="487" y="176.6" width="4.3" height="4.3" fill="#9e22af"/>
<rect x="491" y="176.6" width="4.3" height="4.3" fill="#9e22af"/>
<rect x="495" y="176.6" width="4.3" height="4.3" fill="#9e22af"/>
<rect x="499" y="176.6" width="4.3" height="4.3" fill="#9c21b0"/>
<rect x="503" y="176.6" width="4.3" height="4.3" fill="#9c22b0"/>
<rect x="507" y="176.6" width="4.3" height="4.3" fill="#9c22b0"/>
<rect x="511" y="176.6" width="4.3" height="4.3" fill="#9c22b0"/>
<rect x="515" y="176.6" width="4.3" height="4.3" fill="#9c22b0"/>
<rect x="519" y="176.6" width="4.3" height="4.3" fill="#9c22b0"/>
<rect x="523" y="176.6" width="4.3" height="4.3" fill="#9c22b0"/>
<rect x="527" y="176.6" width="4.3" height="4.3" fill="#9c22b0"/>
<rect x="531" y="176.6" width="4.3" height="4.3" fill="#9c22b0"/>
<rect x="535" y="176.6" width="4.3" height="4.3" fill="#9c22b0"/>
<rect x="539" y="176.6" width="4.3" height="4.3" fill="#9c22b0"/>
<rect x="543" y="176.6" width="4.3" height="4.3" fill="#9c22b0"/>
<rect x="547" y="176.6" width="4.3" height="4.3" fill="#9c22b0"/>
<rect x="551" y="176.6" width="4.3" height="4.3" fill="#9c22b0"/>
<rect x="555" y="176.6" width="4.3" height="4.3" fill="#9c22b0"/>
<rect x="559" y="176.6" width="4.3" height="4.3" fill="#9c22b0"/>
<rect x="563" y="176.6" width="4.3" height="4.3" fill="#9c22b0"/>
<rect x="567" y="176.6" width="4.3" height="4.3" fill="#9c22b0"/>
<rect x="571" y="176.6" width="4.3" height="4.3" fill="#9c22b0"/>
<rect x="575" y="176.6" width="4.3" height="4.3" fill="#9c22b0"/>
<rect x="579" y="176.6" width="4.3" height="4.3" fill="#9c22b0"/>
<rect x="583" y="176.6" width="4.3" height="4.3" fill="#9c22b0"/>
<rect x="587" y="176.6" width="4.3" height="4.3" fill="#9c22b0"/>
<rect x="591" y="176.6" width="4.3" height="4.3" fill="#9c22b0"/>
<rect x="595" y="176.6" width="4.3" height="4.3" fill="#9c22b0"/>
<rect x="599" y="176.6" width="4.3" height="4.3" fill="#9c22b0"/>
<rect x="603" y="176.6" width="4.3" height="4.3" fill="#9c22b0"/>
<rect x="607" y="176.6" width="4.3" height="4.3" fill="#9c22b0"/>
<rect x="611" y="176.6" width="4.3" height="4.3" fill="#9c22b0"/>
<rect x="615" y="176.6" width="4.3" height="4.3" fill="#9c21b0"/>
<rect x="619" y="176.6" width="4.3" height="4.3" fill="#9c21b0"/>
<rect x="623" y="176.6" width="4.3" height="4.3" fill="#9c22b0"/>
<rect x="627" y="176.6" width="4.3" height="4.3" fill="#9b21b1"/>
<rect x="631" y="176.6" width="4.3" height="4.3" fill="#9b21b1"/>
<rect x="447" y="180.6" width="4.3" height="4.3" fill="#8817bd"/>
<rect x="451" y="180.6" width="4.3" height="4.3" fill="#8917bc"/>
<rect x="455" y="180.6" width="4.3" height="4.3" fill="#8c18bb"/>
<rect x="459" y="180.6" width="4.3" height="4.3" fill="#8e19ba"/>
<rect x="463" y="180.6" width="4.3" height="4.3" fill="#8f1ab9"/>
<rect x="467" y="180.6" width="4.3" height="4.3" fill="#921bb8"/>
<rect x="471" y="180.6" width="4.3" height="4.3" fill="#931cb7"/>
<rect x="475" y="180.6" width="4.3" height="4.3" fill="#941db6"/>
<rect x="479" y="180.6" width="4.3" height="4.3" fill="#951db5"/>
<rect x="483" y="180.6" width="4.3" height="4.3" fill="#971eb5"/>
<rect x="487" y="180.6" width="4.3" height="4.3" fill="#971eb5"/>
<rect x="491" y="180.6" width="4.3" height="4.3" fill="#971eb5"/>
<rect x="495" y="180.6" width="4.3" height="4.3" fill="#971eb5"/>
<rect x="499" y="180.6" width="4.3" height="4.3" fill="#971eb5"/>
<rect x="503" y="180.6" width="4.3" height="4.3" fill="#971eb5"/>
<rect x="507" y="180.6" width="4.3" height="4.3" fill="#971eb5"/>
<rect x="511" y="180.6" width="4.3" height="4.3" fill="#971eb5"/>
<rect x="515" y="180.6" width="4.3" height="4.3" fill="#971eb5"/>
<rect x="519" y="180.6" width="4.3" height="4.3" fill="#971eb5"/>
<rect x="523" y="180.6" width="4.3" height="4.3" fill="#971eb5"/>
<rect x="527" y="180.6" width="4.3" height="4.3" fill="#971eb5"/>
<rect x="531" y="180.6" width="4.3" height="4.3" fill="#971eb5"/>
<rect x="535" y="180.6" width="4.3" height="4.3" fill="#971eb5"/>
<rect x="539" y="180.6" width="4.3" height="4.3" fill="#971eb5"/>
<rect x="543" y="180.6" width="4.3" height="4.3" fill="#971eb5"/>
<rect x="547" y="180.6" width="4.3" height="4.3" fill="#971eb5"/>
<rect x="551" y="180.6" width="4.3" height="4.3" fill="#971eb5"/>
<rect x="555" y="180.6" width="4.3" height="4.3" fill="#971eb5"/>
<rect x="559" y="180.6" width="4.3" height="4.3" fill="#971eb5"/>
<rect x="563" y="180.6" width="4.3" height="4.3" fill="#971eb5"/>
<rect x="567" y="180.6" width="4.3" height="4.3" fill="#971eb5"/>
<rect x="571" y="180.6" width="4.3" height="4.3" fill="#971eb5"/>
<rect x="575" y="180.6" width="4.3" height="4.3" fill="#971eb5"/>
<rect x="579" y="180.6" width="4.3" height="4.3" fill="#971eb5"/>
<rect x="583" y="180.6" width="4.3" height="4.3" fill="#971eb5"/>
<rect x="587" y="180.6" width="4.3" height="4.3" fill="#971eb5"/>
<rect x="591" y="180.6" width="4.3" height="4.3" fill="#971eb5"/>
<rect x="595" y="180.6" width="4.3" height="4.3" fill="#971eb5"/>
<rect x="599" y="180.6" width="4.3" height="4.3" fill="#971eb5"/>
<rect x="603" y="180.6" width="4.3" height="4.3" fill="#971eb5"/>
<rect x="607" y="180.6" width="4.3" height="4.3" fill="#971eb5"/>
<rect x="611" y="180.6" width="4.3" height="4.3" fill="#971eb5"/>
<rect x="615" y="180.6" width="4.3" height="4.3" fill="#971eb5"/>
<rect x="619" y="180.6" width="4.3" height="4.3" fill="#971eb5"/>
<rect x="623" y="180.6" width="4.3" height="4.3" fill="#971eb5"/>
<rect x="627" y="180.6" width="4.3" height="4.3" fill="#951db5"/>
<rect x="631" y="180.6" width="4.3" height="4.3" fill="#951db6"/>
<rect x="443" y="184.6" width="4.3" height="4.3" fill="#7d15c0"/>
<rect x="447" y="184.6" width="4.3" height="4.3" fill="#7f16c0"/>
<rect x="451" y="184.6" width="4.3" height="4.3" fill="#8016c0"/>
<rect x="455" y="184.6" width="4.3" height="4.3" fill="#8316bf"/>
<rect x="459" y="184.6" width="4.3" height="4.3" fill="#8516be"/>
<rect x="463" y="184.6" width="4.3" height="4.3" fill="#8817bd"/>
<rect x="467" y="184.6" width="4.3" height="4.3" fill="#8a18bc"/>
<rect x="471" y="184.6" width="4.3" height="4.3" fill="#8c18bb"/>
<rect x="475" y="184.6" width="4.3" height="4.3" fill="#8d18bb"/>
<rect x="479" y="184.6" width="4.3" height="4.3" fill="#8e19ba"/>
<rect x="483" y="184.6" width="4.3" height="4.3" fill="#8f1ab9"/>
<rect x="487" y="184.6" width="4.3" height="4.3" fill="#911bb9"/>
<rect x="491" y="184.6" width="4.3" height="4.3" fill="#911bb9"/>
<rect x="495" y="184.6" width="4.3" height="4.3" fill="#911ab9"/>
<rect x="499" y="184.6" width="4.3" height="4.3" fill="#911bb9"/>
<rect x="503" y="184.6" width="4.3" height="4.3" fill="#911bb9"/>
<rect x="507" y="184.6" width="4.3" height="4.3" fill="#911bb9"/>
<rect x="511" y="184.6" width="4.3" height="4.3" fill="#911bb9"/>
<rect x="515" y="184.6" width="4.3" height="4.3" fill="#911bb9"/>
<rect x="519" y="184.6" width="4.3" height="4.3" fill="#911bb9"/>
<rect x="523" y="184.6" width="4.3" height="4.3" fill="#911bb9"/>
<rect x="527" y="184.6" width="4.3" height="4.3" fill="#911bb9"/>
<rect x="531" y="184.6" width="4.3" height="4.3" fill="#911bb9"/>
<rect x="535" y="184.6" width="4.3" height="4.3" fill="#911bb9"/>
<rect x="539" y="184.6" width="4.3" height="4.3" fill="#911bb9"/>
<rect x="543" y="184.6" width="4.3" height="4.3" fill="#911bb9"/>
<rect x="547" y="184.6" width="4.3" height="4.3" fill="#911bb9"/>
<rect x="551" y="184.6" width="4.3" height="4.3" fill="#911bb9"/>
<rect x="555" y="184.6" width="4.3" height="4.3" fill="#911bb9"/>
<rect x="559" y="184.6" width="4.3" height="4.3" fill="#911bb9"/>
<rect x="563" y="184.6" width="4.3" height="4.3" fill="#911bb9"/>
<rect x="567" y="184.6" width="4.3" height="4.3" fill="#911bb9"/>
<rect x="571" y="184.6" width="4.3" height="4.3" fill="#911bb9"/>
<rect x="575" y="184.6" width="4.3" height="4.3" fill="#911bb9"/>
<rect x="579" y="184.6" width="4.3" height="4.3" fill="#911bb9"/>
<rect x="583" y="184.6" width="4.3" height="4.3" fill="#911bb9"/>
<rect x="587" y="184.6" width="4.3" height="4.3" fill="#911bb9"/>
<rect x="591" y="184.6" width="4.3" height="4.3" fill="#911bb9"/>
<rect x="595" y="184.6" width="4.3" height="4.3" fill="#911bb9"/>
<rect x="599" y="184.6" width="4.3" height="4.3" fill="#911bb9"/>
<rect x="603" y="184.6" width="4.3" height="4.3" fill="#911bb9"/>
<rect x="607" y="184.6" width="4.3" height="4.3" fill="#911bb9"/>
<rect x="611" y="184.6" width="4.3" height="4.3" fill="#911bb9"/>
<rect x="615" y="184.6" width="4.3" height="4.3" fill="#911bb9"/>
<rect x="619" y="184.6" width="4.3" height="4.3" fill="#911bb9"/>
<rect x="623" y="184.6" width="4.3" height="4.3" fill="#911bb9"/>
<rect x="627" y="184.6" width="4.3" height="4.3" fill="#911bb9"/>
<rect x="631" y="184.6" width="4.3" height="4.3" fill="#8f1ab9"/>
<rect x="635" y="184.6" width="4.3" height="4.3" fill="#8f1ab9"/>
<rect x="443" y="188.6" width="4.3" height="4.3" fill="#7212c0"/>
<rect x="447" y="188.6" width="4.3" height="4.3" fill="#7312c0"/>
<rect x="451" y="188.6" width="4.3" height="4.3" fill="#7713c0"/>
<rect x="455" y="188.6" width="4.3" height="4.3" fill="#7a14c0"/>
<rect x="459" y="188.6" width="4.3" height="4.3" fill="#7d15c0"/>
<rect x="463" y="188.6" width="4.3" height="4.3" fill="#8016c0"/>
<rect x="467" y="188.6" width="4.3" height="4.3" fill="#8316bf"/>
<rect x="471" y="188.6" width="4.3" height="4.3" fill="#8516be"/>
<rect x="475" y="188.6" width="4.3" height="4.3" fill="#8716be"/>
<rect x="479" y="188.6" width="4.3" height="4.3" fill="#8817bd"/>
<rect x="483" y="188.6" width="4.3" height="4.3" fill="#8917bc"/>
<rect x="487" y="188.6" width="4.3" height="4.3" fill="#8a18bc"/>
<rect x="491" y="188.6" width="4.3" height="4.3" fill="#8a17bc"/>
<rect x="495" y="188.6" width="4.3" height="4.3" fill="#8a17bc"/>
<rect x="499" y="188.6" width="4.3" height="4.3" fill="#8a17bc"/>
<rect x="503" y="188.6" width="4.3" height="4.3" fill="#8a17bc"/>
<rect x="507" y="188.6" width="4.3" height="4.3" fill="#8a17bc"/>
<rect x="511" y="188.6" width="4.3" height="4.3" fill="#8a17bc"/>
<rect x="515" y="188.6" width="4.3" height="4.3" fill="#8a17bc"/>
<rect x="519" y="188.6" width="4.3" height="4.3" fill="#8a17bc"/>
<rect x="523" y="188.6" width="4.3" height="4.3" fill="#8a17bc"/>
<rect x="527" y="188.6" width="4.3" height="4.3" fill="#8a17bc"/>
<rect x="531" y="188.6" width="4.3" height="4.3" fill="#8a17bc"/>
<rect x="535" y="188.6" width="4.3" height="4.3" fill="#8a17bc"/>
<rect x="539" y="188.6" width="4.3" height="4.3" fill="#8a17bc"/>
<rect x="543" y="188.6" width="4.3" height="4.3" fill="#8a17bc"/>
<rect x="547" y="188.6" width="4.3" height="4.3" fill="#8a17bc"/>
<rect x="551" y="188.6" width="4.3" height="4.3" fill="#8a17bc"/>
<rect x="555" y="188.6" width="4.3" height="4.3" fill="#8a17bc"/>
<rect x="559" y="188.6" width="4.3" height="4.3" fill="#8a17bc"/>
<rect x="563" y="188.6" width="4.3" height="4.3" fill="#8a17bc"/>
<rect x="567" y="188.6" width="4.3" height="4.3" fill="#8a17bc"/>
<rect x="571" y="188.6" width="4.3" height="4.3" fill="#8a17bc"/>
<rect x="575" y="188.6" width="4.3" height="4.3" fill="#8a17bc"/>
<rect x="579" y="188.6" width="4.3" height="4.3" fill="#8a17bc"/>
<rect x="583" y="188.6" width="4.3" height="4.3" fill="#8a17bc"/>
<rect x="587" y="188.6" width="4.3" height="4.3" fill="#8a17bc"/>
<rect x="591" y="188.6" width="4.3" height="4.3" fill="#8a17bc"/>
<rect x="595" y="188.6" width="4.3" height="4.3" fill="#8a17bc"/>
<rect x="599" y="188.6" width="4.3" height="4.3" fill="#8a17bc"/>
<rect x="603" y="188.6" width="4.3" height="4.3" fill="#8a17bc"/>
<rect x="607" y="188.6" width="4.3" height="4.3" fill="#8a17bc"/>
<rect x="611" y="188.6" width="4.3" height="4.3" fill="#8a17bc"/>
<rect x="615" y="188.6" width="4.3" height="4.3" fill="#8a17bc"/>
<rect x="619" y="188.6" width="4.3" height="4.3" fill="#8a17bc"/>
<rect x="623" y="188.6" width="4.3" height="4.3" fill="#8a17bc"/>
<rect x="627" y="188.6" width="4.3" height="4.3" fill="#8a17bc"/>
<rect x="631" y="188.6" width="4.3" height="4.3" fill="#8a18bc"/>
<rect x="635" y="188.6" width="4.3" height="4.3" fill="#8a18bc"/>
<rect x="439" y="192.6" width="4.3" height="4.3" fill="#650fbf"/>
<rect x="443" y="192.6" width="4.3" height="4.3" fill="#650fbf"/>
<rect x="447" y="192.6" width="4.3" height="4.3" fill="#6610bf"/>
<rect x="451" y="192.6" width="4.3" height="4.3" fill="#6b10c0"/>
<rect x="455" y="192.6" width="4.3" height="4.3" fill="#7011c0"/>
<rect x="459" y="192.6" width="4.3" height="4.3" fill="#7312c0"/>
<rect x="463" y="192.6" width="4.3" height="4.3" fill="#7813c0"/>
<rect x="467" y="192.6" width="4.3" height="4.3" fill="#7b14c0"/>
<rect x="471" y="192.6" width="4.3" height="4.3" fill="#7d15c0"/>
<rect x="475" y="192.6" width="4.3" height="4.3" fill="#8016c0"/>
<rect x="479" y="192.6" width="4.3" height="4.3" fill="#8116bf"/>
<rect x="483" y="192.6" width="4.3" height="4.3" fill="#8316bf"/>
<rect x="487" y="192.6" width="4.3" height="4.3" fill="#8416bf"/>
<rect x="491" y="192.6" width="4.3" height="4.3" fill="#8416be"/>
<rect x="495" y="192.6" width="4.3" height="4.3" fill="#8516be"/>
<rect x="499" y="192.6" width="4.3" height="4.3" fill="#8516be"/>
<rect x="503" y="192.6" width="4.3" height="4.3" fill="#8516be"/>
<rect x="507" y="192.6" width="4.3" height="4.3" fill="#8516be"/>
<rect x="511" y="192.6" width="4.3" height="4.3" fill="#8516be"/>
<rect x="515" y="192.6" width="4.3" height="4.3" fill="#8516be"/>
<rect x="519" y="192.6" width="4.3" height="4.3" fill="#8516be"/>
<rect x="523" y="192.6" width="4.3" height="4.3" fill="#8516be"/>
<rect x="527" y="192.6" width="4.3" height="4.3" fill="#8516be"/>
<rect x="531" y="192.6" width="4.3" height="4.3" fill="#8516be"/>
<rect x="535" y="192.6" width="4.3" height="4.3" fill="#8516be"/>
<rect x="539" y="192.6" width="4.3" height="4.3" fill="#8516be"/>
<rect x="543" y="192.6" width="4.3" height="4.3" fill="#8516be"/>
<rect x="547" y="192.6" width="4.3" height="4.3" fill="#8516be"/>
<rect x="551" y="192.6" width="4.3" height="4.3" fill="#8516be"/>
<rect x="555" y="192.6" width="4.3" height="4.3" fill="#8516be"/>
<rect x="559" y="192.6" width="4.3" height="4.3" fill="#8516be"/>
<rect x="563" y="192.6" width="4.3" height="4.3" fill="#8516be"/>
<rect x="567" y="192.6" width="4.3" height="4.3" fill="#8516be"/>
<rect x="571" y="192.6" width="4.3" height="4.3" fill="#8516be"/>
<rect x="575" y="192.6" width="4.3" height="4.3" fill="#8516be"/>
<rect x="579" y="192.6" width="4.3" height="4.3" fill="#8516be"/>
<rect x="583" y="192.6" width="4.3" height="4.3" fill="#8516be"/>
<rect x="587" y="192.6" width="4.3" height="4.3" fill="#8516be"/>
<rect x="591" y="192.6" width="4.3" height="4.3" fill="#8516be"/>
<rect x="595" y="192.6" width="4.3" height="4.3" fill="#8516be"/>
<rect x="599" y="192.6" width="4.3" height="4.3" fill="#8516be"/>
<rect x="603" y="192.6" width="4.3" height="4.3" fill="#8516be"/>
<rect x="607" y="192.6" width="4.3" height="4.3" fill="#8516be"/>
<rect x="611" y="192.6" width="4.3" height="4.3" fill="#8516be"/>
<rect x="615" y="192.6" width="4.3" height="4.3" fill="#8516be"/>
<rect x="619" y="192.6" width="4.3" height="4.3" fill="#8516be"/>
<rect x="623" y="192.6" width="4.3" height="4.3" fill="#8516be"/>
<rect x="627" y="192.6" width="4.3" height="4.3" fill="#8516be"/>
<rect x="631" y="192.6" width="4.3" height="4.3" fill="#8516be"/>
<rect x="635" y="192.6" width="4.3" height="4.3" fill="#8516be"/>
<rect x="639" y="192.6" width="4.3" height="4.3" fill="#8416be"/>
<rect x="435" y="196.6" width="4.3" height="4.3" fill="#550ebb"/>
<rect x="439" y="196.6" width="4.3" height="4.3" fill="#550ebb"/>
<rect x="443" y="196.6" width="4.3" height="4.3" fill="#570ebc"/>
<rect x="447" y="196.6" width="4.3" height="4.3" fill="#5c0ebd"/>
<rect x="451" y="196.6" width="4.3" height="4.3" fill="#610fbe"/>
<rect x="455" y="196.6" width="4.3" height="4.3" fill="#6610bf"/>
<rect x="459" y="196.6" width="4.3" height="4.3" fill="#6b10c0"/>
<rect x="463" y="196.6" width="4.3" height="4.3" fill="#6f11c0"/>
<rect x="467" y="196.6" width="4.3" height="4.3" fill="#7212c0"/>
<rect x="471" y="196.6" width="4.3" height="4.3" fill="#7512c0"/>
<rect x="475" y="196.6" width="4.3" height="4.3" fill="#7813c0"/>
<rect x="479" y="196.6" width="4.3" height="4.3" fill="#7a14c0"/>
<rect x="483" y="196.6" width="4.3" height="4.3" fill="#7c15c0"/>
<rect x="487" y="196.6" width="4.3" height="4.3" fill="#7d15c0"/>
<rect x="491" y="196.6" width="4.3" height="4.3" fill="#7f16c0"/>
<rect x="495" y="196.6" width="4.3" height="4.3" fill="#7f16c0"/>
<rect x="499" y="196.6" width="4.3" height="4.3" fill="#8016c0"/>
<rect x="503" y="196.6" width="4.3" height="4.3" fill="#8016c0"/>
<rect x="507" y="196.6" width="4.3" height="4.3" fill="#8016c0"/>
<rect x="511" y="196.6" width="4.3" height="4.3" fill="#8016c0"/>
<rect x="515" y="196.6" width="4.3" height="4.3" fill="#8016c0"/>
<rect x="519" y="196.6" width="4.3" height="4.3" fill="#8116c0"/>
<rect x="523" y="196.6" width="4.3" height="4.3" fill="#8116c0"/>
<rect x="527" y="196.6" width="4.3" height="4.3" fill="#8116c0"/>
<rect x="531" y="196.6" width="4.3" height="4.3" fill="#8116c0"/>
<rect x="535" y="196.6" width="4.3" height="4.3" fill="#8116c0"/>
<rect x="539" y="196.6" width="4.3" height="4.3" fill="#8116c0"/>
<rect x="543" y="196.6" width="4.3" height="4.3" fill="#8116c0"/>
<rect x="547" y="196.6" width="4.3" height="4.3" fill="#8016c0"/>
<rect x="551" y="196.6" width="4.3" height="4.3" fill="#8116c0"/>
<rect x="555" y="196.6" width="4.3" height="4.3" fill="#8116c0"/>
<rect x="559" y="196.6" width="4.3" height="4.3" fill="#8116c0"/>
<rect x="563" y="196.6" width="4.3" height="4.3" fill="#8116c0"/>
<rect x="567" y="196.6" width="4.3" height="4.3" fill="#8116c0"/>
<rect x="571" y="196.6" width="4.3" height="4.3" fill="#8116c0"/>
<rect x="575" y="196.6" width="4.3" height="4.3" fill="#8116c0"/>
<rect x="579" y="196.6" width="4.3" height="4.3" fill="#8116c0"/>
<rect x="583" y="196.6" width="4.3" height="4.3" fill="#8116c0"/>
<rect x="587" y="196.6" width="4.3" height="4.3" fill="#8116c0"/>
<rect x="591" y="196.6" width="4.3" height="4.3" fill="#8016c0"/>
<rect x="595" y="196.6" width="4.3" height="4.3" fill="#8116c0"/>
<rect x="599" y="196.6" width="4.3" height="4.3" fill="#8116c0"/>
<rect x="603" y="196.6" width="4.3" height="4.3" fill="#8116c0"/>
<rect x="607" y="196.6" width="4.3" height="4.3" fill="#8116c0"/>
<rect x="611" y="196.6" width="4.3" height="4.3" fill="#8116c0"/>
<rect x="615" y="196.6" width="4.3" height="4.3" fill="#8116bf"/>
<rect x="619" y="196.6" width="4.3" height="4.3" fill="#8116bf"/>
<rect x="623" y="196.6" width="4.3" height="4.3" fill="#8116bf"/>
<rect x="627" y="196.6" width="4.3" height="4.3" fill="#8016c0"/>
<rect x="631" y="196.6" width="4.3" height="4.3" fill="#8016c0"/>
<rect x="635" y="196.6" width="4.3" height="4.3" fill="#8016c0"/>
<rect x="639" y="196.6" width="4.3" height="4.3" fill="#7f16c0"/>
<rect x="435" y="200.6" width="4.3" height="4.3" fill="#480cb5"/>
<rect x="439" y="200.6" width="4.3" height="4.3" fill="#470cb5"/>
<rect x="443" y="200.6" width="4.3" height="4.3" fill="#4a0db7"/>
<rect x="447" y="200.6" width="4.3" height="4.3" fill="#500dba"/>
<rect x="451" y="200.6" width="4.3" height="4.3" fill="#570ebc"/>
<rect x="455" y="200.6" width="4.3" height="4.3" fill="#5e0ebd"/>
<rect x="459" y="200.6" width="4.3" height="4.3" fill="#630fbe"/>
<rect x="463" y="200.6" width="4.3" height="4.3" fill="#6610bf"/>
<rect x="467" y="200.6" width="4.3" height="4.3" fill="#6a10bf"/>
<rect x="471" y="200.6" width="4.3" height="4.3" fill="#6d11c0"/>
<rect x="475" y="200.6" width="4.3" height="4.3" fill="#7011c0"/>
<rect x="479" y="200.6" width="4.3" height="4.3" fill="#7212c0"/>
<rect x="483" y="200.6" width="4.3" height="4.3" fill="#7312c0"/>
<rect x="487" y="200.6" width="4.3" height="4.3" fill="#7513c0"/>
<rect x="491" y="200.6" width="4.3" height="4.3" fill="#7713c0"/>
<rect x="495" y="200.6" width="4.3" height="4.3" fill="#7813c0"/>
<rect x="499" y="200.6" width="4.3" height="4.3" fill="#7a14c0"/>
<rect x="503" y="200.6" width="4.3" height="4.3" fill="#7a14c0"/>
<rect x="507" y="200.6" width="4.3" height="4.3" fill="#7a14c0"/>
<rect x="511" y="200.6" width="4.3" height="4.3" fill="#7c14c0"/>
<rect x="515" y="200.6" width="4.3" height="4.3" fill="#7c15c0"/>
<rect x="519" y="200.6" width="4.3" height="4.3" fill="#7c15c0"/>
<rect x="523" y="200.6" width="4.3" height="4.3" fill="#7c15c0"/>
<rect x="527" y="200.6" width="4.3" height="4.3" fill="#7c15c0"/>
<rect x="531" y="200.6" width="4.3" height="4.3" fill="#7c15c0"/>
<rect x="535" y="200.6" width="4.3" height="4.3" fill="#7c15c0"/>
<rect x="539" y="200.6" width="4.3" height="4.3" fill="#7c15c0"/>
<rect x="543" y="200.6" width="4.3" height="4.3" fill="#7c15c0"/>
<rect x="547" y="200.6" width="4.3" height="4.3" fill="#7c15c0"/>
<rect x="551" y="200.6" width="4.3" height="4.3" fill="#7c15c0"/>
<rect x="555" y="200.6" width="4.3" height="4.3" fill="#7c15c0"/>
<rect x="559" y="200.6" width="4.3" height="4.3" fill="#7c15c0"/>
<rect x="563" y="200.6" width="4.3" height="4.3" fill="#7c15c0"/>
<rect x="567" y="200.6" width="4.3" height="4.3" fill="#7c15c0"/>
<rect x="571" y="200.6" width="4.3" height="4.3" fill="#7c15c0"/>
<rect x="575" y="200.6" width="4.3" height="4.3" fill="#7c15c0"/>
<rect x="579" y="200.6" width="4.3" height="4.3" fill="#7c15c0"/>
<rect x="583" y="200.6" width="4.3" height="4.3" fill="#7c15c0"/>
<rect x="587" y="200.6" width="4.3" height="4.3" fill="#7c15c0"/>
<rect x="591" y="200.6" width="4.3" height="4.3" fill="#7c15c0"/>
<rect x="595" y="200.6" width="4.3" height="4.3" fill="#7c15c0"/>
<rect x="599" y="200.6" width="4.3" height="4.3" fill="#7c15c0"/>
<rect x="603" y="200.6" width="4.3" height="4.3" fill="#7c15c0"/>
<rect x="607" y="200.6" width="4.3" height="4.3" fill="#7c15c0"/>
<rect x="611" y="200.6" width="4.3" height="4.3" fill="#7c15c0"/>
<rect x="615" y="200.6" width="4.3" height="4.3" fill="#7c15c0"/>
<rect x="619" y="200.6" width="4.3" height="4.3" fill="#7c15c0"/>
<rect x="623" y="200.6" width="4.3" height="4.3" fill="#7c15c0"/>
<rect x="627" y="200.6" width="4.3" height="4.3" fill="#7c14c0"/>
<rect x="631" y="200.6" width="4.3" height="4.3" fill="#7a14c0"/>
<rect x="635" y="200.6" width="4.3" height="4.3" fill="#7a14c0"/>
<rect x="639" y="200.6" width="4.3" height="4.3" fill="#7a14c0"/>
<rect x="643" y="200.6" width="4.3" height="4.3" fill="#7814c0"/>
<rect x="435" y="204.6" width="4.3" height="4.3" fill="#3c0bad"/>
<rect x="439" y="204.6" width="4.3" height="4.3" fill="#3c0bad"/>
<rect x="443" y="204.6" width="4.3" height="4.3" fill="#430cb2"/>
<rect x="447" y="204.6" width="4.3" height="4.3" fill="#480cb5"/>
<rect x="451" y="204.6" width="4.3" height="4.3" fill="#4d0db9"/>
<rect x="455" y="204.6" width="4.3" height="4.3" fill="#540ebb"/>
<rect x="459" y="204.6" width="4.3" height="4.3" fill="#590ebc"/>
<rect x="463" y="204.6" width="4.3" height="4.3" fill="#5e0ebd"/>
<rect x="467" y="204.6" width="4.3" height="4.3" fill="#610fbe"/>
<rect x="471" y="204.6" width="4.3" height="4.3" fill="#650fbf"/>
<rect x="475" y="204.6" width="4.3" height="4.3" fill="#6810bf"/>
<rect x="479" y="204.6" width="4.3" height="4.3" fill="#6b10c0"/>
<rect x="483" y="204.6" width="4.3" height="4.3" fill="#6d11c0"/>
<rect x="487" y="204.6" width="4.3" height="4.3" fill="#6f11c0"/>
<rect x="491" y="204.6" width="4.3" height="4.3" fill="#7011c0"/>
<rect x="495" y="204.6" width="4.3" height="4.3" fill="#7212c0"/>
<rect x="499" y="204.6" width="4.3" height="4.3" fill="#7312c0"/>
<rect x="503" y="204.6" width="4.3" height="4.3" fill="#7312c0"/>
<rect x="507" y="204.6" width="4.3" height="4.3" fill="#7512c0"/>
<rect x="511" y="204.6" width="4.3" height="4.3" fill="#7513c0"/>
<rect x="515" y="204.6" width="4.3" height="4.3" fill="#7713c0"/>
<rect x="519" y="204.6" width="4.3" height="4.3" fill="#7713c0"/>
<rect x="523" y="204.6" width="4.3" height="4.3" fill="#7713c0"/>
<rect x="527" y="204.6" width="4.3" height="4.3" fill="#7713c0"/>
<rect x="531" y="204.6" width="4.3" height="4.3" fill="#7713c0"/>
<rect x="535" y="204.6" width="4.3" height="4.3" fill="#7713c0"/>
<rect x="539" y="204.6" width="4.3" height="4.3" fill="#7713c0"/>
<rect x="543" y="204.6" width="4.3" height="4.3" fill="#7713c0"/>
<rect x="547" y="204.6" width="4.3" height="4.3" fill="#7713c0"/>
<rect x="551" y="204.6" width="4.3" height="4.3" fill="#7713c0"/>
<rect x="555" y="204.6" width="4.3" height="4.3" fill="#7713c0"/>
<rect x="559" y="204.6" width="4.3" height="4.3" fill="#7713c0"/>
<rect x="563" y="204.6" width="4.3" height="4.3" fill="#7713c0"/>
<rect x="567" y="204.6" width="4.3" height="4.3" fill="#7713c0"/>
<rect x="571" y="204.6" width="4.3" height="4.3" fill="#7713c0"/>
<rect x="575" y="204.6" width="4.3" height="4.3" fill="#7713c0"/>
<rect x="579" y="204.6" width="4.3" height="4.3" fill="#7713c0"/>
<rect x="583" y="204.6" width="4.3" height="4.3" fill="#7713c0"/>
<rect x="587" y="204.6" width="4.3" height="4.3" fill="#7713c0"/>
<rect x="591" y="204.6" width="4.3" height="4.3" fill="#7713c0"/>
<rect x="595" y="204.6" width="4.3" height="4.3" fill="#7713c0"/>
<rect x="599" y="204.6" width="4.3" height="4.3" fill="#7713c0"/>
<rect x="603" y="204.6" width="4.3" height="4.3" fill="#7713c0"/>
<rect x="607" y="204.6" width="4.3" height="4.3" fill="#7713c0"/>
<rect x="611" y="204.6" width="4.3" height="4.3" fill="#7713c0"/>
<rect x="615" y="204.6" width="4.3" height="4.3" fill="#7713c0"/>
<rect x="619" y="204.6" width="4.3" height="4.3" fill="#7713c0"/>
<rect x="623" y="204.6" width="4.3" height="4.3" fill="#7713c0"/>
<rect x="627" y="204.6" width="4.3" height="4.3" fill="#7513c0"/>
<rect x="631" y="204.6" width="4.3" height="4.3" fill="#7512c0"/>
<rect x="635" y="204.6" width="4.3" height="4.3" fill="#7312c0"/>
<rect x="639" y="204.6" width="4.3" height="4.3" fill="#7312c0"/>
<rect x="643" y="204.6" width="4.3" height="4.3" fill="#7312c0"/>
<rect x="435" y="208.6" width="4.3" height="4.3" fill="#3b0bac"/>
<rect x="439" y="208.6" width="4.3" height="4.3" fill="#3f0caf"/>
<rect x="443" y="208.6" width="4.3" height="4.3" fill="#440cb3"/>
<rect x="447" y="208.6" width="4.3" height="4.3" fill="#4a0db7"/>
<rect x="451" y="208.6" width="4.3" height="4.3" fill="#500dba"/>
<rect x="455" y="208.6" width="4.3" height="4.3" fill="#550ebb"/>
<rect x="459" y="208.6" width="4.3" height="4.3" fill="#5b0ebc"/>
<rect x="463" y="208.6" width="4.3" height="4.3" fill="#600fbe"/>
<rect x="467" y="208.6" width="4.3" height="4.3" fill="#630fbe"/>
<rect x="471" y="208.6" width="4.3" height="4.3" fill="#660fbf"/>
<rect x="475" y="208.6" width="4.3" height="4.3" fill="#6810bf"/>
<rect x="479" y="208.6" width="4.3" height="4.3" fill="#6b10c0"/>
<rect x="483" y="208.6" width="4.3" height="4.3" fill="#6d11c0"/>
<rect x="487" y="208.6" width="4.3" height="4.3" fill="#6f11c0"/>
<rect x="491" y="208.6" width="4.3" height="4.3" fill="#7011c0"/>
<rect x="495" y="208.6" width="4.3" height="4.3" fill="#7212c0"/>
<rect x="499" y="208.6" width="4.3" height="4.3" fill="#7212c0"/>
<rect x="503" y="208.6" width="4.3" height="4.3" fill="#7312c0"/>
<rect x="507" y="208.6" width="4.3" height="4.3" fill="#7512c0"/>
<rect x="511" y="208.6" width="4.3" height="4.3" fill="#7513c0"/>
<rect x="515" y="208.6" width="4.3" height="4.3" fill="#7713c0"/>
<rect x="519" y="208.6" width="4.3" height="4.3" fill="#7713c0"/>
<rect x="523" y="208.6" width="4.3" height="4.3" fill="#7713c0"/>
<rect x="527" y="208.6" width="4.3" height="4.3" fill="#7713c0"/>
<rect x="531" y="208.6" width="4.3" height="4.3" fill="#7713c0"/>
<rect x="535" y="208.6" width="4.3" height="4.3" fill="#7713c0"/>
<rect x="539" y="208.6" width="4.3" height="4.3" fill="#7713c0"/>
<rect x="543" y="208.6" width="4.3" height="4.3" fill="#7713c0"/>
<rect x="547" y="208.6" width="4.3" height="4.3" fill="#7713c0"/>
<rect x="551" y="208.6" width="4.3" height="4.3" fill="#7713c0"/>
<rect x="555" y="208.6" width="4.3" height="4.3" fill="#7713c0"/>
<rect x="559" y="208.6" width="4.3" height="4.3" fill="#7713c0"/>
<rect x="563" y="208.6" width="4.3" height="4.3" fill="#7713c0"/>
<rect x="567" y="208.6" width="4.3" height="4.3" fill="#7713c0"/>
<rect x="571" y="208.6" width="4.3" height="4.3" fill="#7713c0"/>
<rect x="575" y="208.6" width="4.3" height="4.3" fill="#7713c0"/>
<rect x="579" y="208.6" width="4.3" height="4.3" fill="#7713c0"/>
<rect x="583" y="208.6" width="4.3" height="4.3" fill="#7713c0"/>
<rect x="587" y="208.6" width="4.3" height="4.3" fill="#7713c0"/>
<rect x="591" y="208.6" width="4.3" height="4.3" fill="#7713c0"/>
<rect x="595" y="208.6" width="4.3" height="4.3" fill="#7713c0"/>
<rect x="599" y="208.6" width="4.3" height="4.3" fill="#7713c0"/>
<rect x="603" y="208.6" width="4.3" height="4.3" fill="#7713c0"/>
<rect x="607" y="208.6" width="4.3" height="4.3" fill="#7713c0"/>
<rect x="611" y="208.6" width="4.3" height="4.3" fill="#7713c0"/>
<rect x="615" y="208.6" width="4.3" height="4.3" fill="#7713c0"/>
<rect x="619" y="208.6" width="4.3" height="4.3" fill="#7713c0"/>
<rect x="623" y="208.6" width="4.3" height="4.3" fill="#7713c0"/>
<rect x="627" y="208.6" width="4.3" height="4.3" fill="#7513c0"/>
<rect x="631" y="208.6" width="4.3" height="4.3" fill="#7512c0"/>
<rect x="635" y="208.6" width="4.3" height="4.3" fill="#7312c0"/>
<rect x="639" y="208.6" width="4.3" height="4.3" fill="#7312c0"/>
<rect x="643" y="208.6" width="4.3" height="4.3" fill="#7212c0"/>
<rect x="435" y="212.6" width="4.3" height="4.3" fill="#3c0bad"/>
<rect x="439" y="212.6" width="4.3" height="4.3" fill="#410cb1"/>
<rect x="443" y="212.6" width="4.3" height="4.3" fill="#480cb5"/>
<rect x="447" y="212.6" width="4.3" height="4.3" fill="#4d0db9"/>
<rect x="451" y="212.6" width="4.3" height="4.3" fill="#520dba"/>
<rect x="455" y="212.6" width="4.3" height="4.3" fill="#590ebc"/>
<rect x="459" y="212.6" width="4.3" height="4.3" fill="#5c0ebd"/>
<rect x="463" y="212.6" width="4.3" height="4.3" fill="#610fbe"/>
<rect x="467" y="212.6" width="4.3" height="4.3" fill="#650fbf"/>
<rect x="471" y="212.6" width="4.3" height="4.3" fill="#6610bf"/>
<rect x="475" y="212.6" width="4.3" height="4.3" fill="#6a10bf"/>
<rect x="479" y="212.6" width="4.3" height="4.3" fill="#6b10c0"/>
<rect x="483" y="212.6" width="4.3" height="4.3" fill="#6d11c0"/>
<rect x="487" y="212.6" width="4.3" height="4.3" fill="#6f11c0"/>
<rect x="491" y="212.6" width="4.3" height="4.3" fill="#7011c0"/>
<rect x="495" y="212.6" width="4.3" height="4.3" fill="#7212c0"/>
<rect x="499" y="212.6" width="4.3" height="4.3" fill="#7312c0"/>
<rect x="503" y="212.6" width="4.3" height="4.3" fill="#7312c0"/>
<rect x="507" y="212.6" width="4.3" height="4.3" fill="#7512c0"/>
<rect x="511" y="212.6" width="4.3" height="4.3" fill="#7513c0"/>
<rect x="515" y="212.6" width="4.3" height="4.3" fill="#7713c0"/>
<rect x="519" y="212.6" width="4.3" height="4.3" fill="#7713c0"/>
<rect x="523" y="212.6" width="4.3" height="4.3" fill="#7713c0"/>
<rect x="527" y="212.6" width="4.3" height="4.3" fill="#7713c0"/>
<rect x="531" y="212.6" width="4.3" height="4.3" fill="#7713c0"/>
<rect x="535" y="212.6" width="4.3" height="4.3" fill="#7713c0"/>
<rect x="539" y="212.6" width="4.3" height="4.3" fill="#7713c0"/>
<rect x="543" y="212.6" width="4.3" height="4.3" fill="#7713c0"/>
<rect x="547" y="212.6" width="4.3" height="4.3" fill="#7713c0"/>
<rect x="551" y="212.6" width="4.3" height="4.3" fill="#7713c0"/>
<rect x="555" y="212.6" width="4.3" height="4.3" fill="#7713c0"/>
<rect x="559" y="212.6" width="4.3" height="4.3" fill="#7713c0"/>
<rect x="563" y="212.6" width="4.3" height="4.3" fill="#7713c0"/>
<rect x="567" y="212.6" width="4.3" height="4.3" fill="#7713c0"/>
<rect x="571" y="212.6" width="4.3" height="4.3" fill="#7713c0"/>
<rect x="575" y="212.6" width="4.3" height="4.3" fill="#7713c0"/>
<rect x="579" y="212.6" width="4.3" height="4.3" fill="#7713c0"/>
<rect x="583" y="212.6" width="4.3" height="4.3" fill="#7713c0"/>
<rect x="587" y="212.6" width="4.3" height="4.3" fill="#7713c0"/>
<rect x="591" y="212.6" width="4.3" height="4.3" fill="#7713c0"/>
<rect x="595" y="212.6" width="4.3" height="4.3" fill="#7713c0"/>
<rect x="599" y="212.6" width="4.3" height="4.3" fill="#7713c0"/>
<rect x="603" y="212.6" width="4.3" height="4.3" fill="#7713c0"/>
<rect x="607" y="212.6" width="4.3" height="4.3" fill="#7713c0"/>
<rect x="611" y="212.6" width="4.3" height="4.3" fill="#7713c0"/>
<rect x="615" y="212.6" width="4.3" height="4.3" fill="#7713c0"/>
<rect x="619" y="212.6" width="4.3" height="4.3" fill="#7713c0"/>
<rect x="623" y="212.6" width="4.3" height="4.3" fill="#7713c0"/>
<rect x="627" y="212.6" width="4.3" height="4.3" fill="#7713c0"/>
<rect x="631" y="212.6" width="4.3" height="4.3" fill="#7512c0"/>
<rect x="635" y="212.6" width="4.3" height="4.3" fill="#7512c0"/>
<rect x="639" y="212.6" width="4.3" height="4.3" fill="#7312c0"/>
<rect x="643" y="212.6" width="4.3" height="4.3" fill="#7212c0"/>
</g></g>
<line x1="620.55" y1="172.44" x2="460.95" y2="172.44" stroke="#858585" stroke-width="1.6" stroke-dasharray="6.6 3.4"/>
<line x1="480.9" y1="206.9" x2="560.7" y2="69.06" stroke="#858585" stroke-width="1.6" stroke-dasharray="6.6 3.4"/>
<line x1="520.8" y1="69.06" x2="600.6" y2="206.9" stroke="#858585" stroke-width="1.6" stroke-dasharray="6.6 3.4"/>
<line x1="600.6" y1="137.98" x2="480.9" y2="137.98" stroke="#858585" stroke-width="1.6" stroke-dasharray="6.6 3.4"/>
<line x1="520.8" y1="206.9" x2="580.65" y2="103.52" stroke="#858585" stroke-width="1.6" stroke-dasharray="6.6 3.4"/>
<line x1="500.85" y1="103.52" x2="560.7" y2="206.9" stroke="#858585" stroke-width="1.6" stroke-dasharray="6.6 3.4"/>
<line x1="580.65" y1="103.52" x2="500.85" y2="103.52" stroke="#858585" stroke-width="1.6" stroke-dasharray="6.6 3.4"/>
<line x1="560.7" y1="206.9" x2="600.6" y2="137.98" stroke="#858585" stroke-width="1.6" stroke-dasharray="6.6 3.4"/>
<line x1="480.9" y1="137.98" x2="520.8" y2="206.9" stroke="#858585" stroke-width="1.6" stroke-dasharray="6.6 3.4"/>
<line x1="560.7" y1="69.06" x2="520.8" y2="69.06" stroke="#858585" stroke-width="1.6" stroke-dasharray="6.6 3.4"/>
<line x1="600.6" y1="206.9" x2="620.55" y2="172.44" stroke="#858585" stroke-width="1.6" stroke-dasharray="6.6 3.4"/>
<line x1="460.95" y1="172.44" x2="480.9" y2="206.9" stroke="#858585" stroke-width="1.6" stroke-dasharray="6.6 3.4"/>
<polygon points="441,206.9 640.5,206.9 540.75,34.6" fill="none" stroke="#000" stroke-width="1.6" stroke-linejoin="miter"/>
<line x1="620.55" y1="172.44" x2="630.05" y2="172.44" stroke="#000" stroke-width="1.7"/>
<text transform="translate(637.05,177.94) scale(1,1.05)" font-size="14.8" text-anchor="start" font-weight="normal" stroke-width="0.1">0.2</text>
<line x1="520.8" y1="69.06" x2="516.05" y2="60.83" stroke="#000" stroke-width="1.7"/>
<text transform="translate(502.80,55.36) scale(1,1.05)" font-size="14.8" text-anchor="middle" font-weight="normal" stroke-width="0.1">0.2</text>
<line x1="480.9" y1="206.9" x2="476.15" y2="215.13" stroke="#000" stroke-width="1.7"/>
<text transform="translate(473.10,231.20) scale(1,1.05)" font-size="14.8" text-anchor="middle" font-weight="normal" stroke-width="0.1">0.2</text>
<line x1="600.6" y1="137.98" x2="610.1" y2="137.98" stroke="#000" stroke-width="1.7"/>
<text transform="translate(617.10,143.48) scale(1,1.05)" font-size="14.8" text-anchor="start" font-weight="normal" stroke-width="0.1">0.4</text>
<line x1="500.85" y1="103.52" x2="496.1" y2="95.29" stroke="#000" stroke-width="1.7"/>
<text transform="translate(482.85,89.82) scale(1,1.05)" font-size="14.8" text-anchor="middle" font-weight="normal" stroke-width="0.1">0.4</text>
<line x1="520.8" y1="206.9" x2="516.05" y2="215.13" stroke="#000" stroke-width="1.7"/>
<text transform="translate(513.00,231.20) scale(1,1.05)" font-size="14.8" text-anchor="middle" font-weight="normal" stroke-width="0.1">0.4</text>
<line x1="580.65" y1="103.52" x2="590.15" y2="103.52" stroke="#000" stroke-width="1.7"/>
<text transform="translate(597.15,109.02) scale(1,1.05)" font-size="14.8" text-anchor="start" font-weight="normal" stroke-width="0.1">0.6</text>
<line x1="480.9" y1="137.98" x2="476.15" y2="129.75" stroke="#000" stroke-width="1.7"/>
<text transform="translate(462.90,124.28) scale(1,1.05)" font-size="14.8" text-anchor="middle" font-weight="normal" stroke-width="0.1">0.6</text>
<line x1="560.7" y1="206.9" x2="555.95" y2="215.13" stroke="#000" stroke-width="1.7"/>
<text transform="translate(552.90,231.20) scale(1,1.05)" font-size="14.8" text-anchor="middle" font-weight="normal" stroke-width="0.1">0.6</text>
<line x1="560.7" y1="69.06" x2="570.2" y2="69.06" stroke="#000" stroke-width="1.7"/>
<text transform="translate(577.20,74.56) scale(1,1.05)" font-size="14.8" text-anchor="start" font-weight="normal" stroke-width="0.1">0.8</text>
<line x1="460.95" y1="172.44" x2="456.2" y2="164.21" stroke="#000" stroke-width="1.7"/>
<text transform="translate(442.95,158.74) scale(1,1.05)" font-size="14.8" text-anchor="middle" font-weight="normal" stroke-width="0.1">0.8</text>
<line x1="600.6" y1="206.9" x2="595.85" y2="215.13" stroke="#000" stroke-width="1.7"/>
<text transform="translate(592.80,231.20) scale(1,1.05)" font-size="14.8" text-anchor="middle" font-weight="normal" stroke-width="0.1">0.8</text>
<line x1="540.75" y1="34.6" x2="550.25" y2="34.6" stroke="#000" stroke-width="1.7"/>
<text transform="translate(557.25,40.10) scale(1,1.05)" font-size="14.8" text-anchor="start" font-weight="normal" stroke-width="0.1">1.0</text>
<line x1="441" y1="206.9" x2="436.25" y2="198.67" stroke="#000" stroke-width="1.7"/>
<text transform="translate(423.00,193.20) scale(1,1.05)" font-size="14.8" text-anchor="middle" font-weight="normal" stroke-width="0.1">1.0</text>
<line x1="640.5" y1="206.9" x2="635.75" y2="215.13" stroke="#000" stroke-width="1.7"/>
<text transform="translate(632.70,231.20) scale(1,1.05)" font-size="14.8" text-anchor="middle" font-weight="normal" stroke-width="0.1">1.0</text>
<text transform="translate(541.30,18.40)" font-size="17.5" text-anchor="middle" font-weight="normal" stroke-width="0.28">Cu</text>
<text transform="translate(406.50,233.60)" font-size="17.5" text-anchor="middle" font-weight="normal" stroke-width="0.28">Au</text>
<text transform="translate(672.50,232.00)" font-size="17.5" text-anchor="middle" font-weight="normal" stroke-width="0.28">Ag</text>
<polygon points="508.78,81.60 516.12,81.60 517.55,83.30 512.45,89.80 507.35,83.30" fill="#86e6f0" stroke="#1f5a66" stroke-width="0.8" stroke-linejoin="round"/><polyline points="510.92,81.60 510.92,83.30 512.45,89.80 513.98,83.30 513.98,81.60" fill="none" stroke="#1f5a66" stroke-width="0.6"/><line x1="507.35" y1="83.30" x2="517.55" y2="83.30" stroke="#1f5a66" stroke-width="0.6"/>
<polygon points="520.45,99.00 519.10,96.26 516.08,95.82 518.26,93.69 517.75,90.68 520.45,92.10 523.15,90.68 522.64,93.69 524.82,95.82 521.80,96.26" fill="#86e6f0" stroke="#1f5a66" stroke-width="0.8" stroke-linejoin="round"/>
<polygon points="535.90,146.40 545.70,146.40 540.80,154.40" fill="#eaaa2e" stroke="#3a2a08" stroke-width="0.8"/>
<polygon points="560.40,190.80 559.05,188.06 556.03,187.62 558.21,185.49 557.70,182.48 560.40,183.90 563.10,182.48 562.59,185.49 564.77,187.62 561.75,188.06" fill="#f3b4f3" stroke="#5a2a5a" stroke-width="0.8" stroke-linejoin="round"/>
<polygon points="25.00,39.00 35.70,39.00 30.35,47.90" fill="#eaaa2e" stroke="#3a2a08" stroke-width="0.8"/>
<polygon points="29.50,67.10 28.15,64.36 25.13,63.92 27.31,61.79 26.80,58.78 29.50,60.20 32.20,58.78 31.69,61.79 33.87,63.92 30.85,64.36" fill="#86e6f0" stroke="#1f5a66" stroke-width="0.8" stroke-linejoin="round"/>
<polygon points="29.50,84.60 28.15,81.86 25.13,81.42 27.31,79.29 26.80,76.28 29.50,77.70 32.20,76.28 31.69,79.29 33.87,81.42 30.85,81.86" fill="#f3b4f3" stroke="#5a2a5a" stroke-width="0.8" stroke-linejoin="round"/>
<polygon points="26.38,93.35 34.02,93.35 35.50,95.05 30.20,102.25 24.90,95.05" fill="#86e6f0" stroke="#1f5a66" stroke-width="0.8" stroke-linejoin="round"/><polyline points="28.61,93.35 28.61,95.05 30.20,102.25 31.79,95.05 31.79,93.35" fill="none" stroke="#1f5a66" stroke-width="0.6"/><line x1="24.90" y1="95.05" x2="35.50" y2="95.05" stroke="#1f5a66" stroke-width="0.6"/>
<text transform="translate(44.40,48.30)" font-size="15.9" text-anchor="start" font-weight="normal" stroke-width="0.18">equiatomic</text>
<text transform="translate(43.40,66.10)" font-size="15.9" text-anchor="start" font-weight="normal" stroke-width="0.18">Cu rich</text>
<text transform="translate(43.40,83.60)" font-size="15.9" text-anchor="start" font-weight="normal" stroke-width="0.18">Ag rich</text>
<text transform="translate(43.40,102.70)" font-size="15.9" text-anchor="start" font-weight="normal" stroke-width="0.18">L1<tspan font-size="10.5" dy="5.4">2</tspan></text>
<linearGradient id="ga" x1="0" x2="1" y1="0" y2="0"><stop offset="0" stop-color="#1c0a97"/><stop offset="0.05" stop-color="#330aa7"/><stop offset="0.1" stop-color="#450cb4"/><stop offset="0.15" stop-color="#590ebc"/><stop offset="0.2" stop-color="#6e11c0"/><stop offset="0.25" stop-color="#8316bf"/><stop offset="0.3" stop-color="#921bb8"/><stop offset="0.35" stop-color="#a124ac"/><stop offset="0.4" stop-color="#b02f9d"/><stop offset="0.45" stop-color="#bd3a8d"/><stop offset="0.5" stop-color="#c9457d"/><stop offset="0.55" stop-color="#d15373"/><stop offset="0.6" stop-color="#d96269"/><stop offset="0.65" stop-color="#e1715f"/><stop offset="0.7" stop-color="#e68155"/><stop offset="0.75" stop-color="#ea924b"/><stop offset="0.8" stop-color="#eea445"/><stop offset="0.85" stop-color="#f0b93e"/><stop offset="0.9" stop-color="#efcf3c"/><stop offset="0.95" stop-color="#eae640"/><stop offset="1" stop-color="#e4fa42"/></linearGradient>
<rect x="64.7" y="244" width="248.6" height="12.4" fill="url(#ga)" stroke="#000" stroke-width="1.5"/>
<line x1="151" y1="257" x2="151" y2="262.6" stroke="#000" stroke-width="1.4"/>
<text transform="translate(151.00,280.60) scale(1,1.05)" font-size="14.6" text-anchor="middle" font-weight="normal" stroke-width="0.1">1.05</text>
<line x1="236.9" y1="257" x2="236.9" y2="262.6" stroke="#000" stroke-width="1.4"/>
<text transform="translate(236.90,280.60) scale(1,1.05)" font-size="14.6" text-anchor="middle" font-weight="normal" stroke-width="0.1">1.10</text>
<text transform="translate(178.80,308.30) scale(1,1.065)" font-size="17" text-anchor="middle" font-weight="normal" stroke-width="0.28">Young’s modulus</text>
<linearGradient id="gb" x1="0" x2="1" y1="0" y2="0"><stop offset="0" stop-color="#1c0a97"/><stop offset="0.05" stop-color="#330aa7"/><stop offset="0.1" stop-color="#450cb4"/><stop offset="0.15" stop-color="#590ebc"/><stop offset="0.2" stop-color="#6e11c0"/><stop offset="0.25" stop-color="#8316bf"/><stop offset="0.3" stop-color="#921bb8"/><stop offset="0.35" stop-color="#a124ac"/><stop offset="0.4" stop-color="#b02f9d"/><stop offset="0.45" stop-color="#bd3a8d"/><stop offset="0.5" stop-color="#c9457d"/><stop offset="0.55" stop-color="#d15373"/><stop offset="0.6" stop-color="#d96269"/><stop offset="0.65" stop-color="#e1715f"/><stop offset="0.7" stop-color="#e68155"/><stop offset="0.75" stop-color="#ea924b"/><stop offset="0.8" stop-color="#eea445"/><stop offset="0.85" stop-color="#f0b93e"/><stop offset="0.9" stop-color="#efcf3c"/><stop offset="0.95" stop-color="#eae640"/><stop offset="1" stop-color="#e4fa42"/></linearGradient>
<rect x="416.7" y="244" width="248.6" height="12.4" fill="url(#gb)" stroke="#000" stroke-width="1.5"/>
<line x1="444.2" y1="257" x2="444.2" y2="262.6" stroke="#000" stroke-width="1.4"/>
<text transform="translate(444.20,280.60) scale(1,1.05)" font-size="14.6" text-anchor="middle" font-weight="normal" stroke-width="0.1">3</text>
<line x1="516.9" y1="257" x2="516.9" y2="262.6" stroke="#000" stroke-width="1.4"/>
<text transform="translate(516.90,280.60) scale(1,1.05)" font-size="14.6" text-anchor="middle" font-weight="normal" stroke-width="0.1">4</text>
<line x1="590.1" y1="257" x2="590.1" y2="262.6" stroke="#000" stroke-width="1.4"/>
<text transform="translate(590.10,280.60) scale(1,1.05)" font-size="14.6" text-anchor="middle" font-weight="normal" stroke-width="0.1">5</text>
<line x1="663" y1="257" x2="663" y2="262.6" stroke="#000" stroke-width="1.4"/>
<text transform="translate(663.00,280.60) scale(1,1.05)" font-size="14.6" text-anchor="middle" font-weight="normal" stroke-width="0.1">6</text>
<text transform="translate(543.50,308.30) scale(1,1.065)" font-size="17" text-anchor="middle" font-weight="normal" stroke-width="0.28">Hardness (GPa)</text>
<rect x="60.09" y="461.64" width="17.57" height="94.96" fill="#f5d8a6" stroke="none"/>
<rect x="60.09" y="461.64" width="17.57" height="94.96" fill="url(#hf)" stroke="#3c3c3c" stroke-width="1"/>
<rect x="77.67" y="362.05" width="17.57" height="194.55" fill="#c894ec" stroke="none"/>
<rect x="77.67" y="362.05" width="17.57" height="194.55" fill="url(#hl)" stroke="#3c3c3c" stroke-width="1"/>
<rect x="104.03" y="514.99" width="17.57" height="41.61" fill="#f5d8a6" stroke="none"/>
<rect x="104.03" y="514.99" width="17.57" height="41.61" fill="url(#hf)" stroke="#3c3c3c" stroke-width="1"/>
<rect x="121.60" y="496.85" width="17.57" height="59.75" fill="#c894ec" stroke="none"/>
<rect x="121.60" y="496.85" width="17.57" height="59.75" fill="url(#hl)" stroke="#3c3c3c" stroke-width="1"/>
<rect x="147.96" y="515.34" width="17.57" height="41.26" fill="#f5d8a6" stroke="none"/>
<rect x="147.96" y="515.34" width="17.57" height="41.26" fill="url(#hf)" stroke="#3c3c3c" stroke-width="1"/>
<rect x="165.53" y="544.51" width="17.57" height="12.09" fill="#c894ec" stroke="none"/>
<rect x="165.53" y="544.51" width="17.57" height="12.09" fill="url(#hl)" stroke="#3c3c3c" stroke-width="1"/>
<rect x="191.89" y="548.42" width="17.57" height="8.18" fill="#f5d8a6" stroke="none"/>
<rect x="191.89" y="548.42" width="17.57" height="8.18" fill="url(#hf)" stroke="#3c3c3c" stroke-width="1"/>
<rect x="209.47" y="549.49" width="17.57" height="7.11" fill="#c894ec" stroke="none"/>
<rect x="209.47" y="549.49" width="17.57" height="7.11" fill="url(#hl)" stroke="#3c3c3c" stroke-width="1"/>
<rect x="235.83" y="535.26" width="17.57" height="21.34" fill="#f5d8a6" stroke="none"/>
<rect x="235.83" y="535.26" width="17.57" height="21.34" fill="url(#hf)" stroke="#3c3c3c" stroke-width="1"/>
<rect x="253.40" y="552.33" width="17.57" height="4.27" fill="#c894ec" stroke="none"/>
<rect x="253.40" y="552.33" width="17.57" height="4.27" fill="url(#hl)" stroke="#3c3c3c" stroke-width="1"/>
<rect x="279.76" y="513.21" width="17.57" height="43.39" fill="#f5d8a6" stroke="none"/>
<rect x="279.76" y="513.21" width="17.57" height="43.39" fill="url(#hf)" stroke="#3c3c3c" stroke-width="1"/>
<rect x="297.33" y="555.18" width="17.57" height="1.42" fill="#c894ec" stroke="none"/>
<rect x="297.33" y="555.18" width="17.57" height="1.42" fill="url(#hl)" stroke="#3c3c3c" stroke-width="1"/>
<rect x="55.7" y="343.2" width="263.6" height="213.4" fill="none" stroke="#000" stroke-width="1.4"/>
<line x1="55.7" y1="556.6" x2="59.7" y2="556.6" stroke="#000" stroke-width="1.3"/>
<line x1="319.3" y1="556.6" x2="315.3" y2="556.6" stroke="#000" stroke-width="1.3"/>
<text transform="translate(38.00,560.20) scale(1,1.12)" font-size="13.9" text-anchor="middle" font-weight="normal" stroke-width="0.1">0.0</text>
<line x1="55.7" y1="538.82" x2="57.9" y2="538.82" stroke="#000" stroke-width="1.3"/>
<line x1="319.3" y1="538.82" x2="317.1" y2="538.82" stroke="#000" stroke-width="1.3"/>
<line x1="55.7" y1="521.03" x2="59.7" y2="521.03" stroke="#000" stroke-width="1.3"/>
<line x1="319.3" y1="521.03" x2="315.3" y2="521.03" stroke="#000" stroke-width="1.3"/>
<text transform="translate(38.00,524.63) scale(1,1.12)" font-size="13.9" text-anchor="middle" font-weight="normal" stroke-width="0.1">0.1</text>
<line x1="55.7" y1="503.25" x2="57.9" y2="503.25" stroke="#000" stroke-width="1.3"/>
<line x1="319.3" y1="503.25" x2="317.1" y2="503.25" stroke="#000" stroke-width="1.3"/>
<line x1="55.7" y1="485.47" x2="59.7" y2="485.47" stroke="#000" stroke-width="1.3"/>
<line x1="319.3" y1="485.47" x2="315.3" y2="485.47" stroke="#000" stroke-width="1.3"/>
<text transform="translate(38.00,489.07) scale(1,1.12)" font-size="13.9" text-anchor="middle" font-weight="normal" stroke-width="0.1">0.2</text>
<line x1="55.7" y1="467.68" x2="57.9" y2="467.68" stroke="#000" stroke-width="1.3"/>
<line x1="319.3" y1="467.68" x2="317.1" y2="467.68" stroke="#000" stroke-width="1.3"/>
<line x1="55.7" y1="449.9" x2="59.7" y2="449.9" stroke="#000" stroke-width="1.3"/>
<line x1="319.3" y1="449.9" x2="315.3" y2="449.9" stroke="#000" stroke-width="1.3"/>
<text transform="translate(38.00,453.50) scale(1,1.12)" font-size="13.9" text-anchor="middle" font-weight="normal" stroke-width="0.1">0.3</text>
<line x1="55.7" y1="432.12" x2="57.9" y2="432.12" stroke="#000" stroke-width="1.3"/>
<line x1="319.3" y1="432.12" x2="317.1" y2="432.12" stroke="#000" stroke-width="1.3"/>
<line x1="55.7" y1="414.33" x2="59.7" y2="414.33" stroke="#000" stroke-width="1.3"/>
<line x1="319.3" y1="414.33" x2="315.3" y2="414.33" stroke="#000" stroke-width="1.3"/>
<text transform="translate(38.00,417.93) scale(1,1.12)" font-size="13.9" text-anchor="middle" font-weight="normal" stroke-width="0.1">0.4</text>
<line x1="55.7" y1="396.55" x2="57.9" y2="396.55" stroke="#000" stroke-width="1.3"/>
<line x1="319.3" y1="396.55" x2="317.1" y2="396.55" stroke="#000" stroke-width="1.3"/>
<line x1="55.7" y1="378.77" x2="59.7" y2="378.77" stroke="#000" stroke-width="1.3"/>
<line x1="319.3" y1="378.77" x2="315.3" y2="378.77" stroke="#000" stroke-width="1.3"/>
<text transform="translate(38.00,382.37) scale(1,1.12)" font-size="13.9" text-anchor="middle" font-weight="normal" stroke-width="0.1">0.5</text>
<line x1="55.7" y1="360.98" x2="57.9" y2="360.98" stroke="#000" stroke-width="1.3"/>
<line x1="319.3" y1="360.98" x2="317.1" y2="360.98" stroke="#000" stroke-width="1.3"/>
<line x1="55.7" y1="343.2" x2="59.7" y2="343.2" stroke="#000" stroke-width="1.3"/>
<line x1="319.3" y1="343.2" x2="315.3" y2="343.2" stroke="#000" stroke-width="1.3"/>
<text transform="translate(38.00,346.80) scale(1,1.12)" font-size="13.9" text-anchor="middle" font-weight="normal" stroke-width="0.1">0.6</text>
<line x1="77.67" y1="556.6" x2="77.67" y2="552.6" stroke="#000" stroke-width="1.3"/>
<line x1="77.67" y1="343.2" x2="77.67" y2="347.2" stroke="#000" stroke-width="1.3"/>
<text transform="translate(78.67,573.40) scale(1,1.04)" font-size="13.7" text-anchor="middle" font-weight="normal" stroke-width="0.1">Cu-Cu</text>
<line x1="121.6" y1="556.6" x2="121.6" y2="552.6" stroke="#000" stroke-width="1.3"/>
<line x1="121.6" y1="343.2" x2="121.6" y2="347.2" stroke="#000" stroke-width="1.3"/>
<text transform="translate(122.60,573.40) scale(1,1.04)" font-size="13.7" text-anchor="middle" font-weight="normal" stroke-width="0.1">Cu-Au</text>
<line x1="165.53" y1="556.6" x2="165.53" y2="552.6" stroke="#000" stroke-width="1.3"/>
<line x1="165.53" y1="343.2" x2="165.53" y2="347.2" stroke="#000" stroke-width="1.3"/>
<text transform="translate(166.53,573.40) scale(1,1.04)" font-size="13.7" text-anchor="middle" font-weight="normal" stroke-width="0.1">Cu-Ag</text>
<line x1="209.47" y1="556.6" x2="209.47" y2="552.6" stroke="#000" stroke-width="1.3"/>
<line x1="209.47" y1="343.2" x2="209.47" y2="347.2" stroke="#000" stroke-width="1.3"/>
<text transform="translate(210.47,573.40) scale(1,1.04)" font-size="13.7" text-anchor="middle" font-weight="normal" stroke-width="0.1">Au-Au</text>
<line x1="253.4" y1="556.6" x2="253.4" y2="552.6" stroke="#000" stroke-width="1.3"/>
<line x1="253.4" y1="343.2" x2="253.4" y2="347.2" stroke="#000" stroke-width="1.3"/>
<text transform="translate(254.40,573.40) scale(1,1.04)" font-size="13.7" text-anchor="middle" font-weight="normal" stroke-width="0.1">Au-Ag</text>
<line x1="297.33" y1="556.6" x2="297.33" y2="552.6" stroke="#000" stroke-width="1.3"/>
<line x1="297.33" y1="343.2" x2="297.33" y2="347.2" stroke="#000" stroke-width="1.3"/>
<text transform="translate(298.33,573.40) scale(1,1.04)" font-size="13.7" text-anchor="middle" font-weight="normal" stroke-width="0.1">Ag-Ag</text>
<text transform="translate(15.60,446.30) rotate(-90) scale(1,1.065)" font-size="17" text-anchor="middle" font-weight="normal" stroke-width="0.28">Pair probability</text>
<text transform="translate(189.90,597.50) scale(1,1.065)" font-size="17" text-anchor="middle" font-weight="normal" stroke-width="0.28">Atomic pairs</text>
<rect x="230.6" y="372.7" width="24.6" height="12" fill="#f5d8a6"/>
<rect x="230.6" y="372.7" width="24.6" height="12" fill="url(#hf)" stroke="#777" stroke-width="1"/>
<rect x="230.6" y="391.4" width="24.6" height="12" fill="#c894ec"/>
<rect x="230.6" y="391.4" width="24.6" height="12" fill="url(#hl)" stroke="#777" stroke-width="1"/>
<text transform="translate(262.20,383.50)" font-size="14.6" text-anchor="start" font-weight="normal" stroke-width="0.1">FCC</text>
<text transform="translate(262.20,402.30)" font-size="14.6" text-anchor="start" font-weight="normal" stroke-width="0.1">L1<tspan font-size="9.5" dy="4.8">2</tspan></text>
<rect x="412.61" y="450.00" width="17.64" height="7.35" fill="#f5d8a6" stroke="none"/>
<rect x="412.61" y="450.00" width="17.64" height="7.35" fill="url(#hf)" stroke="#3c3c3c" stroke-width="1"/>
<rect x="430.25" y="447.44" width="17.64" height="2.56" fill="#c894ec" stroke="none"/>
<rect x="430.25" y="447.44" width="17.64" height="2.56" fill="url(#hl)" stroke="#3c3c3c" stroke-width="1"/>
<rect x="456.71" y="450.00" width="17.64" height="18.42" fill="#f5d8a6" stroke="none"/>
<rect x="456.71" y="450.00" width="17.64" height="18.42" fill="url(#hf)" stroke="#3c3c3c" stroke-width="1"/>
<rect x="474.35" y="450.00" width="17.64" height="13.42" fill="#c894ec" stroke="none"/>
<rect x="474.35" y="450.00" width="17.64" height="13.42" fill="url(#hl)" stroke="#3c3c3c" stroke-width="1"/>
<rect x="500.81" y="426.04" width="17.64" height="23.96" fill="#f5d8a6" stroke="none"/>
<rect x="500.81" y="426.04" width="17.64" height="23.96" fill="url(#hf)" stroke="#3c3c3c" stroke-width="1"/>
<rect x="518.45" y="441.48" width="17.64" height="8.52" fill="#c894ec" stroke="none"/>
<rect x="518.45" y="441.48" width="17.64" height="8.52" fill="url(#hl)" stroke="#3c3c3c" stroke-width="1"/>
<rect x="544.91" y="402.08" width="17.64" height="47.92" fill="#f5d8a6" stroke="none"/>
<rect x="544.91" y="402.08" width="17.64" height="47.92" fill="url(#hf)" stroke="#3c3c3c" stroke-width="1"/>
<rect x="562.55" y="397.07" width="17.64" height="52.93" fill="#c894ec" stroke="none"/>
<rect x="562.55" y="397.07" width="17.64" height="52.93" fill="url(#hl)" stroke="#3c3c3c" stroke-width="1"/>
<rect x="589.01" y="450.00" width="17.64" height="2.13" fill="#f5d8a6" stroke="none"/>
<rect x="589.01" y="450.00" width="17.64" height="2.13" fill="url(#hf)" stroke="#3c3c3c" stroke-width="1"/>
<rect x="606.65" y="450.00" width="17.64" height="13.85" fill="#c894ec" stroke="none"/>
<rect x="606.65" y="450.00" width="17.64" height="13.85" fill="url(#hl)" stroke="#3c3c3c" stroke-width="1"/>
<rect x="633.11" y="450.00" width="17.64" height="39.09" fill="#f5d8a6" stroke="none"/>
<rect x="633.11" y="450.00" width="17.64" height="39.09" fill="url(#hf)" stroke="#3c3c3c" stroke-width="1"/>
<rect x="650.75" y="450.00" width="17.64" height="81.47" fill="#c894ec" stroke="none"/>
<rect x="650.75" y="450.00" width="17.64" height="81.47" fill="url(#hl)" stroke="#3c3c3c" stroke-width="1"/>
<line x1="408.2" y1="450" x2="672.8" y2="450" stroke="#000" stroke-width="1.4"/>
<rect x="408.2" y="343.5" width="264.6" height="213" fill="none" stroke="#000" stroke-width="1.4"/>
<line x1="408.2" y1="545.85" x2="412.2" y2="545.85" stroke="#000" stroke-width="1.3"/>
<line x1="672.8" y1="545.85" x2="668.8" y2="545.85" stroke="#000" stroke-width="1.3"/>
<text transform="translate(390.00,548.45) scale(1,1.12)" font-size="13.9" text-anchor="middle" font-weight="normal" stroke-width="0.1">−0.9</text>
<line x1="408.2" y1="529.88" x2="410.4" y2="529.88" stroke="#000" stroke-width="1.3"/>
<line x1="672.8" y1="529.88" x2="670.6" y2="529.88" stroke="#000" stroke-width="1.3"/>
<line x1="408.2" y1="513.9" x2="412.2" y2="513.9" stroke="#000" stroke-width="1.3"/>
<line x1="672.8" y1="513.9" x2="668.8" y2="513.9" stroke="#000" stroke-width="1.3"/>
<text transform="translate(390.00,516.50) scale(1,1.12)" font-size="13.9" text-anchor="middle" font-weight="normal" stroke-width="0.1">−0.6</text>
<line x1="408.2" y1="497.93" x2="410.4" y2="497.93" stroke="#000" stroke-width="1.3"/>
<line x1="672.8" y1="497.93" x2="670.6" y2="497.93" stroke="#000" stroke-width="1.3"/>
<line x1="408.2" y1="481.95" x2="412.2" y2="481.95" stroke="#000" stroke-width="1.3"/>
<line x1="672.8" y1="481.95" x2="668.8" y2="481.95" stroke="#000" stroke-width="1.3"/>
<text transform="translate(390.00,484.55) scale(1,1.12)" font-size="13.9" text-anchor="middle" font-weight="normal" stroke-width="0.1">−0.3</text>
<line x1="408.2" y1="465.98" x2="410.4" y2="465.98" stroke="#000" stroke-width="1.3"/>
<line x1="672.8" y1="465.98" x2="670.6" y2="465.98" stroke="#000" stroke-width="1.3"/>
<line x1="408.2" y1="450" x2="412.2" y2="450" stroke="#000" stroke-width="1.3"/>
<line x1="672.8" y1="450" x2="668.8" y2="450" stroke="#000" stroke-width="1.3"/>
<text transform="translate(390.00,452.60) scale(1,1.12)" font-size="13.9" text-anchor="middle" font-weight="normal" stroke-width="0.1">0.0</text>
<line x1="408.2" y1="434.02" x2="410.4" y2="434.02" stroke="#000" stroke-width="1.3"/>
<line x1="672.8" y1="434.02" x2="670.6" y2="434.02" stroke="#000" stroke-width="1.3"/>
<line x1="408.2" y1="418.05" x2="412.2" y2="418.05" stroke="#000" stroke-width="1.3"/>
<line x1="672.8" y1="418.05" x2="668.8" y2="418.05" stroke="#000" stroke-width="1.3"/>
<text transform="translate(390.00,420.65) scale(1,1.12)" font-size="13.9" text-anchor="middle" font-weight="normal" stroke-width="0.1">0.3</text>
<line x1="408.2" y1="402.08" x2="410.4" y2="402.08" stroke="#000" stroke-width="1.3"/>
<line x1="672.8" y1="402.08" x2="670.6" y2="402.08" stroke="#000" stroke-width="1.3"/>
<line x1="408.2" y1="386.1" x2="412.2" y2="386.1" stroke="#000" stroke-width="1.3"/>
<line x1="672.8" y1="386.1" x2="668.8" y2="386.1" stroke="#000" stroke-width="1.3"/>
<text transform="translate(390.00,388.70) scale(1,1.12)" font-size="13.9" text-anchor="middle" font-weight="normal" stroke-width="0.1">0.6</text>
<line x1="408.2" y1="370.12" x2="410.4" y2="370.12" stroke="#000" stroke-width="1.3"/>
<line x1="672.8" y1="370.12" x2="670.6" y2="370.12" stroke="#000" stroke-width="1.3"/>
<line x1="408.2" y1="354.15" x2="412.2" y2="354.15" stroke="#000" stroke-width="1.3"/>
<line x1="672.8" y1="354.15" x2="668.8" y2="354.15" stroke="#000" stroke-width="1.3"/>
<text transform="translate(390.00,356.75) scale(1,1.12)" font-size="13.9" text-anchor="middle" font-weight="normal" stroke-width="0.1">0.9</text>
<line x1="430.25" y1="556.5" x2="430.25" y2="552.5" stroke="#000" stroke-width="1.3"/>
<line x1="430.25" y1="343.5" x2="430.25" y2="347.5" stroke="#000" stroke-width="1.3"/>
<text transform="translate(431.25,573.40) scale(1,1.04)" font-size="13.7" text-anchor="middle" font-weight="normal" stroke-width="0.1">Cu-Cu</text>
<line x1="474.35" y1="556.5" x2="474.35" y2="552.5" stroke="#000" stroke-width="1.3"/>
<line x1="474.35" y1="343.5" x2="474.35" y2="347.5" stroke="#000" stroke-width="1.3"/>
<text transform="translate(475.35,573.40) scale(1,1.04)" font-size="13.7" text-anchor="middle" font-weight="normal" stroke-width="0.1">Cu-Au</text>
<line x1="518.45" y1="556.5" x2="518.45" y2="552.5" stroke="#000" stroke-width="1.3"/>
<line x1="518.45" y1="343.5" x2="518.45" y2="347.5" stroke="#000" stroke-width="1.3"/>
<text transform="translate(519.45,573.40) scale(1,1.04)" font-size="13.7" text-anchor="middle" font-weight="normal" stroke-width="0.1">Cu-Ag</text>
<line x1="562.55" y1="556.5" x2="562.55" y2="552.5" stroke="#000" stroke-width="1.3"/>
<line x1="562.55" y1="343.5" x2="562.55" y2="347.5" stroke="#000" stroke-width="1.3"/>
<text transform="translate(563.55,573.40) scale(1,1.04)" font-size="13.7" text-anchor="middle" font-weight="normal" stroke-width="0.1">Au-Au</text>
<line x1="606.65" y1="556.5" x2="606.65" y2="552.5" stroke="#000" stroke-width="1.3"/>
<line x1="606.65" y1="343.5" x2="606.65" y2="347.5" stroke="#000" stroke-width="1.3"/>
<text transform="translate(607.65,573.40) scale(1,1.04)" font-size="13.7" text-anchor="middle" font-weight="normal" stroke-width="0.1">Au-Ag</text>
<line x1="650.75" y1="556.5" x2="650.75" y2="552.5" stroke="#000" stroke-width="1.3"/>
<line x1="650.75" y1="343.5" x2="650.75" y2="347.5" stroke="#000" stroke-width="1.3"/>
<text transform="translate(651.75,573.40) scale(1,1.04)" font-size="13.7" text-anchor="middle" font-weight="normal" stroke-width="0.1">Ag-Ag</text>
<text transform="translate(371.00,441.40) rotate(-90) scale(1,1.065)" font-size="17" text-anchor="middle" font-weight="normal" stroke-width="0.28">CSRO parameters</text>
<text transform="translate(542.50,597.50) scale(1,1.065)" font-size="17" text-anchor="middle" font-weight="normal" stroke-width="0.28">Atomic pairs</text>
<text transform="translate(423.50,423.60) scale(1,1.05)" font-size="15.1" text-anchor="start" font-weight="normal" stroke-width="0.18">Replusive</text>
<text transform="translate(423.50,492.60) scale(1,1.05)" font-size="15.1" text-anchor="start" font-weight="normal" stroke-width="0.18">Attractive</text>
</svg></body></html>
